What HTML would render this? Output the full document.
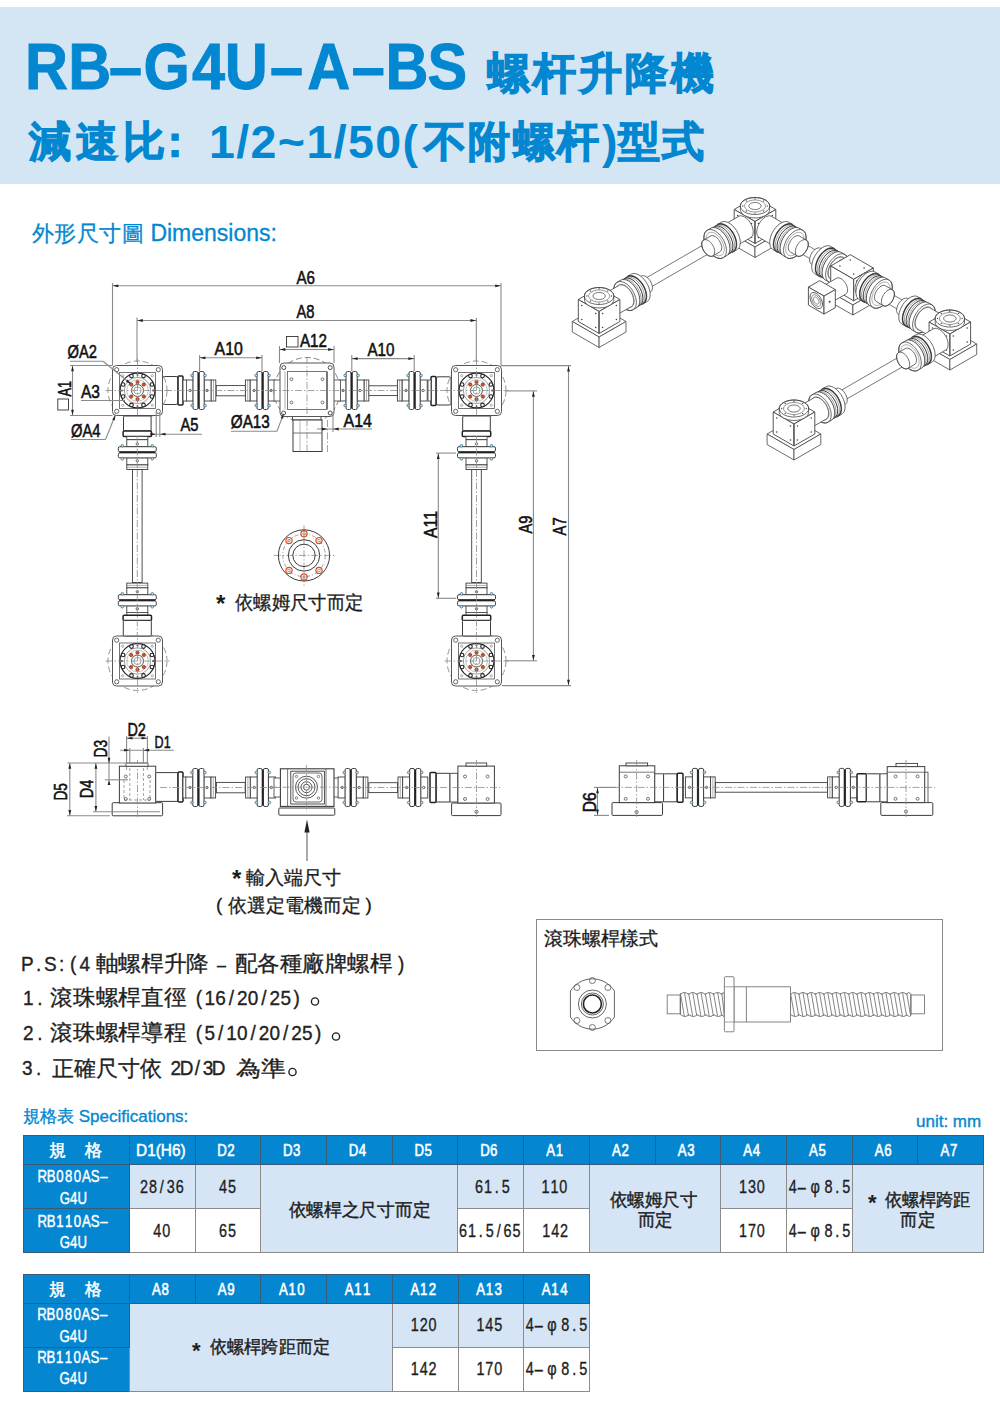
<!DOCTYPE html>
<html><head><meta charset="utf-8">
<style>
html,body{margin:0;padding:0;background:#fff;}
body{width:1000px;height:1406px;position:relative;overflow:hidden;font-family:"Liberation Sans",sans-serif;color:#1a1a1a;}
.abs{position:absolute;white-space:nowrap;}
#band{position:absolute;left:0;top:7px;width:1000px;height:176.5px;background:#d4e5f4;}
#t1{left:26px;top:27.5px;font-size:64px;font-weight:bold;color:#0387d1;line-height:80px;transform:scaleX(0.948);transform-origin:0 0;}
.cj{font-weight:bold;color:#0387d1;-webkit-text-stroke:1.2px #0387d1;}
#t1b{left:487px;top:45px;font-size:43px;line-height:56px;letter-spacing:3px;}
#t2{left:29px;top:113px;font-size:40px;font-weight:bold;color:#0387d1;line-height:56px;}
#dim{left:32px;top:218px;font-size:23px;color:#0387d1;line-height:30px;-webkit-text-stroke:0.3px #0387d1;}
#spec{left:23px;top:1105px;font-size:17px;color:#0387d1;line-height:24px;-webkit-text-stroke:0.35px #0387d1;}
#unit{left:916px;top:1110px;font-size:17px;color:#0387d1;line-height:24px;-webkit-text-stroke:0.35px #0387d1;}
.ps{left:23px;font-size:20px;line-height:28px;color:#222;}
table.sp{position:absolute;border-collapse:collapse;table-layout:fixed;font-size:16px;}
table.sp td{border:1px solid #8c8c8c;text-align:center;vertical-align:middle;padding:0;overflow:hidden;color:#222;white-space:nowrap;}
table.sp tr.h td{background:#0586d1;color:#fff;height:28px;font-weight:bold;border-color:#3a5a78;}
table.sp td.n{background:#0586d1;color:#fff;line-height:21px;font-size:16px;border-color:#3a5a78;}
table.sp td.l{background:#d5e5f5;}
table.sp td.w{background:#fff;}
.box{position:absolute;border:1.5px solid #8a8a8a;}
</style></head><body>
<div id="band"></div>
<div class="abs cj" id="t1b">螺杆升降機</div>
<div class="abs cj" style="left:29px;top:114px;font-size:42px;line-height:56px;letter-spacing:4.8px;">減速比</div>
<div class="abs cj" style="left:153.5px;top:114px;font-size:42px;line-height:56px;">：</div>
<div class="abs" style="left:209px;top:112px;font-size:46.5px;line-height:60px;font-weight:bold;color:#0387d1;letter-spacing:1.4px;">1/2~1/50(</div>
<div class="abs cj" style="left:424px;top:114px;font-size:42px;line-height:56px;letter-spacing:2.3px;">不附螺杆</div>
<div class="abs" style="left:602px;top:112px;font-size:46.5px;line-height:60px;font-weight:bold;color:#0387d1;">)</div>
<div class="abs cj" style="left:618px;top:114px;font-size:42px;line-height:56px;letter-spacing:2.3px;">型式</div>
<div class="abs" id="dim"><span style="font-size:22px;letter-spacing:0.4px">外形尺寸圖</span> Dimensions:</div>


<div class="box" style="left:536px;top:919px;width:404.5px;height:129.5px;"></div>

<svg id="drw" style="position:absolute;left:0;top:0" width="1000" height="1100" viewBox="0 0 1000 1100">
<rect x="216.2" y="385.6" width="29.2" height="10.2" rx="0" fill="#fff" stroke="#3c3c3c" stroke-width="0.9"/>
<rect x="368.6" y="385.8" width="29.0" height="9.8" rx="0" fill="#fff" stroke="#3c3c3c" stroke-width="0.9"/>
<rect x="186.0" y="380.0" width="7.2" height="21.0" rx="0" fill="#fff" stroke="#3c3c3c" stroke-width="0.9"/>
<rect x="204.0" y="380.0" width="7.2" height="21.0" rx="0" fill="#fff" stroke="#3c3c3c" stroke-width="0.9"/>
<rect x="211.2" y="380.0" width="4.6" height="21.0" rx="0" fill="#fff" stroke="#3c3c3c" stroke-width="0.9"/>
<line x1="213.5" y1="380.0" x2="213.5" y2="401.0" stroke="#777" stroke-width="0.6" />
<rect x="193.0" y="371.5" width="5.0" height="38.0" rx="1.5" fill="#fff" stroke="#3c3c3c" stroke-width="1"/>
<rect x="199.2" y="371.5" width="5.0" height="38.0" rx="1.5" fill="#fff" stroke="#3c3c3c" stroke-width="1"/>
<line x1="198.6" y1="372.5" x2="198.6" y2="408.5" stroke="#222" stroke-width="1.6" />
<circle cx="192.1" cy="375.5" r="1.3" fill="#cfe3ee" stroke="#3a6f8a" stroke-width="0.8" />
<circle cx="205.1" cy="375.5" r="1.3" fill="#cfe3ee" stroke="#3a6f8a" stroke-width="0.8" />
<circle cx="192.1" cy="405.5" r="1.3" fill="#cfe3ee" stroke="#3a6f8a" stroke-width="0.8" />
<circle cx="205.1" cy="405.5" r="1.3" fill="#cfe3ee" stroke="#3a6f8a" stroke-width="0.8" />
<circle cx="190.1" cy="390.5" r="1.2" fill="none" stroke="#444" stroke-width="0.8" />
<circle cx="207.1" cy="390.5" r="1.2" fill="none" stroke="#444" stroke-width="0.8" />
<rect x="250.0" y="380.0" width="7.2" height="21.0" rx="0" fill="#fff" stroke="#3c3c3c" stroke-width="0.9"/>
<rect x="268.0" y="380.0" width="7.2" height="21.0" rx="0" fill="#fff" stroke="#3c3c3c" stroke-width="0.9"/>
<rect x="245.4" y="380.0" width="4.6" height="21.0" rx="0" fill="#fff" stroke="#3c3c3c" stroke-width="0.9"/>
<line x1="247.7" y1="380.0" x2="247.7" y2="401.0" stroke="#777" stroke-width="0.6" />
<rect x="257.0" y="371.5" width="5.0" height="38.0" rx="1.5" fill="#fff" stroke="#3c3c3c" stroke-width="1"/>
<rect x="263.2" y="371.5" width="5.0" height="38.0" rx="1.5" fill="#fff" stroke="#3c3c3c" stroke-width="1"/>
<line x1="262.6" y1="372.5" x2="262.6" y2="408.5" stroke="#222" stroke-width="1.6" />
<circle cx="256.1" cy="375.5" r="1.3" fill="#cfe3ee" stroke="#3a6f8a" stroke-width="0.8" />
<circle cx="269.1" cy="375.5" r="1.3" fill="#cfe3ee" stroke="#3a6f8a" stroke-width="0.8" />
<circle cx="256.1" cy="405.5" r="1.3" fill="#cfe3ee" stroke="#3a6f8a" stroke-width="0.8" />
<circle cx="269.1" cy="405.5" r="1.3" fill="#cfe3ee" stroke="#3a6f8a" stroke-width="0.8" />
<circle cx="254.1" cy="390.5" r="1.2" fill="none" stroke="#444" stroke-width="0.8" />
<circle cx="271.1" cy="390.5" r="1.2" fill="none" stroke="#444" stroke-width="0.8" />
<rect x="339.0" y="380.0" width="7.2" height="21.0" rx="0" fill="#fff" stroke="#3c3c3c" stroke-width="0.9"/>
<rect x="357.0" y="380.0" width="7.2" height="21.0" rx="0" fill="#fff" stroke="#3c3c3c" stroke-width="0.9"/>
<rect x="364.2" y="380.0" width="4.6" height="21.0" rx="0" fill="#fff" stroke="#3c3c3c" stroke-width="0.9"/>
<line x1="366.5" y1="380.0" x2="366.5" y2="401.0" stroke="#777" stroke-width="0.6" />
<rect x="346.0" y="371.5" width="5.0" height="38.0" rx="1.5" fill="#fff" stroke="#3c3c3c" stroke-width="1"/>
<rect x="352.2" y="371.5" width="5.0" height="38.0" rx="1.5" fill="#fff" stroke="#3c3c3c" stroke-width="1"/>
<line x1="351.6" y1="372.5" x2="351.6" y2="408.5" stroke="#222" stroke-width="1.6" />
<circle cx="345.1" cy="375.5" r="1.3" fill="#cfe3ee" stroke="#3a6f8a" stroke-width="0.8" />
<circle cx="358.1" cy="375.5" r="1.3" fill="#cfe3ee" stroke="#3a6f8a" stroke-width="0.8" />
<circle cx="345.1" cy="405.5" r="1.3" fill="#cfe3ee" stroke="#3a6f8a" stroke-width="0.8" />
<circle cx="358.1" cy="405.5" r="1.3" fill="#cfe3ee" stroke="#3a6f8a" stroke-width="0.8" />
<circle cx="343.1" cy="390.5" r="1.2" fill="none" stroke="#444" stroke-width="0.8" />
<circle cx="360.1" cy="390.5" r="1.2" fill="none" stroke="#444" stroke-width="0.8" />
<rect x="402.0" y="380.0" width="7.2" height="21.0" rx="0" fill="#fff" stroke="#3c3c3c" stroke-width="0.9"/>
<rect x="420.0" y="380.0" width="7.2" height="21.0" rx="0" fill="#fff" stroke="#3c3c3c" stroke-width="0.9"/>
<rect x="397.4" y="380.0" width="4.6" height="21.0" rx="0" fill="#fff" stroke="#3c3c3c" stroke-width="0.9"/>
<line x1="399.7" y1="380.0" x2="399.7" y2="401.0" stroke="#777" stroke-width="0.6" />
<rect x="409.0" y="371.5" width="5.0" height="38.0" rx="1.5" fill="#fff" stroke="#3c3c3c" stroke-width="1"/>
<rect x="415.2" y="371.5" width="5.0" height="38.0" rx="1.5" fill="#fff" stroke="#3c3c3c" stroke-width="1"/>
<line x1="414.6" y1="372.5" x2="414.6" y2="408.5" stroke="#222" stroke-width="1.6" />
<circle cx="408.1" cy="375.5" r="1.3" fill="#cfe3ee" stroke="#3a6f8a" stroke-width="0.8" />
<circle cx="421.1" cy="375.5" r="1.3" fill="#cfe3ee" stroke="#3a6f8a" stroke-width="0.8" />
<circle cx="408.1" cy="405.5" r="1.3" fill="#cfe3ee" stroke="#3a6f8a" stroke-width="0.8" />
<circle cx="421.1" cy="405.5" r="1.3" fill="#cfe3ee" stroke="#3a6f8a" stroke-width="0.8" />
<circle cx="406.1" cy="390.5" r="1.2" fill="none" stroke="#444" stroke-width="0.8" />
<circle cx="423.1" cy="390.5" r="1.2" fill="none" stroke="#444" stroke-width="0.8" />
<rect x="162.5" y="376.5" width="15.5" height="28.0" rx="2" fill="#fff" stroke="#3c3c3c" stroke-width="1"/>
<rect x="178.0" y="376.0" width="5.0" height="29.0" rx="1" fill="#fff" stroke="#222" stroke-width="1.5"/>
<rect x="183.0" y="380.0" width="3.5" height="21.0" rx="0" fill="#fff" stroke="#3c3c3c" stroke-width="0.8"/>
<rect x="436.0" y="376.8" width="15.0" height="28.2" rx="2" fill="#fff" stroke="#3c3c3c" stroke-width="1"/>
<rect x="431.0" y="376.5" width="5.0" height="29.0" rx="1" fill="#fff" stroke="#222" stroke-width="1.5"/>
<rect x="428.0" y="380.0" width="3.0" height="21.0" rx="0" fill="#fff" stroke="#3c3c3c" stroke-width="0.8"/>
<circle cx="307.0" cy="390.5" r="33" fill="none" stroke="#777" stroke-width="0.9" stroke-dasharray="6 3"/>
<rect x="274.0" y="380.0" width="7.0" height="21.0" rx="0" fill="#fff" stroke="#3c3c3c" stroke-width="0.8"/>
<rect x="333.0" y="380.0" width="7.5" height="21.0" rx="0" fill="#fff" stroke="#3c3c3c" stroke-width="0.8"/>
<rect x="290.0" y="409.5" width="33.0" height="5.5" rx="0" fill="#fff" stroke="#3c3c3c" stroke-width="0.9"/>
<rect x="292.5" y="415.0" width="28.5" height="5.0" rx="0" fill="#fff" stroke="#3c3c3c" stroke-width="0.9"/>
<rect x="293.0" y="420.0" width="29.0" height="31.5" rx="0" fill="#fff" stroke="#3c3c3c" stroke-width="1"/>
<line x1="293.0" y1="433.0" x2="322.0" y2="433.0" stroke="#555" stroke-width="0.8" />
<line x1="300.0" y1="420.0" x2="300.0" y2="451.5" stroke="#888" stroke-width="0.6" />
<rect x="280.0" y="363.0" width="54.0" height="53.5" rx="4" fill="#fff" stroke="#555" stroke-width="1.0"/>
<circle cx="283.8" cy="367.6" r="2" fill="none" stroke="#3c3c3c" stroke-width="0.9" />
<circle cx="330.2" cy="367.6" r="2" fill="none" stroke="#3c3c3c" stroke-width="0.9" />
<circle cx="283.6" cy="413.0" r="2" fill="none" stroke="#3c3c3c" stroke-width="0.9" />
<circle cx="330.2" cy="413.0" r="2" fill="none" stroke="#3c3c3c" stroke-width="0.9" />
<rect x="287.5" y="371.5" width="39.0" height="38.0" rx="0" fill="none" stroke="#666" stroke-width="0.9"/>
<line x1="327.5" y1="371.5" x2="327.5" y2="409.5" stroke="#555" stroke-width="0.8" />
<line x1="285.0" y1="371.5" x2="285.0" y2="409.5" stroke="#777" stroke-width="0.6" />
<circle cx="291.5" cy="379.2" r="1.4" fill="none" stroke="#555" stroke-width="0.8" />
<circle cx="291.5" cy="402.5" r="1.4" fill="none" stroke="#555" stroke-width="0.8" />
<circle cx="322.5" cy="379.2" r="1.4" fill="none" stroke="#555" stroke-width="0.8" />
<circle cx="322.5" cy="402.5" r="1.4" fill="none" stroke="#555" stroke-width="0.8" />
<line x1="307.0" y1="357.0" x2="307.0" y2="452.0" stroke="#8c8c8c" stroke-width="0.8" stroke-dasharray="7 2 1.5 2"/>
<line x1="270.0" y1="390.5" x2="345.0" y2="390.5" stroke="#8c8c8c" stroke-width="0.8" stroke-dasharray="7 2 1.5 2"/>
<line x1="327.5" y1="420.0" x2="327.5" y2="452.0" stroke="#8c8c8c" stroke-width="0.8" stroke-dasharray="7 2 1.5 2"/>
<line x1="165.0" y1="390.5" x2="275.0" y2="390.5" stroke="#8c8c8c" stroke-width="0.8" stroke-dasharray="7 2 1.5 2"/>
<line x1="340.0" y1="390.5" x2="450.0" y2="390.5" stroke="#8c8c8c" stroke-width="0.8" stroke-dasharray="7 2 1.5 2"/>
<circle cx="137.5" cy="390.5" r="29.5" fill="none" stroke="#888" stroke-width="0.9" stroke-dasharray="6 3"/>
<rect x="112.5" y="365.5" width="50.0" height="50.0" rx="4" fill="#fff" stroke="#555" stroke-width="1.0"/>
<circle cx="116.7" cy="369.7" r="2.1" fill="none" stroke="#555" stroke-width="0.9" />
<circle cx="116.7" cy="411.3" r="2.1" fill="none" stroke="#555" stroke-width="0.9" />
<circle cx="158.3" cy="369.7" r="2.1" fill="none" stroke="#555" stroke-width="0.9" />
<circle cx="158.3" cy="411.3" r="2.1" fill="none" stroke="#555" stroke-width="0.9" />
<rect x="119.5" y="372.5" width="36.0" height="36.0" rx="0" fill="none" stroke="#666" stroke-width="0.9"/>
<circle cx="122.7" cy="375.7" r="1.1" fill="none" stroke="#888" stroke-width="0.7" />
<circle cx="122.7" cy="405.3" r="1.1" fill="none" stroke="#888" stroke-width="0.7" />
<circle cx="152.3" cy="375.7" r="1.1" fill="none" stroke="#888" stroke-width="0.7" />
<circle cx="152.3" cy="405.3" r="1.1" fill="none" stroke="#888" stroke-width="0.7" />
<circle cx="137.5" cy="390.5" r="17.4" fill="none" stroke="#2a2a2a" stroke-width="1.2" />
<circle cx="137.5" cy="390.5" r="13.2" fill="none" stroke="#777" stroke-width="0.7" />
<circle cx="151.9" cy="396.5" r="1.8" fill="#fff" stroke="#222" stroke-width="1.1" />
<circle cx="143.5" cy="404.9" r="1.8" fill="#fff" stroke="#222" stroke-width="1.1" />
<circle cx="131.5" cy="404.9" r="1.8" fill="#fff" stroke="#222" stroke-width="1.1" />
<circle cx="123.1" cy="396.5" r="1.8" fill="#fff" stroke="#222" stroke-width="1.1" />
<circle cx="123.1" cy="384.5" r="1.8" fill="#fff" stroke="#222" stroke-width="1.1" />
<circle cx="131.5" cy="376.1" r="1.8" fill="#fff" stroke="#222" stroke-width="1.1" />
<circle cx="143.5" cy="376.1" r="1.8" fill="#fff" stroke="#222" stroke-width="1.1" />
<circle cx="151.9" cy="384.5" r="1.8" fill="#fff" stroke="#222" stroke-width="1.1" />
<circle cx="137.5" cy="374.9" r="0.9" fill="#222" stroke="none" stroke-width="0" />
<circle cx="137.5" cy="406.1" r="0.9" fill="#222" stroke="none" stroke-width="0" />
<circle cx="121.9" cy="390.5" r="0.9" fill="#222" stroke="none" stroke-width="0" />
<circle cx="153.1" cy="390.5" r="0.9" fill="#222" stroke="none" stroke-width="0" />
<circle cx="137.5" cy="390.5" r="10.8" fill="none" stroke="#999" stroke-width="0.6" />
<circle cx="137.5" cy="382.1" r="1.7" fill="#d9501e" stroke="#7a2a10" stroke-width="0.6" />
<circle cx="143.8" cy="384.5" r="1.7" fill="#d9501e" stroke="#7a2a10" stroke-width="0.6" />
<circle cx="131.2" cy="384.5" r="1.7" fill="#d9501e" stroke="#7a2a10" stroke-width="0.6" />
<circle cx="143.8" cy="396.5" r="1.7" fill="#d9501e" stroke="#7a2a10" stroke-width="0.6" />
<circle cx="131.2" cy="396.5" r="1.7" fill="#d9501e" stroke="#7a2a10" stroke-width="0.6" />
<circle cx="137.5" cy="399.1" r="1.7" fill="#d9501e" stroke="#7a2a10" stroke-width="0.6" />
<circle cx="137.5" cy="390.5" r="6.0" fill="none" stroke="#444" stroke-width="0.9" />
<circle cx="137.5" cy="390.5" r="3.6" fill="none" stroke="#777" stroke-width="0.7" />
<line x1="105.5" y1="390.5" x2="169.5" y2="390.5" stroke="#8c8c8c" stroke-width="0.8" stroke-dasharray="7 2 1.5 2"/>
<line x1="137.5" y1="358.5" x2="137.5" y2="422.5" stroke="#8c8c8c" stroke-width="0.8" stroke-dasharray="7 2 1.5 2"/>
<circle cx="476.5" cy="390.5" r="29.5" fill="none" stroke="#888" stroke-width="0.9" stroke-dasharray="6 3"/>
<rect x="451.5" y="365.5" width="50.0" height="50.0" rx="4" fill="#fff" stroke="#555" stroke-width="1.0"/>
<circle cx="455.7" cy="369.7" r="2.1" fill="none" stroke="#555" stroke-width="0.9" />
<circle cx="455.7" cy="411.3" r="2.1" fill="none" stroke="#555" stroke-width="0.9" />
<circle cx="497.3" cy="369.7" r="2.1" fill="none" stroke="#555" stroke-width="0.9" />
<circle cx="497.3" cy="411.3" r="2.1" fill="none" stroke="#555" stroke-width="0.9" />
<rect x="458.5" y="372.5" width="36.0" height="36.0" rx="0" fill="none" stroke="#666" stroke-width="0.9"/>
<circle cx="461.7" cy="375.7" r="1.1" fill="none" stroke="#888" stroke-width="0.7" />
<circle cx="461.7" cy="405.3" r="1.1" fill="none" stroke="#888" stroke-width="0.7" />
<circle cx="491.3" cy="375.7" r="1.1" fill="none" stroke="#888" stroke-width="0.7" />
<circle cx="491.3" cy="405.3" r="1.1" fill="none" stroke="#888" stroke-width="0.7" />
<circle cx="476.5" cy="390.5" r="17.4" fill="none" stroke="#2a2a2a" stroke-width="1.2" />
<circle cx="476.5" cy="390.5" r="13.2" fill="none" stroke="#777" stroke-width="0.7" />
<circle cx="490.9" cy="396.5" r="1.8" fill="#fff" stroke="#222" stroke-width="1.1" />
<circle cx="482.5" cy="404.9" r="1.8" fill="#fff" stroke="#222" stroke-width="1.1" />
<circle cx="470.5" cy="404.9" r="1.8" fill="#fff" stroke="#222" stroke-width="1.1" />
<circle cx="462.1" cy="396.5" r="1.8" fill="#fff" stroke="#222" stroke-width="1.1" />
<circle cx="462.1" cy="384.5" r="1.8" fill="#fff" stroke="#222" stroke-width="1.1" />
<circle cx="470.5" cy="376.1" r="1.8" fill="#fff" stroke="#222" stroke-width="1.1" />
<circle cx="482.5" cy="376.1" r="1.8" fill="#fff" stroke="#222" stroke-width="1.1" />
<circle cx="490.9" cy="384.5" r="1.8" fill="#fff" stroke="#222" stroke-width="1.1" />
<circle cx="476.5" cy="374.9" r="0.9" fill="#222" stroke="none" stroke-width="0" />
<circle cx="476.5" cy="406.1" r="0.9" fill="#222" stroke="none" stroke-width="0" />
<circle cx="460.9" cy="390.5" r="0.9" fill="#222" stroke="none" stroke-width="0" />
<circle cx="492.1" cy="390.5" r="0.9" fill="#222" stroke="none" stroke-width="0" />
<circle cx="476.5" cy="390.5" r="10.8" fill="none" stroke="#999" stroke-width="0.6" />
<circle cx="476.5" cy="382.1" r="1.7" fill="#d9501e" stroke="#7a2a10" stroke-width="0.6" />
<circle cx="482.8" cy="384.5" r="1.7" fill="#d9501e" stroke="#7a2a10" stroke-width="0.6" />
<circle cx="470.2" cy="384.5" r="1.7" fill="#d9501e" stroke="#7a2a10" stroke-width="0.6" />
<circle cx="482.8" cy="396.5" r="1.7" fill="#d9501e" stroke="#7a2a10" stroke-width="0.6" />
<circle cx="470.2" cy="396.5" r="1.7" fill="#d9501e" stroke="#7a2a10" stroke-width="0.6" />
<circle cx="476.5" cy="399.1" r="1.7" fill="#d9501e" stroke="#7a2a10" stroke-width="0.6" />
<circle cx="476.5" cy="390.5" r="6.0" fill="none" stroke="#444" stroke-width="0.9" />
<circle cx="476.5" cy="390.5" r="3.6" fill="none" stroke="#777" stroke-width="0.7" />
<line x1="444.5" y1="390.5" x2="508.5" y2="390.5" stroke="#8c8c8c" stroke-width="0.8" stroke-dasharray="7 2 1.5 2"/>
<line x1="476.5" y1="358.5" x2="476.5" y2="422.5" stroke="#8c8c8c" stroke-width="0.8" stroke-dasharray="7 2 1.5 2"/>
<circle cx="137.5" cy="661.0" r="29.5" fill="none" stroke="#888" stroke-width="0.9" stroke-dasharray="6 3"/>
<rect x="112.5" y="636.0" width="50.0" height="50.0" rx="4" fill="#fff" stroke="#555" stroke-width="1.0"/>
<circle cx="116.7" cy="640.2" r="2.1" fill="none" stroke="#555" stroke-width="0.9" />
<circle cx="116.7" cy="681.8" r="2.1" fill="none" stroke="#555" stroke-width="0.9" />
<circle cx="158.3" cy="640.2" r="2.1" fill="none" stroke="#555" stroke-width="0.9" />
<circle cx="158.3" cy="681.8" r="2.1" fill="none" stroke="#555" stroke-width="0.9" />
<rect x="119.5" y="643.0" width="36.0" height="36.0" rx="0" fill="none" stroke="#666" stroke-width="0.9"/>
<circle cx="122.7" cy="646.2" r="1.1" fill="none" stroke="#888" stroke-width="0.7" />
<circle cx="122.7" cy="675.8" r="1.1" fill="none" stroke="#888" stroke-width="0.7" />
<circle cx="152.3" cy="646.2" r="1.1" fill="none" stroke="#888" stroke-width="0.7" />
<circle cx="152.3" cy="675.8" r="1.1" fill="none" stroke="#888" stroke-width="0.7" />
<circle cx="137.5" cy="661.0" r="17.4" fill="none" stroke="#2a2a2a" stroke-width="1.2" />
<circle cx="137.5" cy="661.0" r="13.2" fill="none" stroke="#777" stroke-width="0.7" />
<circle cx="151.9" cy="667.0" r="1.8" fill="#fff" stroke="#222" stroke-width="1.1" />
<circle cx="143.5" cy="675.4" r="1.8" fill="#fff" stroke="#222" stroke-width="1.1" />
<circle cx="131.5" cy="675.4" r="1.8" fill="#fff" stroke="#222" stroke-width="1.1" />
<circle cx="123.1" cy="667.0" r="1.8" fill="#fff" stroke="#222" stroke-width="1.1" />
<circle cx="123.1" cy="655.0" r="1.8" fill="#fff" stroke="#222" stroke-width="1.1" />
<circle cx="131.5" cy="646.6" r="1.8" fill="#fff" stroke="#222" stroke-width="1.1" />
<circle cx="143.5" cy="646.6" r="1.8" fill="#fff" stroke="#222" stroke-width="1.1" />
<circle cx="151.9" cy="655.0" r="1.8" fill="#fff" stroke="#222" stroke-width="1.1" />
<circle cx="137.5" cy="645.4" r="0.9" fill="#222" stroke="none" stroke-width="0" />
<circle cx="137.5" cy="676.6" r="0.9" fill="#222" stroke="none" stroke-width="0" />
<circle cx="121.9" cy="661.0" r="0.9" fill="#222" stroke="none" stroke-width="0" />
<circle cx="153.1" cy="661.0" r="0.9" fill="#222" stroke="none" stroke-width="0" />
<circle cx="137.5" cy="661.0" r="10.8" fill="none" stroke="#999" stroke-width="0.6" />
<circle cx="137.5" cy="652.6" r="1.7" fill="#d9501e" stroke="#7a2a10" stroke-width="0.6" />
<circle cx="143.8" cy="655.0" r="1.7" fill="#d9501e" stroke="#7a2a10" stroke-width="0.6" />
<circle cx="131.2" cy="655.0" r="1.7" fill="#d9501e" stroke="#7a2a10" stroke-width="0.6" />
<circle cx="143.8" cy="667.0" r="1.7" fill="#d9501e" stroke="#7a2a10" stroke-width="0.6" />
<circle cx="131.2" cy="667.0" r="1.7" fill="#d9501e" stroke="#7a2a10" stroke-width="0.6" />
<circle cx="137.5" cy="669.6" r="1.7" fill="#d9501e" stroke="#7a2a10" stroke-width="0.6" />
<circle cx="137.5" cy="661.0" r="6.0" fill="none" stroke="#444" stroke-width="0.9" />
<circle cx="137.5" cy="661.0" r="3.6" fill="none" stroke="#777" stroke-width="0.7" />
<line x1="105.5" y1="661.0" x2="169.5" y2="661.0" stroke="#8c8c8c" stroke-width="0.8" stroke-dasharray="7 2 1.5 2"/>
<line x1="137.5" y1="629.0" x2="137.5" y2="693.0" stroke="#8c8c8c" stroke-width="0.8" stroke-dasharray="7 2 1.5 2"/>
<circle cx="476.5" cy="661.0" r="29.5" fill="none" stroke="#888" stroke-width="0.9" stroke-dasharray="6 3"/>
<rect x="451.5" y="636.0" width="50.0" height="50.0" rx="4" fill="#fff" stroke="#555" stroke-width="1.0"/>
<circle cx="455.7" cy="640.2" r="2.1" fill="none" stroke="#555" stroke-width="0.9" />
<circle cx="455.7" cy="681.8" r="2.1" fill="none" stroke="#555" stroke-width="0.9" />
<circle cx="497.3" cy="640.2" r="2.1" fill="none" stroke="#555" stroke-width="0.9" />
<circle cx="497.3" cy="681.8" r="2.1" fill="none" stroke="#555" stroke-width="0.9" />
<rect x="458.5" y="643.0" width="36.0" height="36.0" rx="0" fill="none" stroke="#666" stroke-width="0.9"/>
<circle cx="461.7" cy="646.2" r="1.1" fill="none" stroke="#888" stroke-width="0.7" />
<circle cx="461.7" cy="675.8" r="1.1" fill="none" stroke="#888" stroke-width="0.7" />
<circle cx="491.3" cy="646.2" r="1.1" fill="none" stroke="#888" stroke-width="0.7" />
<circle cx="491.3" cy="675.8" r="1.1" fill="none" stroke="#888" stroke-width="0.7" />
<circle cx="476.5" cy="661.0" r="17.4" fill="none" stroke="#2a2a2a" stroke-width="1.2" />
<circle cx="476.5" cy="661.0" r="13.2" fill="none" stroke="#777" stroke-width="0.7" />
<circle cx="490.9" cy="667.0" r="1.8" fill="#fff" stroke="#222" stroke-width="1.1" />
<circle cx="482.5" cy="675.4" r="1.8" fill="#fff" stroke="#222" stroke-width="1.1" />
<circle cx="470.5" cy="675.4" r="1.8" fill="#fff" stroke="#222" stroke-width="1.1" />
<circle cx="462.1" cy="667.0" r="1.8" fill="#fff" stroke="#222" stroke-width="1.1" />
<circle cx="462.1" cy="655.0" r="1.8" fill="#fff" stroke="#222" stroke-width="1.1" />
<circle cx="470.5" cy="646.6" r="1.8" fill="#fff" stroke="#222" stroke-width="1.1" />
<circle cx="482.5" cy="646.6" r="1.8" fill="#fff" stroke="#222" stroke-width="1.1" />
<circle cx="490.9" cy="655.0" r="1.8" fill="#fff" stroke="#222" stroke-width="1.1" />
<circle cx="476.5" cy="645.4" r="0.9" fill="#222" stroke="none" stroke-width="0" />
<circle cx="476.5" cy="676.6" r="0.9" fill="#222" stroke="none" stroke-width="0" />
<circle cx="460.9" cy="661.0" r="0.9" fill="#222" stroke="none" stroke-width="0" />
<circle cx="492.1" cy="661.0" r="0.9" fill="#222" stroke="none" stroke-width="0" />
<circle cx="476.5" cy="661.0" r="10.8" fill="none" stroke="#999" stroke-width="0.6" />
<circle cx="476.5" cy="652.6" r="1.7" fill="#d9501e" stroke="#7a2a10" stroke-width="0.6" />
<circle cx="482.8" cy="655.0" r="1.7" fill="#d9501e" stroke="#7a2a10" stroke-width="0.6" />
<circle cx="470.2" cy="655.0" r="1.7" fill="#d9501e" stroke="#7a2a10" stroke-width="0.6" />
<circle cx="482.8" cy="667.0" r="1.7" fill="#d9501e" stroke="#7a2a10" stroke-width="0.6" />
<circle cx="470.2" cy="667.0" r="1.7" fill="#d9501e" stroke="#7a2a10" stroke-width="0.6" />
<circle cx="476.5" cy="669.6" r="1.7" fill="#d9501e" stroke="#7a2a10" stroke-width="0.6" />
<circle cx="476.5" cy="661.0" r="6.0" fill="none" stroke="#444" stroke-width="0.9" />
<circle cx="476.5" cy="661.0" r="3.6" fill="none" stroke="#777" stroke-width="0.7" />
<line x1="444.5" y1="661.0" x2="508.5" y2="661.0" stroke="#8c8c8c" stroke-width="0.8" stroke-dasharray="7 2 1.5 2"/>
<line x1="476.5" y1="629.0" x2="476.5" y2="693.0" stroke="#8c8c8c" stroke-width="0.8" stroke-dasharray="7 2 1.5 2"/>
<rect x="123.5" y="416.0" width="27.6" height="15.0" rx="1" fill="#fff" stroke="#3c3c3c" stroke-width="1"/>
<rect x="123.1" y="431.0" width="28.4" height="5.5" rx="1" fill="#fff" stroke="#222" stroke-width="1.5"/>
<rect x="126.8" y="436.5" width="21.0" height="3.0" rx="0" fill="#fff" stroke="#3c3c3c" stroke-width="0.8"/>
<g transform="rotate(90 137.3 452.3)">
<rect x="124.7" y="441.8" width="7.2" height="21.0" rx="0" fill="#fff" stroke="#3c3c3c" stroke-width="0.9"/>
<rect x="142.7" y="441.8" width="7.2" height="21.0" rx="0" fill="#fff" stroke="#3c3c3c" stroke-width="0.9"/>
<rect x="149.9" y="441.8" width="4.6" height="21.0" rx="0" fill="#fff" stroke="#3c3c3c" stroke-width="0.9"/>
<line x1="152.2" y1="441.8" x2="152.2" y2="462.8" stroke="#777" stroke-width="0.6" />
<rect x="131.7" y="433.3" width="5.0" height="38.0" rx="1.5" fill="#fff" stroke="#3c3c3c" stroke-width="1"/>
<rect x="137.9" y="433.3" width="5.0" height="38.0" rx="1.5" fill="#fff" stroke="#3c3c3c" stroke-width="1"/>
<line x1="137.3" y1="434.3" x2="137.3" y2="470.3" stroke="#222" stroke-width="1.6" />
<circle cx="130.8" cy="437.3" r="1.3" fill="#cfe3ee" stroke="#3a6f8a" stroke-width="0.8" />
<circle cx="143.8" cy="437.3" r="1.3" fill="#cfe3ee" stroke="#3a6f8a" stroke-width="0.8" />
<circle cx="130.8" cy="467.3" r="1.3" fill="#cfe3ee" stroke="#3a6f8a" stroke-width="0.8" />
<circle cx="143.8" cy="467.3" r="1.3" fill="#cfe3ee" stroke="#3a6f8a" stroke-width="0.8" />
<circle cx="128.8" cy="452.3" r="1.2" fill="none" stroke="#444" stroke-width="0.8" />
<circle cx="145.8" cy="452.3" r="1.2" fill="none" stroke="#444" stroke-width="0.8" />
</g>
<rect x="132.5" y="469.5" width="9.6" height="113.0" rx="0" fill="#fff" stroke="#3c3c3c" stroke-width="0.9"/>
<line x1="137.3" y1="470.0" x2="137.3" y2="582.0" stroke="#8c8c8c" stroke-width="0.8" stroke-dasharray="7 2 1.5 2"/>
<g transform="rotate(90 137.3 600.3)">
<rect x="124.7" y="589.8" width="7.2" height="21.0" rx="0" fill="#fff" stroke="#3c3c3c" stroke-width="0.9"/>
<rect x="142.7" y="589.8" width="7.2" height="21.0" rx="0" fill="#fff" stroke="#3c3c3c" stroke-width="0.9"/>
<rect x="120.1" y="589.8" width="4.6" height="21.0" rx="0" fill="#fff" stroke="#3c3c3c" stroke-width="0.9"/>
<line x1="122.4" y1="589.8" x2="122.4" y2="610.8" stroke="#777" stroke-width="0.6" />
<rect x="131.7" y="581.3" width="5.0" height="38.0" rx="1.5" fill="#fff" stroke="#3c3c3c" stroke-width="1"/>
<rect x="137.9" y="581.3" width="5.0" height="38.0" rx="1.5" fill="#fff" stroke="#3c3c3c" stroke-width="1"/>
<line x1="137.3" y1="582.3" x2="137.3" y2="618.3" stroke="#222" stroke-width="1.6" />
<circle cx="130.8" cy="585.3" r="1.3" fill="#cfe3ee" stroke="#3a6f8a" stroke-width="0.8" />
<circle cx="143.8" cy="585.3" r="1.3" fill="#cfe3ee" stroke="#3a6f8a" stroke-width="0.8" />
<circle cx="130.8" cy="615.3" r="1.3" fill="#cfe3ee" stroke="#3a6f8a" stroke-width="0.8" />
<circle cx="143.8" cy="615.3" r="1.3" fill="#cfe3ee" stroke="#3a6f8a" stroke-width="0.8" />
<circle cx="128.8" cy="600.3" r="1.2" fill="none" stroke="#444" stroke-width="0.8" />
<circle cx="145.8" cy="600.3" r="1.2" fill="none" stroke="#444" stroke-width="0.8" />
</g>
<rect x="126.8" y="612.5" width="21.0" height="2.8" rx="0" fill="#fff" stroke="#3c3c3c" stroke-width="0.8"/>
<rect x="123.1" y="615.3" width="28.4" height="5.2" rx="1" fill="#fff" stroke="#222" stroke-width="1.5"/>
<rect x="123.3" y="620.5" width="28.0" height="15.5" rx="1" fill="#fff" stroke="#3c3c3c" stroke-width="1"/>
<line x1="137.3" y1="436.0" x2="137.3" y2="470.0" stroke="#8c8c8c" stroke-width="0.8" stroke-dasharray="7 2 1.5 2"/>
<line x1="137.3" y1="582.0" x2="137.3" y2="636.0" stroke="#8c8c8c" stroke-width="0.8" stroke-dasharray="7 2 1.5 2"/>
<rect x="462.7" y="416.0" width="27.6" height="15.0" rx="1" fill="#fff" stroke="#3c3c3c" stroke-width="1"/>
<rect x="462.3" y="431.0" width="28.4" height="5.5" rx="1" fill="#fff" stroke="#222" stroke-width="1.5"/>
<rect x="466.0" y="436.5" width="21.0" height="3.0" rx="0" fill="#fff" stroke="#3c3c3c" stroke-width="0.8"/>
<g transform="rotate(90 476.5 452.3)">
<rect x="463.9" y="441.8" width="7.2" height="21.0" rx="0" fill="#fff" stroke="#3c3c3c" stroke-width="0.9"/>
<rect x="481.9" y="441.8" width="7.2" height="21.0" rx="0" fill="#fff" stroke="#3c3c3c" stroke-width="0.9"/>
<rect x="489.1" y="441.8" width="4.6" height="21.0" rx="0" fill="#fff" stroke="#3c3c3c" stroke-width="0.9"/>
<line x1="491.4" y1="441.8" x2="491.4" y2="462.8" stroke="#777" stroke-width="0.6" />
<rect x="470.9" y="433.3" width="5.0" height="38.0" rx="1.5" fill="#fff" stroke="#3c3c3c" stroke-width="1"/>
<rect x="477.1" y="433.3" width="5.0" height="38.0" rx="1.5" fill="#fff" stroke="#3c3c3c" stroke-width="1"/>
<line x1="476.5" y1="434.3" x2="476.5" y2="470.3" stroke="#222" stroke-width="1.6" />
<circle cx="470.0" cy="437.3" r="1.3" fill="#cfe3ee" stroke="#3a6f8a" stroke-width="0.8" />
<circle cx="483.0" cy="437.3" r="1.3" fill="#cfe3ee" stroke="#3a6f8a" stroke-width="0.8" />
<circle cx="470.0" cy="467.3" r="1.3" fill="#cfe3ee" stroke="#3a6f8a" stroke-width="0.8" />
<circle cx="483.0" cy="467.3" r="1.3" fill="#cfe3ee" stroke="#3a6f8a" stroke-width="0.8" />
<circle cx="468.0" cy="452.3" r="1.2" fill="none" stroke="#444" stroke-width="0.8" />
<circle cx="485.0" cy="452.3" r="1.2" fill="none" stroke="#444" stroke-width="0.8" />
</g>
<rect x="471.7" y="469.5" width="9.6" height="113.0" rx="0" fill="#fff" stroke="#3c3c3c" stroke-width="0.9"/>
<line x1="476.5" y1="470.0" x2="476.5" y2="582.0" stroke="#8c8c8c" stroke-width="0.8" stroke-dasharray="7 2 1.5 2"/>
<g transform="rotate(90 476.5 600.3)">
<rect x="463.9" y="589.8" width="7.2" height="21.0" rx="0" fill="#fff" stroke="#3c3c3c" stroke-width="0.9"/>
<rect x="481.9" y="589.8" width="7.2" height="21.0" rx="0" fill="#fff" stroke="#3c3c3c" stroke-width="0.9"/>
<rect x="459.3" y="589.8" width="4.6" height="21.0" rx="0" fill="#fff" stroke="#3c3c3c" stroke-width="0.9"/>
<line x1="461.6" y1="589.8" x2="461.6" y2="610.8" stroke="#777" stroke-width="0.6" />
<rect x="470.9" y="581.3" width="5.0" height="38.0" rx="1.5" fill="#fff" stroke="#3c3c3c" stroke-width="1"/>
<rect x="477.1" y="581.3" width="5.0" height="38.0" rx="1.5" fill="#fff" stroke="#3c3c3c" stroke-width="1"/>
<line x1="476.5" y1="582.3" x2="476.5" y2="618.3" stroke="#222" stroke-width="1.6" />
<circle cx="470.0" cy="585.3" r="1.3" fill="#cfe3ee" stroke="#3a6f8a" stroke-width="0.8" />
<circle cx="483.0" cy="585.3" r="1.3" fill="#cfe3ee" stroke="#3a6f8a" stroke-width="0.8" />
<circle cx="470.0" cy="615.3" r="1.3" fill="#cfe3ee" stroke="#3a6f8a" stroke-width="0.8" />
<circle cx="483.0" cy="615.3" r="1.3" fill="#cfe3ee" stroke="#3a6f8a" stroke-width="0.8" />
<circle cx="468.0" cy="600.3" r="1.2" fill="none" stroke="#444" stroke-width="0.8" />
<circle cx="485.0" cy="600.3" r="1.2" fill="none" stroke="#444" stroke-width="0.8" />
</g>
<rect x="466.0" y="612.5" width="21.0" height="2.8" rx="0" fill="#fff" stroke="#3c3c3c" stroke-width="0.8"/>
<rect x="462.3" y="615.3" width="28.4" height="5.2" rx="1" fill="#fff" stroke="#222" stroke-width="1.5"/>
<rect x="462.5" y="620.5" width="28.0" height="15.5" rx="1" fill="#fff" stroke="#3c3c3c" stroke-width="1"/>
<line x1="476.5" y1="436.0" x2="476.5" y2="470.0" stroke="#8c8c8c" stroke-width="0.8" stroke-dasharray="7 2 1.5 2"/>
<line x1="476.5" y1="582.0" x2="476.5" y2="636.0" stroke="#8c8c8c" stroke-width="0.8" stroke-dasharray="7 2 1.5 2"/>
<line x1="112.5" y1="283.0" x2="112.5" y2="365.5" stroke="#8a8a8a" stroke-width="1.1" />
<line x1="501.0" y1="283.0" x2="501.0" y2="365.6" stroke="#8a8a8a" stroke-width="1.1" />
<line x1="112.5" y1="285.8" x2="501.0" y2="285.8" stroke="#8a8a8a" stroke-width="1.1" />
<path d="M112.8,285.8L118.3,284.4L118.3,287.2Z" fill="#222"/>
<path d="M500.7,285.8L495.2,287.2L495.2,284.4Z" fill="#222"/>
<text x="296.5" y="283.5" font-family="Liberation Sans" font-size="18.5" textLength="18.5" lengthAdjust="spacingAndGlyphs" fill="#111" font-weight="normal" stroke="#111" stroke-width="0.55">A6</text>
<line x1="137.0" y1="317.5" x2="137.0" y2="362.0" stroke="#8a8a8a" stroke-width="1.1" />
<line x1="476.3" y1="318.0" x2="476.3" y2="362.0" stroke="#8a8a8a" stroke-width="1.1" />
<line x1="137.0" y1="320.5" x2="476.3" y2="320.5" stroke="#8a8a8a" stroke-width="1.1" />
<path d="M137.3,320.5L142.8,319.1L142.8,321.9Z" fill="#222"/>
<path d="M476.0,320.5L470.5,321.9L470.5,319.1Z" fill="#222"/>
<text x="296.5" y="318.0" font-family="Liberation Sans" font-size="18.5" textLength="18.0" lengthAdjust="spacingAndGlyphs" fill="#111" font-weight="normal" stroke="#111" stroke-width="0.55">A8</text>
<line x1="199.6" y1="355.0" x2="199.6" y2="371.0" stroke="#8a8a8a" stroke-width="1.1" />
<line x1="262.0" y1="355.0" x2="262.0" y2="371.0" stroke="#8a8a8a" stroke-width="1.1" />
<line x1="199.6" y1="357.8" x2="262.0" y2="357.8" stroke="#8a8a8a" stroke-width="1.1" />
<path d="M199.9,357.8L205.4,356.4L205.4,359.2Z" fill="#222"/>
<path d="M261.7,357.8L256.2,359.2L256.2,356.4Z" fill="#222"/>
<text x="214.6" y="355.0" font-family="Liberation Sans" font-size="17.5" textLength="28.2" lengthAdjust="spacingAndGlyphs" fill="#111" font-weight="normal" stroke="#111" stroke-width="0.55">A10</text>
<line x1="351.8" y1="355.0" x2="351.8" y2="371.0" stroke="#8a8a8a" stroke-width="1.1" />
<line x1="414.2" y1="355.0" x2="414.2" y2="371.0" stroke="#8a8a8a" stroke-width="1.1" />
<line x1="351.8" y1="358.6" x2="414.2" y2="358.6" stroke="#8a8a8a" stroke-width="1.1" />
<path d="M352.1,358.6L357.6,357.2L357.6,360.0Z" fill="#222"/>
<path d="M413.9,358.6L408.4,360.0L408.4,357.2Z" fill="#222"/>
<text x="367.4" y="355.8" font-family="Liberation Sans" font-size="17.5" textLength="27.0" lengthAdjust="spacingAndGlyphs" fill="#111" font-weight="normal" stroke="#111" stroke-width="0.55">A10</text>
<line x1="279.5" y1="346.0" x2="279.5" y2="363.0" stroke="#8a8a8a" stroke-width="1.1" />
<line x1="334.0" y1="346.0" x2="334.0" y2="363.0" stroke="#8a8a8a" stroke-width="1.1" />
<line x1="279.5" y1="349.5" x2="334.0" y2="349.5" stroke="#8a8a8a" stroke-width="1.1" />
<path d="M279.8,349.5L285.3,348.1L285.3,350.9Z" fill="#222"/>
<path d="M333.7,349.5L328.2,350.9L328.2,348.1Z" fill="#222"/>
<rect x="286.5" y="336.5" width="11.5" height="10.5" rx="0" fill="none" stroke="#333" stroke-width="0.9"/>
<text x="300.0" y="347.0" font-family="Liberation Sans" font-size="17.5" textLength="27.0" lengthAdjust="spacingAndGlyphs" fill="#111" font-weight="normal" stroke="#111" stroke-width="0.55">A12</text>
<line x1="333.0" y1="412.0" x2="333.0" y2="432.0" stroke="#8a8a8a" stroke-width="1.1" />
<line x1="317.0" y1="429.0" x2="372.0" y2="429.0" stroke="#8a8a8a" stroke-width="1.1" />
<path d="M327.3,429.0L321.8,430.4L321.8,427.6Z" fill="#222"/>
<path d="M333.2,429.0L338.7,427.6L338.7,430.4Z" fill="#222"/>
<text x="343.5" y="426.5" font-family="Liberation Sans" font-size="17.5" textLength="28.5" lengthAdjust="spacingAndGlyphs" fill="#111" font-weight="normal" stroke="#111" stroke-width="0.55">A14</text>
<text x="230.8" y="428.2" font-family="Liberation Sans" font-size="17.5" textLength="39.0" lengthAdjust="spacingAndGlyphs" fill="#111" font-weight="normal" stroke="#111" stroke-width="0.55">ØA13</text>
<line x1="231.0" y1="431.2" x2="277.0" y2="431.2" stroke="#8a8a8a" stroke-width="1.1" />
<line x1="277.0" y1="431.2" x2="283.5" y2="414.0" stroke="#8a8a8a" stroke-width="1.1" />
<path d="M283.6,413.6L283.2,418.7L280.7,417.9Z" fill="#222"/>
<line x1="156.2" y1="412.0" x2="156.2" y2="437.0" stroke="#8a8a8a" stroke-width="1.1" />
<line x1="159.8" y1="412.0" x2="159.8" y2="437.0" stroke="#8a8a8a" stroke-width="1.1" />
<line x1="150.0" y1="434.2" x2="202.0" y2="434.2" stroke="#8a8a8a" stroke-width="1.1" />
<path d="M156.0,434.2L150.5,435.6L150.5,432.8Z" fill="#222"/>
<path d="M160.0,434.2L165.5,432.8L165.5,435.6Z" fill="#222"/>
<text x="180.4" y="431.2" font-family="Liberation Sans" font-size="17.5" textLength="18.0" lengthAdjust="spacingAndGlyphs" fill="#111" font-weight="normal" stroke="#111" stroke-width="0.55">A5</text>
<text x="67.5" y="358.0" font-family="Liberation Sans" font-size="18" textLength="29.5" lengthAdjust="spacingAndGlyphs" fill="#111" font-weight="normal" stroke="#111" stroke-width="0.55">ØA2</text>
<line x1="70.0" y1="361.2" x2="103.0" y2="361.2" stroke="#8a8a8a" stroke-width="1.1" />
<line x1="103.0" y1="361.2" x2="131.0" y2="384.0" stroke="#8a8a8a" stroke-width="1.1" />
<path d="M131.5,384.4L126.0,381.7L127.6,379.6Z" fill="#222"/>
<line x1="70.0" y1="365.5" x2="112.5" y2="365.5" stroke="#8a8a8a" stroke-width="1.1" />
<line x1="70.0" y1="415.5" x2="112.5" y2="415.5" stroke="#8a8a8a" stroke-width="1.1" />
<line x1="72.5" y1="365.5" x2="72.5" y2="415.5" stroke="#8a8a8a" stroke-width="1.1" />
<path d="M72.5,365.8L73.9,371.3L71.1,371.3Z" fill="#222"/>
<path d="M72.5,415.2L71.1,409.7L73.9,409.7Z" fill="#222"/>
<text transform="translate(70.5,396.5) rotate(-90)" x="0" y="0" font-family="Liberation Sans" font-size="18" textLength="15.5" lengthAdjust="spacingAndGlyphs" fill="#111" stroke="#111" stroke-width="0.55">A1</text>
<rect x="57.8" y="399.0" width="10.7" height="11.0" rx="0" fill="none" stroke="#333" stroke-width="0.9"/>
<text x="81.0" y="398.0" font-family="Liberation Sans" font-size="18" textLength="19.0" lengthAdjust="spacingAndGlyphs" fill="#111" font-weight="normal" stroke="#111" stroke-width="0.55">A3</text>
<line x1="81.0" y1="400.5" x2="125.0" y2="400.5" stroke="#8a8a8a" stroke-width="1.1" />
<text x="71.0" y="437.0" font-family="Liberation Sans" font-size="18" textLength="29.5" lengthAdjust="spacingAndGlyphs" fill="#111" font-weight="normal" stroke="#111" stroke-width="0.55">ØA4</text>
<line x1="71.0" y1="439.5" x2="105.5" y2="439.5" stroke="#8a8a8a" stroke-width="1.1" />
<line x1="105.5" y1="439.5" x2="115.0" y2="416.0" stroke="#8a8a8a" stroke-width="1.1" />
<path d="M115.5,414.5L114.7,420.6L112.3,419.7Z" fill="#222"/>
<line x1="436.0" y1="453.1" x2="456.0" y2="453.1" stroke="#8a8a8a" stroke-width="1.1" />
<line x1="436.0" y1="598.3" x2="456.0" y2="598.3" stroke="#8a8a8a" stroke-width="1.1" />
<line x1="438.3" y1="453.1" x2="438.3" y2="598.3" stroke="#8a8a8a" stroke-width="1.1" />
<path d="M438.3,453.4L439.7,458.9L436.9,458.9Z" fill="#222"/>
<path d="M438.3,598.0L436.9,592.5L439.7,592.5Z" fill="#222"/>
<text transform="translate(437.0,538.0) rotate(-90)" x="0" y="0" font-family="Liberation Sans" font-size="18" textLength="27.0" lengthAdjust="spacingAndGlyphs" fill="#111" stroke="#111" stroke-width="0.55">A11</text>
<line x1="505.0" y1="390.9" x2="537.0" y2="390.9" stroke="#8a8a8a" stroke-width="1.1" />
<line x1="505.0" y1="660.8" x2="537.0" y2="660.8" stroke="#8a8a8a" stroke-width="1.1" />
<line x1="533.4" y1="390.9" x2="533.4" y2="660.8" stroke="#8a8a8a" stroke-width="1.1" />
<path d="M533.4,391.2L534.8,396.7L532.0,396.7Z" fill="#222"/>
<path d="M533.4,660.5L532.0,655.0L534.8,655.0Z" fill="#222"/>
<text transform="translate(531.5,533.6) rotate(-90)" x="0" y="0" font-family="Liberation Sans" font-size="18" textLength="18.0" lengthAdjust="spacingAndGlyphs" fill="#111" stroke="#111" stroke-width="0.55">A9</text>
<line x1="501.0" y1="365.6" x2="571.0" y2="365.6" stroke="#8a8a8a" stroke-width="1.1" />
<line x1="502.0" y1="685.6" x2="571.0" y2="685.6" stroke="#8a8a8a" stroke-width="1.1" />
<line x1="568.5" y1="365.6" x2="568.5" y2="685.6" stroke="#8a8a8a" stroke-width="1.1" />
<path d="M568.5,365.9L569.9,371.4L567.1,371.4Z" fill="#222"/>
<path d="M568.5,685.3L567.1,679.8L569.9,679.8Z" fill="#222"/>
<text transform="translate(565.7,535.4) rotate(-90)" x="0" y="0" font-family="Liberation Sans" font-size="18" textLength="18.0" lengthAdjust="spacingAndGlyphs" fill="#111" stroke="#111" stroke-width="0.55">A7</text>
<line x1="273.8" y1="555.4" x2="335.0" y2="555.4" stroke="#8c8c8c" stroke-width="0.8" stroke-dasharray="7 2 1.5 2"/>
<line x1="304.0" y1="525.3" x2="304.0" y2="585.6" stroke="#8c8c8c" stroke-width="0.8" stroke-dasharray="7 2 1.5 2"/>
<circle cx="304.0" cy="555.4" r="25.6" fill="none" stroke="#3c3c3c" stroke-width="1" />
<circle cx="304.0" cy="555.4" r="21.3" fill="none" stroke="#888" stroke-width="0.8" stroke-dasharray="4 2 1 2"/>
<circle cx="304.0" cy="555.4" r="15.7" fill="none" stroke="#3c3c3c" stroke-width="1" />
<circle cx="304.0" cy="555.4" r="11.2" fill="none" stroke="#3c3c3c" stroke-width="1" />
<circle cx="304.0" cy="533.8" r="3.1" fill="none" stroke="#d9501e" stroke-width="1.2" />
<circle cx="304.0" cy="533.8" r="1.3" fill="none" stroke="#777" stroke-width="0.6" />
<circle cx="319.0" cy="540.6" r="3.1" fill="none" stroke="#d9501e" stroke-width="1.2" />
<circle cx="319.0" cy="540.6" r="1.3" fill="none" stroke="#777" stroke-width="0.6" />
<circle cx="289.0" cy="540.6" r="3.1" fill="none" stroke="#d9501e" stroke-width="1.2" />
<circle cx="289.0" cy="540.6" r="1.3" fill="none" stroke="#777" stroke-width="0.6" />
<circle cx="319.0" cy="570.4" r="3.1" fill="none" stroke="#d9501e" stroke-width="1.2" />
<circle cx="319.0" cy="570.4" r="1.3" fill="none" stroke="#777" stroke-width="0.6" />
<circle cx="289.0" cy="570.4" r="3.1" fill="none" stroke="#d9501e" stroke-width="1.2" />
<circle cx="289.0" cy="570.4" r="1.3" fill="none" stroke="#777" stroke-width="0.6" />
<circle cx="304.0" cy="577.0" r="3.1" fill="none" stroke="#d9501e" stroke-width="1.2" />
<circle cx="304.0" cy="577.0" r="1.3" fill="none" stroke="#777" stroke-width="0.6" />
<rect x="112.2" y="802.7" width="50.4" height="13.1" rx="1" fill="#fff" stroke="#3c3c3c" stroke-width="1"/>
<rect x="119.4" y="766.2" width="36.3" height="36.8" rx="0" fill="#fff" stroke="#3c3c3c" stroke-width="1"/>
<line x1="129.8" y1="763.0" x2="129.8" y2="800.0" stroke="#777" stroke-width="0.7" stroke-dasharray="3 2"/>
<line x1="143.4" y1="763.0" x2="143.4" y2="800.0" stroke="#777" stroke-width="0.7" stroke-dasharray="3 2"/>
<line x1="126.6" y1="763.0" x2="126.6" y2="770.0" stroke="#777" stroke-width="0.7" />
<line x1="147.4" y1="763.0" x2="147.4" y2="770.0" stroke="#777" stroke-width="0.7" />
<line x1="124.0" y1="800.0" x2="150.0" y2="800.0" stroke="#777" stroke-width="0.7" stroke-dasharray="3 2"/>
<line x1="124.0" y1="780.0" x2="124.0" y2="800.0" stroke="#777" stroke-width="0.7" stroke-dasharray="3 2"/>
<line x1="150.0" y1="780.0" x2="150.0" y2="800.0" stroke="#777" stroke-width="0.7" stroke-dasharray="3 2"/>
<circle cx="125.8" cy="776.5" r="1.5" fill="none" stroke="#555" stroke-width="0.8" />
<circle cx="125.8" cy="799.0" r="1.5" fill="none" stroke="#555" stroke-width="0.8" />
<circle cx="149.2" cy="776.5" r="1.5" fill="none" stroke="#555" stroke-width="0.8" />
<circle cx="149.2" cy="799.0" r="1.5" fill="none" stroke="#555" stroke-width="0.8" />
<line x1="137.5" y1="760.0" x2="137.5" y2="818.0" stroke="#8c8c8c" stroke-width="0.8" stroke-dasharray="7 2 1.5 2"/>
<rect x="126.0" y="763.0" width="22.0" height="3.2" rx="0" fill="#fff" stroke="#3c3c3c" stroke-width="0.8"/>
<rect x="155.7" y="772.6" width="22.3" height="28.8" rx="1" fill="#fff" stroke="#3c3c3c" stroke-width="1"/>
<rect x="178.0" y="772.0" width="5.0" height="30.0" rx="1" fill="#fff" stroke="#222" stroke-width="1.5"/>
<rect x="183.0" y="777.0" width="3.5" height="21.0" rx="0" fill="#fff" stroke="#3c3c3c" stroke-width="0.8"/>
<rect x="185.8" y="777.0" width="7.2" height="21.0" rx="0" fill="#fff" stroke="#3c3c3c" stroke-width="0.9"/>
<rect x="203.8" y="777.0" width="7.2" height="21.0" rx="0" fill="#fff" stroke="#3c3c3c" stroke-width="0.9"/>
<rect x="211.0" y="777.0" width="4.6" height="21.0" rx="0" fill="#fff" stroke="#3c3c3c" stroke-width="0.9"/>
<line x1="213.3" y1="777.0" x2="213.3" y2="798.0" stroke="#777" stroke-width="0.6" />
<rect x="192.8" y="768.5" width="5.0" height="38.0" rx="1.5" fill="#fff" stroke="#3c3c3c" stroke-width="1"/>
<rect x="199.0" y="768.5" width="5.0" height="38.0" rx="1.5" fill="#fff" stroke="#3c3c3c" stroke-width="1"/>
<line x1="198.4" y1="769.5" x2="198.4" y2="805.5" stroke="#222" stroke-width="1.6" />
<circle cx="191.9" cy="772.5" r="1.3" fill="#cfe3ee" stroke="#3a6f8a" stroke-width="0.8" />
<circle cx="204.9" cy="772.5" r="1.3" fill="#cfe3ee" stroke="#3a6f8a" stroke-width="0.8" />
<circle cx="191.9" cy="802.5" r="1.3" fill="#cfe3ee" stroke="#3a6f8a" stroke-width="0.8" />
<circle cx="204.9" cy="802.5" r="1.3" fill="#cfe3ee" stroke="#3a6f8a" stroke-width="0.8" />
<circle cx="189.9" cy="787.5" r="1.2" fill="none" stroke="#444" stroke-width="0.8" />
<circle cx="206.9" cy="787.5" r="1.2" fill="none" stroke="#444" stroke-width="0.8" />
<rect x="216.4" y="782.4" width="28.8" height="10.4" rx="0" fill="#fff" stroke="#3c3c3c" stroke-width="0.9"/>
<rect x="250.2" y="777.0" width="7.2" height="21.0" rx="0" fill="#fff" stroke="#3c3c3c" stroke-width="0.9"/>
<rect x="268.2" y="777.0" width="7.2" height="21.0" rx="0" fill="#fff" stroke="#3c3c3c" stroke-width="0.9"/>
<rect x="245.6" y="777.0" width="4.6" height="21.0" rx="0" fill="#fff" stroke="#3c3c3c" stroke-width="0.9"/>
<line x1="247.9" y1="777.0" x2="247.9" y2="798.0" stroke="#777" stroke-width="0.6" />
<rect x="257.2" y="768.5" width="5.0" height="38.0" rx="1.5" fill="#fff" stroke="#3c3c3c" stroke-width="1"/>
<rect x="263.4" y="768.5" width="5.0" height="38.0" rx="1.5" fill="#fff" stroke="#3c3c3c" stroke-width="1"/>
<line x1="262.8" y1="769.5" x2="262.8" y2="805.5" stroke="#222" stroke-width="1.6" />
<circle cx="256.3" cy="772.5" r="1.3" fill="#cfe3ee" stroke="#3a6f8a" stroke-width="0.8" />
<circle cx="269.3" cy="772.5" r="1.3" fill="#cfe3ee" stroke="#3a6f8a" stroke-width="0.8" />
<circle cx="256.3" cy="802.5" r="1.3" fill="#cfe3ee" stroke="#3a6f8a" stroke-width="0.8" />
<circle cx="269.3" cy="802.5" r="1.3" fill="#cfe3ee" stroke="#3a6f8a" stroke-width="0.8" />
<circle cx="254.3" cy="787.5" r="1.2" fill="none" stroke="#444" stroke-width="0.8" />
<circle cx="271.3" cy="787.5" r="1.2" fill="none" stroke="#444" stroke-width="0.8" />
<rect x="278.8" y="808.0" width="56.0" height="7.2" rx="1" fill="#fff" stroke="#3c3c3c" stroke-width="1"/>
<rect x="274.0" y="778.0" width="7.0" height="19.0" rx="0" fill="#fff" stroke="#3c3c3c" stroke-width="0.8"/>
<rect x="333.0" y="778.0" width="7.0" height="19.0" rx="0" fill="#fff" stroke="#3c3c3c" stroke-width="0.8"/>
<rect x="280.4" y="768.8" width="53.6" height="37.6" rx="0" fill="#fff" stroke="#3c3c3c" stroke-width="1.1"/>
<line x1="287.6" y1="768.8" x2="287.6" y2="806.4" stroke="#555" stroke-width="0.8" />
<line x1="326.0" y1="768.8" x2="326.0" y2="806.4" stroke="#555" stroke-width="0.8" />
<rect x="290.8" y="771.2" width="33.6" height="32.8" rx="0" fill="none" stroke="#3c3c3c" stroke-width="0.9"/>
<rect x="293.0" y="773.0" width="29.0" height="29.0" rx="3" fill="none" stroke="#444" stroke-width="0.8"/>
<circle cx="306.5" cy="787.2" r="11" fill="none" stroke="#444" stroke-width="0.9" />
<circle cx="306.5" cy="787.2" r="8.5" fill="none" stroke="#444" stroke-width="0.9" />
<circle cx="306.5" cy="787.2" r="5.5" fill="none" stroke="#444" stroke-width="0.9" />
<circle cx="306.5" cy="787.2" r="3" fill="none" stroke="#444" stroke-width="0.9" />
<circle cx="296.5" cy="776.5" r="1.2" fill="none" stroke="#555" stroke-width="0.7" />
<circle cx="296.5" cy="798.0" r="1.2" fill="none" stroke="#555" stroke-width="0.7" />
<circle cx="318.5" cy="776.5" r="1.2" fill="none" stroke="#555" stroke-width="0.7" />
<circle cx="318.5" cy="798.0" r="1.2" fill="none" stroke="#555" stroke-width="0.7" />
<line x1="270.0" y1="787.2" x2="345.0" y2="787.2" stroke="#8c8c8c" stroke-width="0.8" stroke-dasharray="7 2 1.5 2"/>
<line x1="306.5" y1="765.0" x2="306.5" y2="812.0" stroke="#8c8c8c" stroke-width="0.8" stroke-dasharray="7 2 1.5 2"/>
<rect x="338.1" y="777.0" width="7.2" height="21.0" rx="0" fill="#fff" stroke="#3c3c3c" stroke-width="0.9"/>
<rect x="356.1" y="777.0" width="7.2" height="21.0" rx="0" fill="#fff" stroke="#3c3c3c" stroke-width="0.9"/>
<rect x="363.3" y="777.0" width="4.6" height="21.0" rx="0" fill="#fff" stroke="#3c3c3c" stroke-width="0.9"/>
<line x1="365.6" y1="777.0" x2="365.6" y2="798.0" stroke="#777" stroke-width="0.6" />
<rect x="345.1" y="768.5" width="5.0" height="38.0" rx="1.5" fill="#fff" stroke="#3c3c3c" stroke-width="1"/>
<rect x="351.3" y="768.5" width="5.0" height="38.0" rx="1.5" fill="#fff" stroke="#3c3c3c" stroke-width="1"/>
<line x1="350.7" y1="769.5" x2="350.7" y2="805.5" stroke="#222" stroke-width="1.6" />
<circle cx="344.2" cy="772.5" r="1.3" fill="#cfe3ee" stroke="#3a6f8a" stroke-width="0.8" />
<circle cx="357.2" cy="772.5" r="1.3" fill="#cfe3ee" stroke="#3a6f8a" stroke-width="0.8" />
<circle cx="344.2" cy="802.5" r="1.3" fill="#cfe3ee" stroke="#3a6f8a" stroke-width="0.8" />
<circle cx="357.2" cy="802.5" r="1.3" fill="#cfe3ee" stroke="#3a6f8a" stroke-width="0.8" />
<circle cx="342.2" cy="787.5" r="1.2" fill="none" stroke="#444" stroke-width="0.8" />
<circle cx="359.2" cy="787.5" r="1.2" fill="none" stroke="#444" stroke-width="0.8" />
<rect x="368.8" y="782.7" width="28.8" height="9.9" rx="0" fill="#fff" stroke="#3c3c3c" stroke-width="0.9"/>
<rect x="402.6" y="777.0" width="7.2" height="21.0" rx="0" fill="#fff" stroke="#3c3c3c" stroke-width="0.9"/>
<rect x="420.6" y="777.0" width="7.2" height="21.0" rx="0" fill="#fff" stroke="#3c3c3c" stroke-width="0.9"/>
<rect x="398.0" y="777.0" width="4.6" height="21.0" rx="0" fill="#fff" stroke="#3c3c3c" stroke-width="0.9"/>
<line x1="400.3" y1="777.0" x2="400.3" y2="798.0" stroke="#777" stroke-width="0.6" />
<rect x="409.6" y="768.5" width="5.0" height="38.0" rx="1.5" fill="#fff" stroke="#3c3c3c" stroke-width="1"/>
<rect x="415.8" y="768.5" width="5.0" height="38.0" rx="1.5" fill="#fff" stroke="#3c3c3c" stroke-width="1"/>
<line x1="415.2" y1="769.5" x2="415.2" y2="805.5" stroke="#222" stroke-width="1.6" />
<circle cx="408.7" cy="772.5" r="1.3" fill="#cfe3ee" stroke="#3a6f8a" stroke-width="0.8" />
<circle cx="421.7" cy="772.5" r="1.3" fill="#cfe3ee" stroke="#3a6f8a" stroke-width="0.8" />
<circle cx="408.7" cy="802.5" r="1.3" fill="#cfe3ee" stroke="#3a6f8a" stroke-width="0.8" />
<circle cx="421.7" cy="802.5" r="1.3" fill="#cfe3ee" stroke="#3a6f8a" stroke-width="0.8" />
<circle cx="406.7" cy="787.5" r="1.2" fill="none" stroke="#444" stroke-width="0.8" />
<circle cx="423.7" cy="787.5" r="1.2" fill="none" stroke="#444" stroke-width="0.8" />
<rect x="436.0" y="773.3" width="14.0" height="28.7" rx="1" fill="#fff" stroke="#3c3c3c" stroke-width="1"/>
<rect x="430.0" y="772.5" width="6.0" height="30.0" rx="1" fill="#fff" stroke="#222" stroke-width="1.5"/>
<rect x="450.0" y="773.3" width="7.9" height="28.7" rx="0" fill="#fff" stroke="#3c3c3c" stroke-width="0.9"/>
<rect x="451.6" y="803.0" width="49.4" height="12.6" rx="1" fill="#fff" stroke="#3c3c3c" stroke-width="1"/>
<rect x="457.9" y="766.1" width="36.5" height="36.9" rx="0" fill="#fff" stroke="#3c3c3c" stroke-width="1"/>
<rect x="466.0" y="763.0" width="20.7" height="3.1" rx="0" fill="#fff" stroke="#3c3c3c" stroke-width="0.9"/>
<circle cx="465.0" cy="776.5" r="1.5" fill="none" stroke="#555" stroke-width="0.8" />
<circle cx="465.0" cy="799.0" r="1.5" fill="none" stroke="#555" stroke-width="0.8" />
<circle cx="487.6" cy="776.5" r="1.5" fill="none" stroke="#555" stroke-width="0.8" />
<circle cx="487.6" cy="799.0" r="1.5" fill="none" stroke="#555" stroke-width="0.8" />
<circle cx="476.5" cy="811.8" r="1.6" fill="none" stroke="#555" stroke-width="0.8" />
<line x1="476.5" y1="760.0" x2="476.5" y2="818.0" stroke="#8c8c8c" stroke-width="0.8" stroke-dasharray="7 2 1.5 2"/>
<line x1="440.0" y1="787.5" x2="500.0" y2="787.5" stroke="#8c8c8c" stroke-width="0.8" stroke-dasharray="7 2 1.5 2"/>
<line x1="160.0" y1="787.5" x2="280.0" y2="787.5" stroke="#8c8c8c" stroke-width="0.8" stroke-dasharray="7 2 1.5 2"/>
<line x1="340.0" y1="787.5" x2="440.0" y2="787.5" stroke="#8c8c8c" stroke-width="0.8" stroke-dasharray="7 2 1.5 2"/>
<line x1="307.0" y1="826.0" x2="307.0" y2="861.0" stroke="#555" stroke-width="1" />
<path d="M307.0,819.5L309.6,832.5L304.4,832.5Z" fill="#222"/>
<line x1="67.4" y1="763.0" x2="148.0" y2="763.0" stroke="#8a8a8a" stroke-width="1.1" />
<line x1="67.0" y1="815.8" x2="110.0" y2="815.8" stroke="#8a8a8a" stroke-width="1.1" />
<line x1="69.8" y1="763.0" x2="69.8" y2="815.8" stroke="#8a8a8a" stroke-width="1.1" />
<path d="M69.8,763.3L71.2,768.8L68.4,768.8Z" fill="#222"/>
<path d="M69.8,815.5L68.4,810.0L71.2,810.0Z" fill="#222"/>
<text transform="translate(67.4,800.6) rotate(-90)" x="0" y="0" font-family="Liberation Sans" font-size="18" textLength="17.6" lengthAdjust="spacingAndGlyphs" fill="#111" stroke="#111" stroke-width="0.55">D5</text>
<line x1="93.0" y1="811.8" x2="160.0" y2="811.8" stroke="#8a8a8a" stroke-width="1.1" />
<line x1="95.9" y1="763.0" x2="95.9" y2="811.8" stroke="#8a8a8a" stroke-width="1.1" />
<path d="M95.9,763.3L97.3,768.8L94.5,768.8Z" fill="#222"/>
<path d="M95.9,811.5L94.5,806.0L97.3,806.0Z" fill="#222"/>
<text transform="translate(93.0,798.2) rotate(-90)" x="0" y="0" font-family="Liberation Sans" font-size="18" textLength="18.4" lengthAdjust="spacingAndGlyphs" fill="#111" stroke="#111" stroke-width="0.55">D4</text>
<line x1="105.0" y1="779.8" x2="128.0" y2="779.8" stroke="#8a8a8a" stroke-width="1.1" />
<line x1="109.0" y1="736.6" x2="109.0" y2="779.8" stroke="#8a8a8a" stroke-width="1.1" />
<path d="M109.0,763.3L107.6,757.8L110.4,757.8Z" fill="#222"/>
<path d="M109.0,779.5L110.4,785.0L107.6,785.0Z" fill="#222"/>
<text transform="translate(106.6,757.4) rotate(-90)" x="0" y="0" font-family="Liberation Sans" font-size="18" textLength="17.6" lengthAdjust="spacingAndGlyphs" fill="#111" stroke="#111" stroke-width="0.55">D3</text>
<line x1="126.6" y1="736.0" x2="126.6" y2="763.0" stroke="#8a8a8a" stroke-width="1.1" />
<line x1="147.4" y1="736.0" x2="147.4" y2="763.0" stroke="#8a8a8a" stroke-width="1.1" />
<line x1="126.6" y1="738.2" x2="147.4" y2="738.2" stroke="#8a8a8a" stroke-width="1.1" />
<path d="M126.9,738.2L132.4,736.8L132.4,739.6Z" fill="#222"/>
<path d="M147.1,738.2L141.6,739.6L141.6,736.8Z" fill="#222"/>
<text x="127.4" y="735.8" font-family="Liberation Sans" font-size="17.5" textLength="18.4" lengthAdjust="spacingAndGlyphs" fill="#111" font-weight="normal" stroke="#111" stroke-width="0.55">D2</text>
<line x1="129.8" y1="748.0" x2="129.8" y2="763.0" stroke="#8a8a8a" stroke-width="1.1" />
<line x1="143.4" y1="748.0" x2="143.4" y2="763.0" stroke="#8a8a8a" stroke-width="1.1" />
<line x1="120.2" y1="750.2" x2="173.8" y2="750.2" stroke="#8a8a8a" stroke-width="1.1" />
<path d="M129.6,750.2L124.1,751.6L124.1,748.8Z" fill="#222"/>
<path d="M143.6,750.2L149.1,748.8L149.1,751.6Z" fill="#222"/>
<text x="154.6" y="747.8" font-family="Liberation Sans" font-size="17" textLength="16.0" lengthAdjust="spacingAndGlyphs" fill="#111" font-weight="normal" stroke="#111" stroke-width="0.55">D1</text>
<rect x="612.0" y="802.6" width="50.5" height="12.8" rx="1" fill="#fff" stroke="#3c3c3c" stroke-width="1"/>
<rect x="619.3" y="765.8" width="35.5" height="36.8" rx="0" fill="#fff" stroke="#3c3c3c" stroke-width="1"/>
<line x1="619.3" y1="772.2" x2="654.8" y2="772.2" stroke="#555" stroke-width="0.8" />
<rect x="626.0" y="763.0" width="21.6" height="2.8" rx="0" fill="#fff" stroke="#3c3c3c" stroke-width="0.9"/>
<circle cx="625.7" cy="776.4" r="1.5" fill="none" stroke="#555" stroke-width="0.8" />
<circle cx="625.7" cy="798.8" r="1.5" fill="none" stroke="#555" stroke-width="0.8" />
<circle cx="648.0" cy="776.4" r="1.5" fill="none" stroke="#555" stroke-width="0.8" />
<circle cx="648.0" cy="798.8" r="1.5" fill="none" stroke="#555" stroke-width="0.8" />
<circle cx="636.6" cy="812.0" r="1.6" fill="none" stroke="#555" stroke-width="0.8" />
<line x1="636.6" y1="760.0" x2="636.6" y2="818.0" stroke="#8c8c8c" stroke-width="0.8" stroke-dasharray="7 2 1.5 2"/>
<rect x="654.8" y="773.8" width="8.8" height="28.0" rx="0" fill="#fff" stroke="#3c3c3c" stroke-width="0.9"/>
<rect x="663.6" y="773.8" width="13.6" height="28.0" rx="1" fill="#fff" stroke="#3c3c3c" stroke-width="1"/>
<rect x="677.2" y="773.3" width="5.8" height="29.0" rx="1" fill="#fff" stroke="#222" stroke-width="1.5"/>
<rect x="685.4" y="776.9" width="7.2" height="21.0" rx="0" fill="#fff" stroke="#3c3c3c" stroke-width="0.9"/>
<rect x="703.4" y="776.9" width="7.2" height="21.0" rx="0" fill="#fff" stroke="#3c3c3c" stroke-width="0.9"/>
<rect x="710.6" y="776.9" width="4.6" height="21.0" rx="0" fill="#fff" stroke="#3c3c3c" stroke-width="0.9"/>
<line x1="712.9" y1="776.9" x2="712.9" y2="797.9" stroke="#777" stroke-width="0.6" />
<rect x="692.4" y="768.4" width="5.0" height="38.0" rx="1.5" fill="#fff" stroke="#3c3c3c" stroke-width="1"/>
<rect x="698.6" y="768.4" width="5.0" height="38.0" rx="1.5" fill="#fff" stroke="#3c3c3c" stroke-width="1"/>
<line x1="698.0" y1="769.4" x2="698.0" y2="805.4" stroke="#222" stroke-width="1.6" />
<circle cx="691.5" cy="772.4" r="1.3" fill="#cfe3ee" stroke="#3a6f8a" stroke-width="0.8" />
<circle cx="704.5" cy="772.4" r="1.3" fill="#cfe3ee" stroke="#3a6f8a" stroke-width="0.8" />
<circle cx="691.5" cy="802.4" r="1.3" fill="#cfe3ee" stroke="#3a6f8a" stroke-width="0.8" />
<circle cx="704.5" cy="802.4" r="1.3" fill="#cfe3ee" stroke="#3a6f8a" stroke-width="0.8" />
<circle cx="689.5" cy="787.4" r="1.2" fill="none" stroke="#444" stroke-width="0.8" />
<circle cx="706.5" cy="787.4" r="1.2" fill="none" stroke="#444" stroke-width="0.8" />
<rect x="715.4" y="782.6" width="112.2" height="9.6" rx="0" fill="#fff" stroke="#3c3c3c" stroke-width="0.9"/>
<rect x="832.2" y="776.9" width="7.2" height="21.0" rx="0" fill="#fff" stroke="#3c3c3c" stroke-width="0.9"/>
<rect x="850.2" y="776.9" width="7.2" height="21.0" rx="0" fill="#fff" stroke="#3c3c3c" stroke-width="0.9"/>
<rect x="827.6" y="776.9" width="4.6" height="21.0" rx="0" fill="#fff" stroke="#3c3c3c" stroke-width="0.9"/>
<line x1="829.9" y1="776.9" x2="829.9" y2="797.9" stroke="#777" stroke-width="0.6" />
<rect x="839.2" y="768.4" width="5.0" height="38.0" rx="1.5" fill="#fff" stroke="#3c3c3c" stroke-width="1"/>
<rect x="845.4" y="768.4" width="5.0" height="38.0" rx="1.5" fill="#fff" stroke="#3c3c3c" stroke-width="1"/>
<line x1="844.8" y1="769.4" x2="844.8" y2="805.4" stroke="#222" stroke-width="1.6" />
<circle cx="838.3" cy="772.4" r="1.3" fill="#cfe3ee" stroke="#3a6f8a" stroke-width="0.8" />
<circle cx="851.3" cy="772.4" r="1.3" fill="#cfe3ee" stroke="#3a6f8a" stroke-width="0.8" />
<circle cx="838.3" cy="802.4" r="1.3" fill="#cfe3ee" stroke="#3a6f8a" stroke-width="0.8" />
<circle cx="851.3" cy="802.4" r="1.3" fill="#cfe3ee" stroke="#3a6f8a" stroke-width="0.8" />
<circle cx="836.3" cy="787.4" r="1.2" fill="none" stroke="#444" stroke-width="0.8" />
<circle cx="853.3" cy="787.4" r="1.2" fill="none" stroke="#444" stroke-width="0.8" />
<rect x="857.0" y="773.8" width="9.4" height="28.0" rx="1" fill="#fff" stroke="#222" stroke-width="1.5"/>
<rect x="866.4" y="773.8" width="13.6" height="28.0" rx="1" fill="#fff" stroke="#3c3c3c" stroke-width="1"/>
<rect x="880.0" y="773.8" width="8.0" height="28.0" rx="0" fill="#fff" stroke="#3c3c3c" stroke-width="0.9"/>
<rect x="880.8" y="802.6" width="52.0" height="12.8" rx="1" fill="#fff" stroke="#3c3c3c" stroke-width="1"/>
<rect x="887.2" y="766.6" width="37.6" height="36.0" rx="0" fill="#fff" stroke="#3c3c3c" stroke-width="1"/>
<line x1="887.2" y1="772.2" x2="924.8" y2="772.2" stroke="#555" stroke-width="0.8" />
<rect x="924.8" y="772.2" width="3.2" height="30.4" rx="0" fill="#fff" stroke="#3c3c3c" stroke-width="0.8"/>
<rect x="896.0" y="763.4" width="21.6" height="3.2" rx="0" fill="#fff" stroke="#3c3c3c" stroke-width="0.9"/>
<circle cx="895.5" cy="776.4" r="1.5" fill="none" stroke="#555" stroke-width="0.8" />
<circle cx="895.5" cy="798.8" r="1.5" fill="none" stroke="#555" stroke-width="0.8" />
<circle cx="917.6" cy="776.4" r="1.5" fill="none" stroke="#555" stroke-width="0.8" />
<circle cx="917.6" cy="798.8" r="1.5" fill="none" stroke="#555" stroke-width="0.8" />
<circle cx="906.0" cy="811.5" r="1.6" fill="none" stroke="#555" stroke-width="0.8" />
<line x1="906.0" y1="760.0" x2="906.0" y2="818.0" stroke="#8c8c8c" stroke-width="0.8" stroke-dasharray="7 2 1.5 2"/>
<line x1="600.0" y1="787.4" x2="935.0" y2="787.4" stroke="#8c8c8c" stroke-width="0.8" stroke-dasharray="7 2 1.5 2"/>
<line x1="594.0" y1="787.4" x2="616.0" y2="787.4" stroke="#8a8a8a" stroke-width="1.1" />
<line x1="594.0" y1="815.4" x2="609.0" y2="815.4" stroke="#8a8a8a" stroke-width="1.1" />
<line x1="597.5" y1="787.4" x2="597.5" y2="815.4" stroke="#8a8a8a" stroke-width="1.1" />
<path d="M597.5,787.7L598.9,793.2L596.1,793.2Z" fill="#222"/>
<path d="M597.5,815.1L596.1,809.6L598.9,809.6Z" fill="#222"/>
<text transform="translate(595.6,812.2) rotate(-90)" x="0" y="0" font-family="Liberation Sans" font-size="19" textLength="20.0" lengthAdjust="spacingAndGlyphs" fill="#111" stroke="#111" stroke-width="0.55">D6</text>
<path d="M570.4,991 A26,26 0 0 1 614.4,991 L614.4,1017 A26,26 0 0 1 570.4,1017 Z" fill="none" stroke="#555" stroke-width="0.9"/>
<circle cx="592.4" cy="980.5" r="3" fill="none" stroke="#555" stroke-width="0.8" />
<circle cx="607.9" cy="987.5" r="3" fill="none" stroke="#555" stroke-width="0.8" />
<circle cx="576.9" cy="987.5" r="3" fill="none" stroke="#555" stroke-width="0.8" />
<circle cx="607.9" cy="1020.5" r="3" fill="none" stroke="#555" stroke-width="0.8" />
<circle cx="576.9" cy="1020.5" r="3" fill="none" stroke="#555" stroke-width="0.8" />
<circle cx="592.4" cy="1027.5" r="3" fill="none" stroke="#555" stroke-width="0.8" />
<circle cx="592.4" cy="1004.0" r="14" fill="none" stroke="#555" stroke-width="0.9" />
<circle cx="592.4" cy="1004.0" r="11" fill="none" stroke="#555" stroke-width="0.9" />
<circle cx="592.4" cy="1004.0" r="9" fill="none" stroke="#222" stroke-width="1.6" />
<rect x="667.2" y="995.0" width="13.1" height="18.8" rx="0" fill="#fff" stroke="#777" stroke-width="0.9"/>
<rect x="910.9" y="995.0" width="13.6" height="18.8" rx="0" fill="#fff" stroke="#777" stroke-width="0.9"/>
<path d="M680.3,994.5 Q684.4,990.5 688.6,994.5 Q692.7,990.5 696.9,994.5 Q701.0,990.5 705.2,994.5 Q709.3,990.5 713.5,994.5 Q717.6,990.5 721.8,994.5 Q723.1,990.5 724.4,994.5" fill="none" stroke="#666" stroke-width="0.9"/>
<path d="M680.3,1014.5 Q685.9,1018.5 688.6,1014.5 Q694.2,1018.5 696.9,1014.5 Q702.5,1018.5 705.2,1014.5 Q710.8,1018.5 713.5,1014.5 Q719.1,1018.5 721.8,1014.5 Q724.6,1018.5 724.4,1014.5" fill="none" stroke="#666" stroke-width="0.9"/>
<line x1="680.3" y1="994.5" x2="680.3" y2="1014.5" stroke="#666" stroke-width="0.9" />
<line x1="724.4" y1="994.5" x2="724.4" y2="1014.5" stroke="#666" stroke-width="0.9" />
<path d="M680.3,993L684.3,1016M684.5,993L688.5,1016M688.6,993L692.6,1016M692.8,993L696.8,1016M696.9,993L700.9,1016M701.1,993L705.1,1016M705.2,993L709.2,1016M709.4,993L713.4,1016M713.5,993L717.5,1016M717.7,993L721.7,1016M721.8,993L724.4,1016" stroke="#777" stroke-width="0.9" fill="none"/>
<path d="M790.5,994.5 Q794.6,990.5 798.8,994.5 Q802.9,990.5 807.1,994.5 Q811.2,990.5 815.4,994.5 Q819.5,990.5 823.7,994.5 Q827.8,990.5 832.0,994.5 Q836.1,990.5 840.3,994.5 Q844.4,990.5 848.6,994.5 Q852.7,990.5 856.9,994.5 Q861.0,990.5 865.2,994.5 Q869.3,990.5 873.5,994.5 Q877.6,990.5 881.8,994.5 Q885.9,990.5 890.1,994.5 Q894.2,990.5 898.4,994.5 Q902.5,990.5 906.7,994.5 Q908.8,990.5 910.9,994.5" fill="none" stroke="#666" stroke-width="0.9"/>
<path d="M790.5,1014.5 Q796.1,1018.5 798.8,1014.5 Q804.4,1018.5 807.1,1014.5 Q812.7,1018.5 815.4,1014.5 Q821.0,1018.5 823.7,1014.5 Q829.3,1018.5 832.0,1014.5 Q837.6,1018.5 840.3,1014.5 Q845.9,1018.5 848.6,1014.5 Q854.2,1018.5 856.9,1014.5 Q862.5,1018.5 865.2,1014.5 Q870.8,1018.5 873.5,1014.5 Q879.1,1018.5 881.8,1014.5 Q887.4,1018.5 890.1,1014.5 Q895.7,1018.5 898.4,1014.5 Q904.0,1018.5 906.7,1014.5 Q910.3,1018.5 910.9,1014.5" fill="none" stroke="#666" stroke-width="0.9"/>
<line x1="790.5" y1="994.5" x2="790.5" y2="1014.5" stroke="#666" stroke-width="0.9" />
<line x1="910.9" y1="994.5" x2="910.9" y2="1014.5" stroke="#666" stroke-width="0.9" />
<path d="M790.5,993L794.5,1016M794.7,993L798.7,1016M798.8,993L802.8,1016M803.0,993L807.0,1016M807.1,993L811.1,1016M811.3,993L815.3,1016M815.4,993L819.4,1016M819.6,993L823.6,1016M823.7,993L827.7,1016M827.9,993L831.9,1016M832.0,993L836.0,1016M836.2,993L840.2,1016M840.3,993L844.3,1016M844.5,993L848.5,1016M848.6,993L852.6,1016M852.8,993L856.8,1016M856.9,993L860.9,1016M861.1,993L865.1,1016M865.2,993L869.2,1016M869.4,993L873.4,1016M873.5,993L877.5,1016M877.7,993L881.7,1016M881.8,993L885.8,1016M886.0,993L890.0,1016M890.1,993L894.1,1016M894.3,993L898.3,1016M898.4,993L902.4,1016M902.6,993L906.6,1016M906.7,993L910.7,1016" stroke="#777" stroke-width="0.9" fill="none"/>
<rect x="734.0" y="986.8" width="56.5" height="35.2" rx="0" fill="#fff" stroke="#777" stroke-width="0.9"/>
<rect x="724.4" y="976.7" width="9.6" height="55.1" rx="1" fill="#fff" stroke="#777" stroke-width="0.9"/>
<line x1="724.4" y1="986.8" x2="734.0" y2="986.8" stroke="#888" stroke-width="0.8" />
<line x1="724.4" y1="1022.0" x2="734.0" y2="1022.0" stroke="#888" stroke-width="0.8" />
<line x1="746.4" y1="986.8" x2="746.4" y2="1022.0" stroke="#777" stroke-width="0.9" />
<text x="216" y="612" font-family="Liberation Sans" font-weight="bold" font-size="24" fill="#1a1a1a">*</text>
<text x="235.0" y="608.5" font-family="Liberation Sans" font-size="18.5" fill="#1a1a1a" textLength="128.5" lengthAdjust="spacingAndGlyphs" stroke="#222" stroke-width="0.3">依螺姆尺寸而定</text>
<text x="232" y="886.5" font-family="Liberation Sans" font-weight="bold" font-size="24" fill="#1a1a1a">*</text>
<text x="246.0" y="883.5" font-family="Liberation Sans" font-size="19" fill="#1a1a1a" textLength="95.5" lengthAdjust="spacingAndGlyphs" stroke="#222" stroke-width="0.3">輸入端尺寸</text>
<text x="216" y="911" font-family="Liberation Sans" font-size="19" fill="#1a1a1a" stroke="#1a1a1a" stroke-width="0.3">(</text>
<text x="228.0" y="911.5" font-family="Liberation Sans" font-size="19" fill="#1a1a1a" textLength="132.5" lengthAdjust="spacingAndGlyphs" stroke="#222" stroke-width="0.3">依選定電機而定</text>
<text x="365.5" y="911" font-family="Liberation Sans" font-size="19" fill="#1a1a1a" stroke="#1a1a1a" stroke-width="0.3">)</text>
<text transform="scale(0.95,1)" x="22.0 38.0 46.2 62.2 73.8 83.6" y="970.6" font-family="Liberation Sans" font-size="20" fill="#222" stroke="#222" stroke-width="0.35">P.S:(4</text>
<text x="95.6" y="970.6" font-family="Liberation Sans" font-size="22" fill="#222" textLength="113.5" lengthAdjust="spacingAndGlyphs" stroke="#222" stroke-width="0.3">軸螺桿升降</text>
<text transform="scale(0.95,1)" x="228.3" y="970.6" font-family="Liberation Sans" font-size="17" fill="#222" stroke="#222" stroke-width="0.35">–</text>
<text x="234.8" y="970.6" font-family="Liberation Sans" font-size="22" fill="#222" textLength="157.5" lengthAdjust="spacingAndGlyphs" stroke="#222" stroke-width="0.3">配各種廠牌螺桿</text>
<text transform="scale(0.95,1)" x="419.0" y="970.6" font-family="Liberation Sans" font-size="20" fill="#222" stroke="#222" stroke-width="0.35">)</text>
<text transform="scale(0.95,1)" x="24.2 39.1" y="1004.8" font-family="Liberation Sans" font-size="20" fill="#222" stroke="#222" stroke-width="0.35">1.</text>
<text x="50.3" y="1004.8" font-family="Liberation Sans" font-size="22" fill="#222" textLength="136.0" lengthAdjust="spacingAndGlyphs" stroke="#222" stroke-width="0.3">滾珠螺桿直徑</text>
<text transform="scale(0.95,1)" x="206.1 215.3 226.7 240.9 249.5 260.9 275.1 283.8 295.2 308.9" y="1004.8" font-family="Liberation Sans" font-size="20" fill="#222" stroke="#222" stroke-width="0.35">(16/20/25)</text>
<circle cx="315.0" cy="1001.5" r="3.6" fill="none" stroke="#222" stroke-width="1.4" />
<text transform="scale(0.95,1)" x="24.2 39.1" y="1039.8" font-family="Liberation Sans" font-size="20" fill="#222" stroke="#222" stroke-width="0.35">2.</text>
<text x="50.3" y="1039.8" font-family="Liberation Sans" font-size="22" fill="#222" textLength="136.0" lengthAdjust="spacingAndGlyphs" stroke="#222" stroke-width="0.3">滾珠螺桿導程</text>
<text transform="scale(0.95,1)" x="206.1 215.3 229.5 238.1 249.5 263.7 272.4 283.8 298.0 306.6 318.0 331.7" y="1039.8" font-family="Liberation Sans" font-size="20" fill="#222" stroke="#222" stroke-width="0.35">(5/10/20/25)</text>
<circle cx="336.0" cy="1036.5" r="3.6" fill="none" stroke="#222" stroke-width="1.4" />
<text transform="scale(0.95,1)" x="23.1 38.0" y="1075.5" font-family="Liberation Sans" font-size="20" fill="#222" stroke="#222" stroke-width="0.35">3.</text>
<text x="51.7" y="1075.5" font-family="Liberation Sans" font-size="22" fill="#222" textLength="110.0" lengthAdjust="spacingAndGlyphs" stroke="#222" stroke-width="0.3">正確尺寸依</text>
<text transform="scale(0.95,1)" x="179.5 189.1 204.9 213.3 222.9" y="1075.5" font-family="Liberation Sans" font-size="20" fill="#222" stroke="#222" stroke-width="0.35">2D/3D</text>
<text x="235.9" y="1075.5" font-family="Liberation Sans" font-size="22" fill="#222" textLength="50.0" lengthAdjust="spacingAndGlyphs" stroke="#222" stroke-width="0.3">為準</text>
<circle cx="292.5" cy="1072.0" r="3.6" fill="none" stroke="#222" stroke-width="1.4" />
<text x="544.0" y="944.5" font-family="Liberation Sans" font-size="19" fill="#1a1a1a" textLength="114.0" lengthAdjust="spacingAndGlyphs" stroke="#222" stroke-width="0.3">滾珠螺桿樣式</text>
<polygon points="640.5,282.9 640.6,282.2 640.7,281.6 641.0,281.1 641.4,280.7 641.8,280.4 707.6,242.4 708.1,242.3 708.7,242.3 709.3,242.5 710.0,242.8 710.6,243.2 711.2,243.8 711.8,244.4 712.3,245.1 712.8,245.9 713.1,246.7 713.4,247.5 713.5,248.3 713.6,249.1 713.5,249.8 713.4,250.4 713.1,250.9 712.8,251.3 712.3,251.6 646.5,289.6 646.0,289.7 645.4,289.7 644.8,289.5 644.1,289.2 643.5,288.8 642.9,288.2 642.3,287.6 641.8,286.9 641.4,286.1 641.0,285.3 640.7,284.5 640.6,283.7" fill="#fff" stroke="#555" stroke-width="0.8" stroke-linejoin="round"/>
<polygon points="728.2,231.5 755.0,216.0 781.8,231.5 755.0,247.0" fill="#fff" stroke="#444" stroke-width="0.8" stroke-linejoin="round"/>
<polygon points="728.2,242.0 755.0,257.5 755.0,247.0 728.2,231.5" fill="#fff" stroke="#444" stroke-width="0.8" stroke-linejoin="round"/>
<polygon points="755.0,257.5 781.8,242.0 781.8,231.5 755.0,247.0" fill="#fff" stroke="#444" stroke-width="0.8" stroke-linejoin="round"/>
<polygon points="734.2,209.5 755.0,197.5 775.8,209.5 755.0,221.5" fill="#fff" stroke="#444" stroke-width="0.9" stroke-linejoin="round"/>
<polygon points="734.2,231.5 755.0,243.5 755.0,221.5 734.2,209.5" fill="#fff" stroke="#444" stroke-width="0.9" stroke-linejoin="round"/>
<polygon points="755.0,243.5 775.8,231.5 775.8,209.5 755.0,221.5" fill="#fff" stroke="#444" stroke-width="0.9" stroke-linejoin="round"/>
<polyline points="755.0,221.5 755.0,243.5" fill="none" stroke="#666" stroke-width="1.4"/>
<circle cx="737.7" cy="215.5" r="0.8" fill="#444"/>
<circle cx="758.5" cy="223.5" r="0.8" fill="#444"/>
<circle cx="751.5" cy="223.5" r="0.8" fill="#444"/>
<circle cx="772.3" cy="215.5" r="0.8" fill="#444"/>
<circle cx="737.7" cy="229.5" r="0.8" fill="#444"/>
<circle cx="758.5" cy="237.5" r="0.8" fill="#444"/>
<circle cx="751.5" cy="237.5" r="0.8" fill="#444"/>
<circle cx="772.3" cy="229.5" r="0.8" fill="#444"/>
<polygon points="740.4,205.3 740.8,203.8 741.7,202.4 743.0,201.1 744.6,200.0 746.6,199.1 748.8,198.3 751.2,197.8 753.7,197.6 756.3,197.6 758.8,197.8 761.2,198.3 763.4,199.1 765.4,200.0 767.0,201.1 768.3,202.4 769.2,203.8 769.6,205.3 769.6,210.2 769.2,211.7 768.3,213.1 767.0,214.4 765.4,215.5 763.4,216.4 761.2,217.2 758.8,217.7 756.3,217.9 753.7,217.9 751.2,217.7 748.8,217.2 746.6,216.4 744.6,215.5 743.0,214.4 741.7,213.1 740.8,211.7 740.4,210.2" fill="#fff" stroke="#444" stroke-width="0.8" stroke-linejoin="round"/>
<polygon points="765.4,200.0 767.0,201.1 768.3,202.4 769.2,203.8 769.6,205.3 769.6,206.7 769.2,208.2 768.3,209.6 767.0,210.9 765.4,212.0 763.4,213.0 761.2,213.7 758.8,214.2 756.3,214.5 753.7,214.5 751.2,214.2 748.8,213.7 746.6,213.0 744.6,212.0 743.0,210.9 741.7,209.6 740.8,208.2 740.4,206.7 740.4,205.3 740.8,203.8 741.7,202.4 743.0,201.1 744.6,200.0 746.6,199.0 748.8,198.3 751.2,197.8 753.7,197.5 756.3,197.5 758.8,197.8 761.2,198.3 763.4,199.0" fill="none" stroke="#444" stroke-width="0.8" stroke-linejoin="round"/>
<polygon points="762.4,201.8 763.5,202.6 764.4,203.5 765.1,204.4 765.4,205.5 765.4,206.5 765.1,207.6 764.4,208.5 763.5,209.4 762.4,210.2 761.0,210.9 759.4,211.4 757.7,211.8 755.9,212.0 754.1,212.0 752.3,211.8 750.6,211.4 749.0,210.9 747.6,210.2 746.5,209.4 745.6,208.5 744.9,207.6 744.6,206.5 744.6,205.5 744.9,204.4 745.6,203.5 746.5,202.6 747.6,201.8 749.0,201.1 750.6,200.6 752.3,200.2 754.1,200.0 755.9,200.0 757.7,200.2 759.4,200.6 761.0,201.1" fill="none" stroke="#666" stroke-width="0.7" stroke-linejoin="round"/>
<polygon points="759.3,203.5 760.0,204.0 760.5,204.5 760.9,205.1 761.1,205.7 761.1,206.3 760.9,206.9 760.5,207.5 760.0,208.0 759.3,208.5 758.5,208.9 757.6,209.2 756.6,209.4 755.5,209.5 754.5,209.5 753.4,209.4 752.4,209.2 751.5,208.9 750.7,208.5 750.0,208.0 749.5,207.5 749.1,206.9 748.9,206.3 748.9,205.7 749.1,205.1 749.5,204.5 750.0,204.0 750.7,203.5 751.5,203.1 752.4,202.8 753.4,202.6 754.5,202.5 755.5,202.5 756.6,202.6 757.6,202.8 758.5,203.1" fill="none" stroke="#444" stroke-width="0.8" stroke-linejoin="round"/>
<circle cx="763.7" cy="201.0" r="0.7" fill="#555"/>
<circle cx="767.2" cy="206.0" r="0.7" fill="#555"/>
<circle cx="763.7" cy="211.0" r="0.7" fill="#555"/>
<circle cx="755.0" cy="213.1" r="0.7" fill="#555"/>
<circle cx="746.3" cy="211.0" r="0.7" fill="#555"/>
<circle cx="742.8" cy="206.0" r="0.7" fill="#555"/>
<circle cx="746.3" cy="201.0" r="0.7" fill="#555"/>
<circle cx="755.0" cy="198.9" r="0.7" fill="#555"/>
<polygon points="720.4,231.0 720.5,229.3 720.9,227.9 721.5,226.7 722.4,225.7 738.0,216.7 739.0,216.1 740.3,215.8 741.6,215.9 743.1,216.3 744.6,217.0 746.1,218.0 747.6,219.3 748.9,220.8 750.2,222.6 751.2,224.4 752.1,226.3 752.8,228.3 753.1,230.2 753.3,232.0 753.1,233.7 752.8,235.1 752.1,236.3 751.2,237.3 735.6,246.3 734.6,246.9 733.4,247.2 732.0,247.1 730.5,246.7 729.0,246.0 727.5,245.0 726.1,243.7 724.7,242.2 723.5,240.4 722.4,238.6 721.5,236.7 720.9,234.7 720.5,232.8" fill="#fff" stroke="#444" stroke-width="0.8" stroke-linejoin="round"/>
<polygon points="737.7,241.0 737.5,239.2 737.2,237.3 736.5,235.3 735.7,233.4 734.6,231.6 733.4,229.8 732.0,228.3 730.5,227.0 729.0,226.0 727.5,225.3 726.1,224.9 724.7,224.8 723.5,225.1 722.4,225.7 721.5,226.7 720.9,227.9 720.5,229.3 720.4,231.0 720.5,232.8 720.9,234.7 721.5,236.7 722.4,238.6 723.5,240.4 724.7,242.2 726.1,243.7 727.5,245.0 729.0,246.0 730.5,246.7 732.0,247.1 733.4,247.2 734.6,246.9 735.7,246.3 736.5,245.3 737.2,244.1 737.5,242.7" fill="none" stroke="#444" stroke-width="0.8" stroke-linejoin="round"/>
<polygon points="714.3,231.5 714.5,229.3 715.0,227.4 715.8,225.9 716.9,224.7 721.8,221.9 723.4,221.5 725.2,221.6 727.1,222.1 729.0,223.0 731.0,224.3 732.9,226.0 734.6,228.0 736.3,230.2 737.6,232.6 738.8,235.1 739.6,237.7 740.1,240.1 740.3,242.5 740.1,244.7 739.6,246.6 738.8,248.1 737.6,249.3 736.3,250.1 734.2,251.3 732.8,252.1 731.2,252.5 729.4,252.4 727.5,251.9 725.6,251.0 723.6,249.7 721.7,248.0 719.9,246.0 718.3,243.8 716.9,241.4 715.8,238.9 715.0,236.3 714.5,233.9" fill="#fff" stroke="#444" stroke-width="0.8" stroke-linejoin="round"/>
<polygon points="736.8,244.5 736.6,242.1 736.1,239.7 735.3,237.1 734.2,234.6 732.8,232.2 731.2,230.0 729.4,228.0 727.5,226.3 725.6,225.0 723.6,224.1 721.7,223.6 719.9,223.5 718.3,223.9 716.9,224.7 715.8,225.9 715.0,227.4 714.5,229.3 714.3,231.5 714.5,233.9 715.0,236.3 715.8,238.9 716.9,241.4 718.3,243.8 719.9,246.0 721.7,248.0 723.6,249.7 725.6,251.0 727.5,251.9 729.4,252.4 731.2,252.5 732.8,252.1 734.2,251.3 735.3,250.1 736.1,248.6 736.6,246.7" fill="none" stroke="#444" stroke-width="0.8" stroke-linejoin="round"/>
<polygon points="734.6,243.2 734.5,241.3 734.1,239.3 733.4,237.3 732.5,235.3 731.4,233.3 730.1,231.5 728.7,229.9 727.1,228.6 725.6,227.5 724.0,226.7 722.4,226.3 721.0,226.3 719.7,226.6 718.6,227.2 717.7,228.2 717.0,229.5 716.6,231.0 716.5,232.8 716.6,234.7 717.0,236.7 717.7,238.7 718.6,240.7 719.7,242.7 721.0,244.5 722.4,246.1 724.0,247.4 725.6,248.5 727.1,249.3 728.7,249.7 730.1,249.7 731.4,249.4 732.5,248.8 733.4,247.8 734.1,246.5 734.5,245.0" fill="none" stroke="#777" stroke-width="0.6" stroke-linejoin="round"/>
<polygon points="707.8,235.8 708.0,233.7 708.5,231.8 709.2,230.3 710.3,229.2 711.7,228.4 717.3,225.2 718.6,224.4 720.1,224.1 721.9,224.1 723.7,224.6 725.6,225.5 727.4,226.8 729.3,228.4 731.0,230.3 732.5,232.4 733.9,234.8 734.9,237.2 735.7,239.6 736.2,242.0 736.4,244.2 736.2,246.3 735.7,248.2 734.9,249.7 733.9,250.8 725.6,255.6 724.0,255.9 722.3,255.9 720.5,255.4 718.6,254.5 716.8,253.2 714.9,251.6 713.2,249.7 711.7,247.6 710.3,245.2 709.2,242.8 708.5,240.4 708.0,238.0" fill="#fff" stroke="#333" stroke-width="1.2" stroke-linejoin="round"/>
<polygon points="729.5,248.2 729.3,246.0 728.8,243.6 728.0,241.2 726.9,238.8 725.6,236.4 724.0,234.3 722.3,232.4 720.5,230.8 718.6,229.5 716.7,228.6 714.9,228.1 713.2,228.0 711.7,228.4 710.3,229.2 709.3,230.3 708.5,231.9 708.0,233.7 707.8,235.8 708.0,238.0 708.5,240.4 709.3,242.8 710.3,245.2 711.7,247.6 713.2,249.7 714.9,251.6 716.7,253.2 718.6,254.5 720.5,255.4 722.3,255.9 724.0,256.0 725.6,255.6 726.9,254.8 728.0,253.7 728.8,252.1 729.3,250.3" fill="none" stroke="#333" stroke-width="1.2" stroke-linejoin="round"/>
<polygon points="731.2,247.2 731.0,245.0 730.5,242.6 729.7,240.2 728.7,237.8 727.3,235.4 725.8,233.3 724.1,231.4 722.2,229.8 720.4,228.5 718.5,227.6 716.7,227.1 714.9,227.0 713.4,227.4 712.1,228.2 711.0,229.3 710.2,230.9 709.7,232.7 709.5,234.8 709.7,237.0 710.2,239.4 711.0,241.8 712.1,244.2 713.4,246.6 714.9,248.7 716.7,250.6 718.5,252.2 720.4,253.5 722.2,254.4 724.1,254.9 725.8,255.0 727.3,254.6 728.7,253.8 729.7,252.7 730.5,251.1 731.0,249.3" fill="none" stroke="#777" stroke-width="0.7" stroke-linejoin="round"/>
<polygon points="732.9,246.2 732.8,244.0 732.3,241.6 731.5,239.2 730.4,236.8 729.1,234.4 727.5,232.3 725.8,230.4 724.0,228.8 722.1,227.5 720.2,226.6 718.4,226.1 716.7,226.0 715.1,226.4 713.8,227.2 712.7,228.3 711.9,229.9 711.4,231.7 711.3,233.8 711.4,236.0 711.9,238.4 712.7,240.8 713.8,243.2 715.1,245.6 716.7,247.7 718.4,249.6 720.2,251.2 722.1,252.5 724.0,253.4 725.8,253.9 727.5,254.0 729.1,253.6 730.4,252.8 731.5,251.7 732.3,250.1 732.8,248.3" fill="none" stroke="#333" stroke-width="1.0" stroke-linejoin="round"/>
<polygon points="734.6,245.2 734.5,243.0 734.0,240.6 733.2,238.2 732.1,235.8 730.8,233.4 729.2,231.3 727.5,229.4 725.7,227.8 723.8,226.5 721.9,225.6 720.1,225.1 718.4,225.0 716.9,225.4 715.5,226.2 714.4,227.3 713.7,228.9 713.2,230.7 713.0,232.8 713.2,235.0 713.7,237.4 714.4,239.8 715.5,242.2 716.9,244.6 718.4,246.7 720.1,248.6 721.9,250.2 723.8,251.5 725.7,252.4 727.5,252.9 729.2,253.0 730.8,252.6 732.1,251.8 733.2,250.7 734.0,249.1 734.5,247.3" fill="none" stroke="#777" stroke-width="0.7" stroke-linejoin="round"/>
<polygon points="703.9,237.5 704.1,235.3 704.6,233.4 705.4,231.9 706.5,230.7 710.0,228.7 711.4,227.9 713.0,227.5 714.8,227.6 716.7,228.1 718.6,229.0 720.6,230.3 722.5,232.0 724.3,234.0 725.9,236.2 727.2,238.6 728.4,241.1 729.2,243.7 729.7,246.1 729.9,248.5 729.7,250.7 729.2,252.6 728.4,254.1 727.2,255.3 723.8,257.3 722.4,258.1 720.8,258.5 719.0,258.4 717.1,257.9 715.2,257.0 713.2,255.7 711.3,254.0 709.5,252.0 707.9,249.8 706.5,247.4 705.4,244.9 704.6,242.3 704.1,239.9" fill="#fff" stroke="#444" stroke-width="0.8" stroke-linejoin="round"/>
<polygon points="726.4,250.5 726.3,248.1 725.7,245.7 724.9,243.1 723.8,240.6 722.4,238.2 720.8,236.0 719.0,234.0 717.1,232.3 715.2,231.0 713.2,230.1 711.3,229.6 709.5,229.5 707.9,229.9 706.5,230.7 705.4,231.9 704.6,233.4 704.1,235.3 703.9,237.5 704.1,239.9 704.6,242.3 705.4,244.9 706.5,247.4 707.9,249.8 709.5,252.0 711.3,254.0 713.2,255.7 715.2,257.0 717.1,257.9 719.0,258.4 720.8,258.5 722.4,258.1 723.8,257.3 724.9,256.1 725.7,254.6 726.3,252.7" fill="none" stroke="#444" stroke-width="0.8" stroke-linejoin="round"/>
<polygon points="724.3,249.2 724.1,247.3 723.7,245.3 723.0,243.3 722.1,241.3 721.0,239.3 719.7,237.5 718.3,235.9 716.7,234.6 715.2,233.5 713.6,232.7 712.1,232.3 710.6,232.3 709.3,232.6 708.2,233.2 707.3,234.2 706.6,235.5 706.2,237.0 706.1,238.8 706.2,240.7 706.6,242.7 707.3,244.7 708.2,246.7 709.3,248.7 710.6,250.5 712.1,252.1 713.6,253.4 715.2,254.5 716.7,255.3 718.3,255.7 719.7,255.7 721.0,255.4 722.1,254.8 723.0,253.8 723.7,252.5 724.1,251.0" fill="none" stroke="#777" stroke-width="0.6" stroke-linejoin="round"/>
<polygon points="701.7,244.2 701.8,243.0 702.1,241.9 702.6,241.0 703.3,240.3 704.1,239.8 711.0,235.8 711.9,235.6 712.9,235.7 714.0,236.0 715.2,236.5 716.3,237.3 717.4,238.2 718.4,239.4 719.3,240.7 720.1,242.1 720.8,243.5 721.3,245.0 721.6,246.4 721.7,247.8 721.6,249.0 721.3,250.1 720.8,251.0 720.1,251.7 719.3,252.2 712.4,256.2 711.5,256.4 710.5,256.3 709.4,256.0 708.2,255.5 707.1,254.7 706.0,253.8 705.0,252.6 704.1,251.3 703.3,249.9 702.6,248.5 702.1,247.0 701.8,245.6" fill="#fff" stroke="#444" stroke-width="0.8" stroke-linejoin="round"/>
<polygon points="714.7,251.8 714.6,250.4 714.3,249.0 713.9,247.5 713.2,246.1 712.4,244.7 711.5,243.4 710.5,242.2 709.4,241.3 708.2,240.5 707.1,240.0 706.0,239.7 705.0,239.6 704.1,239.8 703.3,240.3 702.6,241.0 702.1,241.9 701.8,243.0 701.7,244.2 701.8,245.6 702.1,247.0 702.6,248.5 703.3,249.9 704.1,251.3 705.0,252.6 706.0,253.8 707.1,254.7 708.2,255.5 709.4,256.0 710.5,256.3 711.5,256.4 712.4,256.2 713.2,255.7 713.9,255.0 714.3,254.1 714.6,253.0" fill="none" stroke="#444" stroke-width="0.8" stroke-linejoin="round"/>
<polygon points="796.4,249.1 796.5,248.3 796.6,247.5 796.9,246.7 797.2,245.9 797.7,245.1 798.2,244.4 798.8,243.8 799.4,243.2 800.0,242.8 800.7,242.5 801.3,242.3 801.9,242.3 802.4,242.4 819.7,252.4 820.1,252.7 820.5,253.1 820.8,253.6 820.9,254.2 821.0,254.9 820.9,255.7 820.8,256.5 820.5,257.3 820.1,258.1 819.7,258.9 819.2,259.6 818.6,260.2 818.0,260.8 817.4,261.2 816.7,261.5 816.1,261.7 815.5,261.7 815.0,261.6 797.7,251.6 797.2,251.3 796.9,250.9 796.6,250.4 796.5,249.8" fill="#fff" stroke="#555" stroke-width="0.8" stroke-linejoin="round"/>
<polygon points="756.7,232.0 756.9,230.2 757.2,228.3 757.9,226.3 758.8,224.4 759.8,222.6 761.1,220.8 762.4,219.3 763.9,218.0 765.4,217.0 766.9,216.3 768.4,215.9 769.7,215.8 771.0,216.1 772.0,216.7 787.6,225.7 788.5,226.7 789.1,227.9 789.5,229.3 789.6,231.0 789.5,232.8 789.1,234.7 788.5,236.7 787.6,238.6 786.5,240.4 785.3,242.2 783.9,243.7 782.5,245.0 781.0,246.0 779.5,246.7 778.0,247.1 776.6,247.2 775.4,246.9 774.4,246.3 758.8,237.3 757.9,236.3 757.2,235.1 756.9,233.7" fill="#fff" stroke="#444" stroke-width="0.8" stroke-linejoin="round"/>
<polygon points="789.6,231.0 789.5,229.3 789.1,227.9 788.5,226.7 787.6,225.7 786.5,225.1 785.3,224.8 783.9,224.9 782.5,225.3 781.0,226.0 779.5,227.0 778.0,228.3 776.6,229.8 775.4,231.6 774.3,233.4 773.5,235.3 772.8,237.3 772.5,239.2 772.3,241.0 772.5,242.7 772.8,244.1 773.5,245.3 774.3,246.3 775.4,246.9 776.6,247.2 778.0,247.1 779.5,246.7 781.0,246.0 782.5,245.0 783.9,243.7 785.3,242.2 786.5,240.4 787.6,238.6 788.5,236.7 789.1,234.7 789.5,232.8" fill="none" stroke="#444" stroke-width="0.8" stroke-linejoin="round"/>
<polygon points="769.7,242.5 769.9,240.1 770.4,237.7 771.2,235.1 772.4,232.6 773.7,230.2 775.4,228.0 777.1,226.0 779.0,224.3 781.0,223.0 782.9,222.1 784.8,221.6 786.6,221.5 788.2,221.9 793.1,224.7 794.2,225.9 795.0,227.4 795.5,229.3 795.7,231.5 795.5,233.9 795.0,236.3 794.2,238.9 793.1,241.4 791.7,243.8 790.1,246.0 788.3,248.0 786.4,249.7 784.4,251.0 782.5,251.9 780.6,252.4 778.8,252.5 777.2,252.1 775.8,251.3 773.7,250.1 772.4,249.3 771.2,248.1 770.4,246.6 769.9,244.7" fill="#fff" stroke="#444" stroke-width="0.8" stroke-linejoin="round"/>
<polygon points="795.7,231.5 795.5,229.3 795.0,227.4 794.2,225.9 793.1,224.7 791.7,223.9 790.1,223.5 788.3,223.6 786.4,224.1 784.4,225.0 782.5,226.3 780.6,228.0 778.8,230.0 777.2,232.2 775.8,234.6 774.7,237.1 773.9,239.7 773.4,242.1 773.2,244.5 773.4,246.7 773.9,248.6 774.7,250.1 775.8,251.3 777.2,252.1 778.8,252.5 780.6,252.4 782.5,251.9 784.4,251.0 786.4,249.7 788.3,248.0 790.1,246.0 791.7,243.8 793.1,241.4 794.2,238.9 795.0,236.3 795.5,233.9" fill="none" stroke="#444" stroke-width="0.8" stroke-linejoin="round"/>
<polygon points="793.5,232.8 793.4,231.0 793.0,229.5 792.3,228.2 791.4,227.2 790.3,226.6 789.0,226.3 787.6,226.3 786.0,226.7 784.4,227.5 782.9,228.6 781.3,229.9 779.9,231.5 778.6,233.3 777.5,235.3 776.6,237.3 775.9,239.3 775.5,241.3 775.4,243.2 775.5,245.0 775.9,246.5 776.6,247.8 777.5,248.8 778.6,249.4 779.9,249.7 781.3,249.7 782.9,249.3 784.4,248.5 786.0,247.4 787.6,246.1 789.0,244.5 790.3,242.7 791.4,240.7 792.3,238.7 793.0,236.7 793.4,234.7" fill="none" stroke="#777" stroke-width="0.6" stroke-linejoin="round"/>
<polygon points="773.6,244.2 773.8,242.0 774.3,239.6 775.1,237.2 776.1,234.8 777.5,232.4 779.0,230.3 780.7,228.4 782.6,226.8 784.4,225.5 786.3,224.6 788.1,224.1 789.9,224.1 791.4,224.4 792.7,225.2 798.3,228.4 799.7,229.2 800.8,230.3 801.5,231.8 802.0,233.7 802.2,235.8 802.0,238.0 801.5,240.4 800.8,242.8 799.7,245.2 798.3,247.6 796.8,249.7 795.1,251.6 793.2,253.2 791.4,254.5 789.5,255.4 787.7,255.9 786.0,255.9 784.4,255.6 776.1,250.8 775.1,249.7 774.3,248.2 773.8,246.3" fill="#fff" stroke="#333" stroke-width="1.2" stroke-linejoin="round"/>
<polygon points="802.2,235.8 802.0,233.7 801.5,231.9 800.7,230.3 799.7,229.2 798.3,228.4 796.8,228.0 795.1,228.1 793.3,228.6 791.4,229.5 789.5,230.8 787.7,232.4 786.0,234.3 784.4,236.4 783.1,238.8 782.0,241.2 781.2,243.6 780.7,246.0 780.5,248.2 780.7,250.3 781.2,252.1 782.0,253.7 783.1,254.8 784.4,255.6 786.0,256.0 787.7,255.9 789.5,255.4 791.4,254.5 793.3,253.2 795.1,251.6 796.8,249.7 798.3,247.6 799.7,245.2 800.7,242.8 801.5,240.4 802.0,238.0" fill="none" stroke="#333" stroke-width="1.2" stroke-linejoin="round"/>
<polygon points="797.0,232.8 796.8,230.7 796.3,228.9 795.6,227.3 794.5,226.2 793.1,225.4 791.6,225.0 789.9,225.1 788.1,225.6 786.2,226.5 784.3,227.8 782.5,229.4 780.8,231.3 779.2,233.4 777.9,235.8 776.8,238.2 776.0,240.6 775.5,243.0 775.4,245.2 775.5,247.3 776.0,249.1 776.8,250.7 777.9,251.8 779.2,252.6 780.8,253.0 782.5,252.9 784.3,252.4 786.2,251.5 788.1,250.2 789.9,248.6 791.6,246.7 793.1,244.6 794.5,242.2 795.6,239.8 796.3,237.4 796.8,235.0" fill="none" stroke="#777" stroke-width="0.7" stroke-linejoin="round"/>
<polygon points="798.7,233.8 798.6,231.7 798.1,229.9 797.3,228.3 796.2,227.2 794.9,226.4 793.3,226.0 791.6,226.1 789.8,226.6 787.9,227.5 786.0,228.8 784.2,230.4 782.5,232.3 780.9,234.4 779.6,236.8 778.5,239.2 777.7,241.6 777.2,244.0 777.1,246.2 777.2,248.3 777.7,250.1 778.5,251.7 779.6,252.8 780.9,253.6 782.5,254.0 784.2,253.9 786.0,253.4 787.9,252.5 789.8,251.2 791.6,249.6 793.3,247.7 794.9,245.6 796.2,243.2 797.3,240.8 798.1,238.4 798.6,236.0" fill="none" stroke="#333" stroke-width="1.0" stroke-linejoin="round"/>
<polygon points="800.5,234.8 800.3,232.7 799.8,230.9 799.0,229.3 797.9,228.2 796.6,227.4 795.1,227.0 793.3,227.1 791.5,227.6 789.6,228.5 787.8,229.8 785.9,231.4 784.2,233.3 782.7,235.4 781.3,237.8 780.3,240.2 779.5,242.6 779.0,245.0 778.8,247.2 779.0,249.3 779.5,251.1 780.3,252.7 781.3,253.8 782.7,254.6 784.2,255.0 785.9,254.9 787.8,254.4 789.6,253.5 791.5,252.2 793.3,250.6 795.1,248.7 796.6,246.6 797.9,244.2 799.0,241.8 799.8,239.4 800.3,237.0" fill="none" stroke="#777" stroke-width="0.7" stroke-linejoin="round"/>
<polygon points="780.1,248.5 780.3,246.1 780.8,243.7 781.6,241.1 782.8,238.6 784.1,236.2 785.7,234.0 787.5,232.0 789.4,230.3 791.4,229.0 793.3,228.1 795.2,227.6 797.0,227.5 798.6,227.9 800.0,228.7 803.5,230.7 804.6,231.9 805.4,233.4 805.9,235.3 806.1,237.5 805.9,239.9 805.4,242.3 804.6,244.9 803.5,247.4 802.1,249.8 800.5,252.0 798.7,254.0 796.8,255.7 794.8,257.0 792.9,257.9 791.0,258.4 789.2,258.5 787.6,258.1 786.2,257.3 782.8,255.3 781.6,254.1 780.8,252.6 780.3,250.7" fill="#fff" stroke="#444" stroke-width="0.8" stroke-linejoin="round"/>
<polygon points="806.1,237.5 805.9,235.3 805.4,233.4 804.6,231.9 803.5,230.7 802.1,229.9 800.5,229.5 798.7,229.6 796.8,230.1 794.8,231.0 792.9,232.3 791.0,234.0 789.2,236.0 787.6,238.2 786.2,240.6 785.1,243.1 784.3,245.7 783.7,248.1 783.6,250.5 783.7,252.7 784.3,254.6 785.1,256.1 786.2,257.3 787.6,258.1 789.2,258.5 791.0,258.4 792.9,257.9 794.8,257.0 796.8,255.7 798.7,254.0 800.5,252.0 802.1,249.8 803.5,247.4 804.6,244.9 805.4,242.3 805.9,239.9" fill="none" stroke="#444" stroke-width="0.8" stroke-linejoin="round"/>
<polygon points="803.9,238.8 803.8,237.0 803.4,235.5 802.7,234.2 801.8,233.2 800.7,232.6 799.4,232.3 797.9,232.3 796.4,232.7 794.8,233.5 793.3,234.6 791.7,235.9 790.3,237.5 789.0,239.3 787.9,241.3 787.0,243.3 786.3,245.3 785.9,247.3 785.7,249.2 785.9,251.0 786.3,252.5 787.0,253.8 787.9,254.8 789.0,255.4 790.3,255.7 791.7,255.7 793.3,255.3 794.8,254.5 796.4,253.4 797.9,252.1 799.4,250.5 800.7,248.7 801.8,246.7 802.7,244.7 803.4,242.7 803.8,240.7" fill="none" stroke="#777" stroke-width="0.6" stroke-linejoin="round"/>
<polygon points="788.3,247.8 788.4,246.4 788.7,245.0 789.2,243.5 789.9,242.1 790.7,240.7 791.6,239.4 792.6,238.2 793.7,237.3 794.8,236.5 796.0,236.0 797.1,235.7 798.1,235.6 799.0,235.8 805.9,239.8 806.7,240.3 807.4,241.0 807.9,241.9 808.2,243.0 808.3,244.2 808.2,245.6 807.9,247.0 807.4,248.5 806.7,249.9 805.9,251.3 805.0,252.6 804.0,253.8 802.9,254.7 801.8,255.5 800.6,256.0 799.5,256.3 798.5,256.4 797.6,256.2 790.7,252.2 789.9,251.7 789.2,251.0 788.7,250.1 788.4,249.0" fill="#fff" stroke="#444" stroke-width="0.8" stroke-linejoin="round"/>
<polygon points="808.3,244.2 808.2,243.0 807.9,241.9 807.4,241.0 806.7,240.3 805.9,239.8 805.0,239.6 804.0,239.7 802.9,240.0 801.8,240.5 800.6,241.3 799.5,242.2 798.5,243.4 797.6,244.7 796.8,246.1 796.1,247.5 795.7,249.0 795.4,250.4 795.3,251.8 795.4,253.0 795.7,254.1 796.1,255.0 796.8,255.7 797.6,256.2 798.5,256.4 799.5,256.3 800.6,256.0 801.8,255.5 802.9,254.7 804.0,253.8 805.0,252.6 805.9,251.3 806.7,249.9 807.4,248.5 807.9,247.0 808.2,245.6" fill="none" stroke="#444" stroke-width="0.8" stroke-linejoin="round"/>
<polygon points="632.5,284.2 632.6,283.0 632.9,281.9 633.3,281.0 634.0,280.3 634.8,279.8 641.7,275.8 642.6,275.6 643.7,275.7 644.8,276.0 645.9,276.5 647.0,277.3 648.1,278.2 649.1,279.4 650.1,280.7 650.9,282.1 651.5,283.5 652.0,285.0 652.3,286.4 652.4,287.8 652.3,289.0 652.0,290.1 651.5,291.0 650.9,291.7 650.1,292.2 643.1,296.2 642.2,296.4 641.2,296.3 640.1,296.0 639.0,295.5 637.8,294.7 636.7,293.8 635.7,292.6 634.8,291.3 634.0,289.9 633.3,288.5 632.9,287.0 632.6,285.6" fill="#fff" stroke="#444" stroke-width="0.8" stroke-linejoin="round"/>
<polygon points="645.5,291.8 645.4,290.4 645.1,289.0 644.6,287.5 643.9,286.1 643.1,284.7 642.2,283.4 641.2,282.2 640.1,281.3 639.0,280.5 637.8,280.0 636.7,279.7 635.7,279.6 634.8,279.8 634.0,280.3 633.3,281.0 632.9,281.9 632.6,283.0 632.5,284.2 632.6,285.6 632.9,287.0 633.3,288.5 634.0,289.9 634.8,291.3 635.7,292.6 636.7,293.8 637.8,294.7 639.0,295.5 640.1,296.0 641.2,296.3 642.2,296.4 643.1,296.2 643.9,295.7 644.6,295.0 645.1,294.1 645.4,293.0" fill="none" stroke="#444" stroke-width="0.8" stroke-linejoin="round"/>
<polygon points="624.2,283.5 624.4,281.3 624.9,279.4 625.7,277.9 626.9,276.7 630.3,274.7 631.7,273.9 633.3,273.5 635.1,273.6 637.0,274.1 639.0,275.0 640.9,276.3 642.8,278.0 644.6,280.0 646.2,282.2 647.6,284.6 648.7,287.1 649.5,289.7 650.0,292.1 650.2,294.5 650.0,296.7 649.5,298.6 648.7,300.1 647.6,301.3 644.1,303.3 642.7,304.1 641.1,304.5 639.3,304.4 637.5,303.9 635.5,303.0 633.5,301.7 631.6,300.0 629.9,298.0 628.3,295.8 626.9,293.4 625.7,290.9 624.9,288.3 624.4,285.9" fill="#fff" stroke="#444" stroke-width="0.8" stroke-linejoin="round"/>
<polygon points="646.8,296.5 646.6,294.1 646.1,291.7 645.2,289.1 644.1,286.6 642.7,284.2 641.1,282.0 639.3,280.0 637.4,278.3 635.5,277.0 633.5,276.1 631.6,275.6 629.9,275.5 628.3,275.9 626.9,276.7 625.7,277.9 624.9,279.4 624.4,281.3 624.2,283.5 624.4,285.9 624.9,288.3 625.7,290.9 626.9,293.4 628.3,295.8 629.9,298.0 631.6,300.0 633.5,301.7 635.5,303.0 637.4,303.9 639.3,304.4 641.1,304.5 642.7,304.1 644.1,303.3 645.2,302.1 646.1,300.6 646.6,298.7" fill="none" stroke="#444" stroke-width="0.8" stroke-linejoin="round"/>
<polygon points="644.6,295.2 644.4,293.3 644.0,291.3 643.4,289.3 642.5,287.3 641.3,285.3 640.0,283.5 638.6,281.9 637.1,280.6 635.5,279.5 633.9,278.7 632.4,278.3 630.9,278.3 629.6,278.6 628.5,279.2 627.6,280.2 626.9,281.5 626.5,283.0 626.4,284.8 626.5,286.7 626.9,288.7 627.6,290.7 628.5,292.7 629.6,294.7 630.9,296.5 632.4,298.1 633.9,299.4 635.5,300.5 637.1,301.3 638.6,301.7 640.0,301.7 641.3,301.4 642.5,300.8 643.4,299.8 644.0,298.5 644.4,297.0" fill="none" stroke="#777" stroke-width="0.6" stroke-linejoin="round"/>
<polygon points="617.7,287.8 617.9,285.7 618.4,283.9 619.2,282.3 620.3,281.2 628.5,276.4 630.1,276.1 631.8,276.1 633.6,276.6 635.5,277.5 637.4,278.8 639.2,280.4 640.9,282.3 642.5,284.4 643.8,286.8 644.9,289.2 645.7,291.6 646.1,294.0 646.3,296.2 646.1,298.3 645.7,300.1 644.9,301.7 643.8,302.8 642.5,303.6 636.9,306.8 635.5,307.6 634.0,307.9 632.3,307.9 630.4,307.4 628.6,306.5 626.7,305.2 624.9,303.6 623.1,301.7 621.6,299.6 620.3,297.2 619.2,294.8 618.4,292.4 617.9,290.0" fill="#fff" stroke="#333" stroke-width="1.2" stroke-linejoin="round"/>
<polygon points="639.4,300.2 639.2,298.0 638.7,295.6 637.9,293.2 636.9,290.8 635.5,288.4 634.0,286.3 632.3,284.4 630.4,282.8 628.6,281.5 626.7,280.6 624.9,280.1 623.2,280.0 621.6,280.4 620.3,281.2 619.2,282.3 618.4,283.9 617.9,285.7 617.7,287.8 617.9,290.0 618.4,292.4 619.2,294.8 620.3,297.2 621.6,299.6 623.2,301.7 624.9,303.6 626.7,305.2 628.6,306.5 630.4,307.4 632.3,307.9 634.0,308.0 635.5,307.6 636.9,306.8 637.9,305.7 638.7,304.1 639.2,302.3" fill="none" stroke="#333" stroke-width="1.2" stroke-linejoin="round"/>
<polygon points="641.1,299.2 641.0,297.0 640.5,294.6 639.7,292.2 638.6,289.8 637.3,287.4 635.7,285.3 634.0,283.4 632.2,281.8 630.3,280.5 628.4,279.6 626.6,279.1 624.9,279.0 623.3,279.4 622.0,280.2 620.9,281.3 620.1,282.9 619.6,284.7 619.5,286.8 619.6,289.0 620.1,291.4 620.9,293.8 622.0,296.2 623.3,298.6 624.9,300.7 626.6,302.6 628.4,304.2 630.3,305.5 632.2,306.4 634.0,306.9 635.7,307.0 637.3,306.6 638.6,305.8 639.7,304.7 640.5,303.1 641.0,301.3" fill="none" stroke="#777" stroke-width="0.7" stroke-linejoin="round"/>
<polygon points="642.9,298.2 642.7,296.0 642.2,293.6 641.4,291.2 640.3,288.8 639.0,286.4 637.4,284.3 635.7,282.4 633.9,280.8 632.0,279.5 630.1,278.6 628.3,278.1 626.6,278.0 625.1,278.4 623.7,279.2 622.7,280.3 621.9,281.9 621.4,283.7 621.2,285.8 621.4,288.0 621.9,290.4 622.7,292.8 623.7,295.2 625.1,297.6 626.6,299.7 628.3,301.6 630.1,303.2 632.0,304.5 633.9,305.4 635.7,305.9 637.4,306.0 639.0,305.6 640.3,304.8 641.4,303.7 642.2,302.1 642.7,300.3" fill="none" stroke="#333" stroke-width="1.0" stroke-linejoin="round"/>
<polygon points="644.6,297.2 644.4,295.0 643.9,292.6 643.1,290.2 642.1,287.8 640.7,285.4 639.2,283.3 637.5,281.4 635.6,279.8 633.8,278.5 631.9,277.6 630.1,277.1 628.3,277.0 626.8,277.4 625.5,278.2 624.4,279.3 623.6,280.9 623.1,282.7 622.9,284.8 623.1,287.0 623.6,289.4 624.4,291.8 625.5,294.2 626.8,296.6 628.3,298.7 630.1,300.6 631.9,302.2 633.8,303.5 635.6,304.4 637.5,304.9 639.2,305.0 640.7,304.6 642.1,303.8 643.1,302.7 643.9,301.1 644.4,299.3" fill="none" stroke="#777" stroke-width="0.7" stroke-linejoin="round"/>
<polygon points="613.8,289.5 614.0,287.3 614.5,285.4 615.4,283.9 616.5,282.7 617.9,281.9 619.9,280.7 621.3,279.9 622.9,279.5 624.7,279.6 626.6,280.1 628.6,281.0 630.5,282.3 632.4,284.0 634.2,286.0 635.8,288.2 637.2,290.6 638.3,293.1 639.1,295.7 639.6,298.1 639.8,300.5 639.6,302.7 639.1,304.6 638.3,306.1 637.2,307.3 632.3,310.1 630.7,310.5 629.0,310.4 627.0,309.9 625.1,309.0 623.1,307.7 621.2,306.0 619.5,304.0 617.9,301.8 616.5,299.4 615.4,296.9 614.5,294.3 614.0,291.9" fill="#fff" stroke="#444" stroke-width="0.8" stroke-linejoin="round"/>
<polygon points="636.4,302.5 636.2,300.1 635.7,297.7 634.8,295.1 633.7,292.6 632.3,290.2 630.7,288.0 629.0,286.0 627.1,284.3 625.1,283.0 623.1,282.1 621.2,281.6 619.5,281.5 617.9,281.9 616.5,282.7 615.4,283.9 614.5,285.4 614.0,287.3 613.8,289.5 614.0,291.9 614.5,294.3 615.4,296.9 616.5,299.4 617.9,301.8 619.5,304.0 621.2,306.0 623.1,307.7 625.1,309.0 627.1,309.9 629.0,310.4 630.7,310.5 632.3,310.1 633.7,309.3 634.8,308.1 635.7,306.6 636.2,304.7" fill="none" stroke="#444" stroke-width="0.8" stroke-linejoin="round"/>
<polygon points="634.2,301.2 634.1,299.3 633.6,297.3 633.0,295.3 632.1,293.3 630.9,291.3 629.6,289.5 628.2,287.9 626.7,286.6 625.1,285.5 623.5,284.7 622.0,284.3 620.6,284.3 619.3,284.6 618.1,285.2 617.2,286.2 616.6,287.5 616.1,289.0 616.0,290.8 616.1,292.7 616.6,294.7 617.2,296.7 618.1,298.7 619.3,300.7 620.6,302.5 622.0,304.1 623.5,305.4 625.1,306.5 626.7,307.3 628.2,307.7 629.6,307.7 630.9,307.4 632.1,306.8 633.0,305.8 633.6,304.5 634.1,303.0" fill="none" stroke="#777" stroke-width="0.6" stroke-linejoin="round"/>
<polygon points="600.9,300.0 601.0,298.3 601.4,296.9 602.0,295.7 602.9,294.7 618.5,285.7 619.5,285.1 620.8,284.8 622.1,284.9 623.6,285.3 625.1,286.0 626.6,287.0 628.1,288.3 629.4,289.8 630.7,291.6 631.7,293.4 632.6,295.3 633.2,297.3 633.6,299.2 633.8,301.0 633.6,302.7 633.2,304.1 632.6,305.3 631.7,306.3 616.1,315.3 615.1,315.9 613.8,316.2 612.5,316.1 611.0,315.7 609.5,315.0 608.0,314.0 606.5,312.7 605.2,311.2 604.0,309.4 602.9,307.6 602.0,305.7 601.4,303.7 601.0,301.8" fill="#fff" stroke="#444" stroke-width="0.8" stroke-linejoin="round"/>
<polygon points="618.2,310.0 618.0,308.2 617.6,306.3 617.0,304.3 616.1,302.4 615.1,300.6 613.8,298.8 612.5,297.3 611.0,296.0 609.5,295.0 608.0,294.3 606.6,293.9 605.2,293.8 603.9,294.1 602.9,294.7 602.0,295.7 601.4,296.9 601.0,298.3 600.9,300.0 601.0,301.8 601.4,303.7 602.0,305.7 602.9,307.6 603.9,309.4 605.2,311.2 606.6,312.7 608.0,314.0 609.5,315.0 611.0,315.7 612.5,316.1 613.8,316.2 615.1,315.9 616.1,315.3 617.0,314.3 617.6,313.1 618.0,311.7" fill="none" stroke="#444" stroke-width="0.8" stroke-linejoin="round"/>
<polygon points="572.3,321.5 599.1,306.0 626.0,321.5 599.1,337.0" fill="#fff" stroke="#444" stroke-width="0.8" stroke-linejoin="round"/>
<polygon points="572.3,332.0 599.1,347.5 599.1,337.0 572.3,321.5" fill="#fff" stroke="#444" stroke-width="0.8" stroke-linejoin="round"/>
<polygon points="599.1,347.5 626.0,332.0 626.0,321.5 599.1,337.0" fill="#fff" stroke="#444" stroke-width="0.8" stroke-linejoin="round"/>
<polygon points="578.3,299.5 599.1,287.5 619.9,299.5 599.1,311.5" fill="#fff" stroke="#444" stroke-width="0.9" stroke-linejoin="round"/>
<polygon points="578.3,321.5 599.1,333.5 599.1,311.5 578.3,299.5" fill="#fff" stroke="#444" stroke-width="0.9" stroke-linejoin="round"/>
<polygon points="599.1,333.5 619.9,321.5 619.9,299.5 599.1,311.5" fill="#fff" stroke="#444" stroke-width="0.9" stroke-linejoin="round"/>
<polyline points="599.1,311.5 599.1,333.5" fill="none" stroke="#666" stroke-width="1.4"/>
<circle cx="581.8" cy="305.5" r="0.8" fill="#444"/>
<circle cx="602.6" cy="313.5" r="0.8" fill="#444"/>
<circle cx="595.7" cy="313.5" r="0.8" fill="#444"/>
<circle cx="616.4" cy="305.5" r="0.8" fill="#444"/>
<circle cx="581.8" cy="319.5" r="0.8" fill="#444"/>
<circle cx="602.6" cy="327.5" r="0.8" fill="#444"/>
<circle cx="595.7" cy="327.5" r="0.8" fill="#444"/>
<circle cx="616.4" cy="319.5" r="0.8" fill="#444"/>
<polygon points="584.5,295.3 584.9,293.8 585.8,292.4 587.1,291.1 588.7,290.0 590.7,289.1 592.9,288.3 595.3,287.8 597.8,287.6 600.4,287.6 602.9,287.8 605.3,288.3 607.5,289.1 609.5,290.0 611.2,291.1 612.4,292.4 613.3,293.8 613.8,295.3 613.8,300.2 613.3,301.7 612.4,303.1 611.2,304.4 609.5,305.5 607.5,306.4 605.3,307.2 602.9,307.7 600.4,307.9 597.8,307.9 595.3,307.7 592.9,307.2 590.7,306.4 588.7,305.5 587.1,304.4 585.8,303.1 584.9,301.7 584.5,300.2" fill="#fff" stroke="#444" stroke-width="0.8" stroke-linejoin="round"/>
<polygon points="609.5,290.0 611.2,291.1 612.4,292.4 613.3,293.8 613.8,295.3 613.8,296.7 613.3,298.2 612.4,299.6 611.2,300.9 609.5,302.0 607.5,303.0 605.3,303.7 602.9,304.2 600.4,304.5 597.8,304.5 595.3,304.2 592.9,303.7 590.7,303.0 588.7,302.0 587.1,300.9 585.8,299.6 584.9,298.2 584.5,296.7 584.5,295.3 584.9,293.8 585.8,292.4 587.1,291.1 588.7,290.0 590.7,289.0 592.9,288.3 595.3,287.8 597.8,287.5 600.4,287.5 602.9,287.8 605.3,288.3 607.5,289.0" fill="none" stroke="#444" stroke-width="0.8" stroke-linejoin="round"/>
<polygon points="606.5,291.8 607.6,292.6 608.6,293.5 609.2,294.4 609.5,295.5 609.5,296.5 609.2,297.6 608.6,298.5 607.6,299.4 606.5,300.2 605.1,300.9 603.5,301.4 601.8,301.8 600.0,302.0 598.2,302.0 596.4,301.8 594.7,301.4 593.1,300.9 591.8,300.2 590.6,299.4 589.7,298.5 589.1,297.6 588.7,296.5 588.7,295.5 589.1,294.4 589.7,293.5 590.6,292.6 591.8,291.8 593.1,291.1 594.7,290.6 596.4,290.2 598.2,290.0 600.0,290.0 601.8,290.2 603.5,290.6 605.1,291.1" fill="none" stroke="#666" stroke-width="0.7" stroke-linejoin="round"/>
<polygon points="603.5,293.5 604.1,294.0 604.7,294.5 605.0,295.1 605.2,295.7 605.2,296.3 605.0,296.9 604.7,297.5 604.1,298.0 603.5,298.5 602.6,298.9 601.7,299.2 600.7,299.4 599.7,299.5 598.6,299.5 597.5,299.4 596.5,299.2 595.6,298.9 594.8,298.5 594.1,298.0 593.6,297.5 593.2,296.9 593.0,296.3 593.0,295.7 593.2,295.1 593.6,294.5 594.1,294.0 594.8,293.5 595.6,293.1 596.5,292.8 597.5,292.6 598.6,292.5 599.7,292.5 600.7,292.6 601.7,292.8 602.6,293.1" fill="none" stroke="#444" stroke-width="0.8" stroke-linejoin="round"/>
<circle cx="607.8" cy="291.0" r="0.7" fill="#555"/>
<circle cx="611.4" cy="296.0" r="0.7" fill="#555"/>
<circle cx="607.8" cy="301.0" r="0.7" fill="#555"/>
<circle cx="599.1" cy="303.1" r="0.7" fill="#555"/>
<circle cx="590.5" cy="301.0" r="0.7" fill="#555"/>
<circle cx="586.9" cy="296.0" r="0.7" fill="#555"/>
<circle cx="590.5" cy="291.0" r="0.7" fill="#555"/>
<circle cx="599.1" cy="288.9" r="0.7" fill="#555"/>
<polygon points="809.6,260.0 809.7,258.6 810.0,257.2 810.4,255.8 811.1,254.3 811.9,252.9 812.8,251.6 813.8,250.5 814.9,249.5 816.0,248.8 817.2,248.2 818.3,247.9 819.3,247.9 820.2,248.1 827.2,252.1 828.0,252.6 828.6,253.2 829.1,254.2 829.4,255.2 829.5,256.5 829.4,257.9 829.1,259.3 828.6,260.8 828.0,262.2 827.2,263.6 826.2,264.9 825.2,266.0 824.1,267.0 823.0,267.8 821.9,268.3 820.8,268.6 819.7,268.6 818.8,268.4 811.9,264.4 811.1,263.9 810.4,263.2 810.0,262.3 809.7,261.2" fill="#fff" stroke="#444" stroke-width="0.8" stroke-linejoin="round"/>
<polygon points="829.5,256.5 829.4,255.3 829.1,254.2 828.6,253.3 828.0,252.6 827.2,252.1 826.2,251.9 825.2,251.9 824.1,252.2 823.0,252.8 821.9,253.5 820.8,254.5 819.7,255.6 818.8,256.9 818.0,258.3 817.4,259.7 816.9,261.2 816.6,262.6 816.5,264.0 816.6,265.2 816.9,266.3 817.4,267.2 818.0,267.9 818.8,268.4 819.7,268.6 820.8,268.6 821.9,268.3 823.0,267.8 824.1,267.0 825.2,266.0 826.2,264.9 827.2,263.6 828.0,262.2 828.6,260.8 829.1,259.3 829.4,257.9" fill="none" stroke="#444" stroke-width="0.8" stroke-linejoin="round"/>
<polygon points="811.7,266.8 811.9,264.4 812.4,261.9 813.2,259.4 814.4,256.9 815.7,254.5 817.4,252.2 819.1,250.3 821.0,248.6 823.0,247.2 824.9,246.3 826.8,245.8 828.6,245.7 830.2,246.1 831.6,246.9 835.1,248.9 836.2,250.1 837.0,251.7 837.5,253.6 837.7,255.8 837.5,258.1 837.0,260.6 836.2,263.1 835.1,265.6 833.7,268.0 832.1,270.3 830.3,272.2 828.4,273.9 826.4,275.2 824.5,276.2 822.6,276.7 820.8,276.8 819.2,276.4 817.8,275.6 815.7,274.4 814.4,273.6 813.2,272.4 812.4,270.8 811.9,268.9" fill="#fff" stroke="#444" stroke-width="0.8" stroke-linejoin="round"/>
<polygon points="837.7,255.8 837.5,253.6 837.0,251.7 836.2,250.1 835.1,248.9 833.7,248.1 832.1,247.7 830.3,247.8 828.4,248.3 826.4,249.2 824.5,250.6 822.6,252.3 820.8,254.2 819.2,256.5 817.8,258.9 816.7,261.4 815.9,263.9 815.4,266.4 815.2,268.8 815.4,270.9 815.9,272.8 816.7,274.4 817.8,275.6 819.2,276.4 820.8,276.8 822.6,276.7 824.5,276.2 826.4,275.2 828.4,273.9 830.3,272.2 832.1,270.3 833.7,268.0 835.1,265.6 836.2,263.1 837.0,260.6 837.5,258.1" fill="none" stroke="#444" stroke-width="0.8" stroke-linejoin="round"/>
<polygon points="835.5,257.0 835.4,255.3 835.0,253.7 834.3,252.5 833.4,251.5 832.3,250.8 831.0,250.5 829.6,250.6 828.0,251.0 826.4,251.8 824.9,252.8 823.3,254.2 821.9,255.8 820.6,257.6 819.5,259.5 818.6,261.5 817.9,263.6 817.5,265.6 817.4,267.5 817.5,269.2 817.9,270.8 818.6,272.0 819.5,273.0 820.6,273.7 821.9,274.0 823.3,273.9 824.9,273.5 826.4,272.8 828.0,271.7 829.6,270.3 831.0,268.7 832.3,266.9 833.4,265.0 834.3,263.0 835.0,260.9 835.4,258.9" fill="none" stroke="#777" stroke-width="0.6" stroke-linejoin="round"/>
<polygon points="815.6,268.5 815.8,266.2 816.3,263.9 817.1,261.4 818.1,259.0 819.5,256.7 821.0,254.6 822.7,252.6 824.6,251.0 826.4,249.8 828.3,248.8 830.1,248.4 831.9,248.3 833.4,248.7 834.7,249.4 841.7,253.4 842.8,254.6 843.5,256.1 844.0,257.9 844.2,260.0 844.0,262.3 843.5,264.6 842.8,267.1 841.7,269.5 840.3,271.8 838.8,273.9 837.1,275.9 835.2,277.5 833.4,278.8 831.5,279.6 829.7,280.1 828.0,280.2 826.4,279.8 818.1,275.1 817.1,273.9 816.3,272.4 815.8,270.6" fill="#fff" stroke="#333" stroke-width="1.2" stroke-linejoin="round"/>
<polygon points="844.2,260.0 844.0,257.9 843.5,256.1 842.7,254.6 841.7,253.4 840.3,252.7 838.8,252.3 837.1,252.4 835.3,252.9 833.4,253.8 831.5,255.0 829.7,256.6 828.0,258.5 826.4,260.7 825.1,263.0 824.0,265.4 823.2,267.8 822.7,270.2 822.5,272.5 822.7,274.6 823.2,276.4 824.0,277.9 825.1,279.1 826.4,279.8 828.0,280.2 829.7,280.1 831.5,279.6 833.4,278.8 835.3,277.5 837.1,275.9 838.8,274.0 840.3,271.8 841.7,269.5 842.7,267.1 843.5,264.7 844.0,262.3" fill="none" stroke="#333" stroke-width="1.2" stroke-linejoin="round"/>
<polygon points="839.0,257.0 838.8,254.9 838.3,253.1 837.6,251.6 836.5,250.4 835.1,249.7 833.6,249.3 831.9,249.4 830.1,249.9 828.2,250.8 826.3,252.0 824.5,253.6 822.8,255.5 821.2,257.7 819.9,260.0 818.8,262.4 818.0,264.8 817.5,267.2 817.4,269.5 817.5,271.6 818.0,273.4 818.8,274.9 819.9,276.1 821.2,276.8 822.8,277.2 824.5,277.1 826.3,276.6 828.2,275.8 830.1,274.5 831.9,272.9 833.6,271.0 835.1,268.8 836.5,266.5 837.6,264.1 838.3,261.7 838.8,259.3" fill="none" stroke="#777" stroke-width="0.7" stroke-linejoin="round"/>
<polygon points="840.7,258.0 840.6,255.9 840.1,254.1 839.3,252.6 838.2,251.4 836.9,250.7 835.3,250.3 833.6,250.4 831.8,250.9 829.9,251.8 828.0,253.0 826.2,254.6 824.5,256.5 823.0,258.7 821.6,261.0 820.5,263.4 819.7,265.8 819.2,268.2 819.1,270.5 819.2,272.6 819.7,274.4 820.5,275.9 821.6,277.1 823.0,277.8 824.5,278.2 826.2,278.1 828.0,277.6 829.9,276.8 831.8,275.5 833.6,273.9 835.3,272.0 836.9,269.8 838.2,267.5 839.3,265.1 840.1,262.7 840.6,260.3" fill="none" stroke="#333" stroke-width="1.0" stroke-linejoin="round"/>
<polygon points="842.5,259.0 842.3,256.9 841.8,255.1 841.0,253.6 839.9,252.4 838.6,251.7 837.1,251.3 835.3,251.4 833.5,251.9 831.6,252.8 829.8,254.0 827.9,255.6 826.2,257.5 824.7,259.7 823.3,262.0 822.3,264.4 821.5,266.8 821.0,269.2 820.8,271.5 821.0,273.6 821.5,275.4 822.3,276.9 823.3,278.1 824.7,278.8 826.2,279.2 827.9,279.1 829.8,278.6 831.6,277.8 833.5,276.5 835.3,274.9 837.1,273.0 838.6,270.8 839.9,268.5 841.0,266.1 841.8,263.7 842.3,261.3" fill="none" stroke="#777" stroke-width="0.7" stroke-linejoin="round"/>
<polygon points="822.1,272.8 822.3,270.4 822.8,267.9 823.6,265.4 824.8,262.9 826.1,260.5 827.7,258.2 829.5,256.3 831.4,254.6 833.4,253.2 835.3,252.3 837.2,251.8 839.0,251.7 840.6,252.1 842.0,252.9 845.5,254.9 846.6,256.1 847.4,257.7 847.9,259.6 848.1,261.8 847.9,264.1 847.4,266.6 846.6,269.1 845.5,271.6 844.1,274.0 842.5,276.3 840.7,278.2 838.8,279.9 836.8,281.2 834.9,282.2 833.0,282.7 831.2,282.8 829.6,282.4 828.2,281.6 824.8,279.6 823.6,278.4 822.8,276.8 822.3,274.9" fill="#fff" stroke="#444" stroke-width="0.8" stroke-linejoin="round"/>
<polygon points="848.1,261.8 847.9,259.6 847.4,257.7 846.6,256.1 845.5,254.9 844.1,254.1 842.5,253.7 840.7,253.8 838.8,254.3 836.8,255.2 834.9,256.6 833.0,258.3 831.2,260.2 829.6,262.5 828.2,264.9 827.1,267.4 826.3,269.9 825.8,272.4 825.6,274.8 825.8,276.9 826.3,278.8 827.1,280.4 828.2,281.6 829.6,282.4 831.2,282.8 833.0,282.7 834.9,282.2 836.8,281.2 838.8,279.9 840.7,278.2 842.5,276.3 844.1,274.0 845.5,271.6 846.6,269.1 847.4,266.6 847.9,264.1" fill="none" stroke="#444" stroke-width="0.8" stroke-linejoin="round"/>
<polygon points="845.9,263.0 845.8,261.3 845.4,259.7 844.7,258.5 843.8,257.5 842.7,256.8 841.4,256.5 839.9,256.6 838.4,257.0 836.8,257.8 835.3,258.8 833.7,260.2 832.3,261.8 831.0,263.6 829.9,265.5 829.0,267.5 828.3,269.6 827.9,271.6 827.7,273.5 827.9,275.2 828.3,276.8 829.0,278.0 829.9,279.0 831.0,279.7 832.3,280.0 833.7,279.9 835.3,279.5 836.8,278.8 838.4,277.7 839.9,276.3 841.4,274.7 842.7,272.9 843.8,271.0 844.7,269.0 845.4,266.9 845.8,264.9" fill="none" stroke="#777" stroke-width="0.6" stroke-linejoin="round"/>
<polygon points="828.2,273.2 828.3,271.4 828.7,269.5 829.3,267.6 830.2,265.6 831.3,263.8 832.5,262.1 833.9,260.6 835.3,259.3 836.8,258.2 838.3,257.5 839.8,257.1 841.2,257.1 842.4,257.4 843.5,258.0 846.9,260.0 847.8,260.9 848.4,262.1 848.8,263.6 849.0,265.2 848.8,267.1 848.4,269.0 847.8,270.9 846.9,272.9 845.9,274.7 844.6,276.4 843.3,277.9 841.8,279.2 840.3,280.2 838.8,281.0 837.3,281.4 836.0,281.4 834.7,281.1 833.7,280.5 830.2,278.5 829.3,277.6 828.7,276.4 828.3,274.9" fill="#fff" stroke="#444" stroke-width="0.8" stroke-linejoin="round"/>
<polygon points="849.0,265.2 848.8,263.6 848.4,262.1 847.8,260.9 846.9,260.0 845.9,259.4 844.6,259.1 843.3,259.1 841.8,259.5 840.3,260.2 838.8,261.3 837.3,262.6 836.0,264.1 834.7,265.8 833.7,267.7 832.8,269.6 832.2,271.5 831.8,273.4 831.6,275.2 831.8,276.9 832.2,278.4 832.8,279.6 833.7,280.5 834.7,281.1 836.0,281.4 837.3,281.4 838.8,281.0 840.3,280.2 841.8,279.2 843.3,277.9 844.6,276.4 845.9,274.7 846.9,272.8 847.8,270.9 848.4,269.0 848.8,267.1" fill="none" stroke="#444" stroke-width="0.8" stroke-linejoin="round"/>
<polygon points="823.4,288.0 851.1,272.0 880.6,289.0 852.9,305.0" fill="#fff" stroke="#444" stroke-width="0.8" stroke-linejoin="round"/>
<polygon points="823.4,298.0 852.9,315.0 852.9,305.0 823.4,288.0" fill="#fff" stroke="#444" stroke-width="0.8" stroke-linejoin="round"/>
<polygon points="852.9,315.0 880.6,299.0 880.6,289.0 852.9,305.0" fill="#fff" stroke="#444" stroke-width="0.8" stroke-linejoin="round"/>
<polygon points="830.7,266.0 850.3,254.7 873.3,268.0 853.7,279.3" fill="#fff" stroke="#444" stroke-width="0.9" stroke-linejoin="round"/>
<polygon points="830.7,287.5 853.7,300.8 853.7,279.3 830.7,266.0" fill="#fff" stroke="#444" stroke-width="0.9" stroke-linejoin="round"/>
<polygon points="853.7,300.8 873.3,289.5 873.3,268.0 853.7,279.3" fill="#fff" stroke="#444" stroke-width="0.9" stroke-linejoin="round"/>
<circle cx="856.6" cy="281.1" r="0.8" fill="#444"/>
<circle cx="870.4" cy="273.1" r="0.8" fill="#444"/>
<circle cx="856.6" cy="295.1" r="0.8" fill="#444"/>
<circle cx="870.4" cy="287.1" r="0.8" fill="#444"/>
<circle cx="839.9" cy="266.0" r="0.8" fill="#444"/>
<circle cx="864.1" cy="268.0" r="0.8" fill="#444"/>
<circle cx="853.7" cy="274.0" r="0.8" fill="#444"/>
<circle cx="850.3" cy="260.0" r="0.8" fill="#444"/>
<polygon points="821.0,290.3 821.1,289.1 821.4,288.0 821.9,287.1 822.5,286.4 823.3,285.9 836.9,278.0 837.8,277.8 838.9,277.9 840.0,278.2 841.1,278.7 842.2,279.5 843.3,280.4 844.3,281.6 845.3,282.9 846.1,284.2 846.7,285.7 847.2,287.2 847.5,288.6 847.6,289.9 847.5,291.2 847.2,292.3 846.7,293.2 846.1,293.9 845.3,294.4 831.7,302.2 830.7,302.4 829.7,302.4 828.6,302.1 827.5,301.6 826.4,300.8 825.3,299.8 824.2,298.7 823.3,297.4 822.5,296.0 821.9,294.6 821.4,293.1 821.1,291.7" fill="#fff" stroke="#444" stroke-width="0.8" stroke-linejoin="round"/>
<polygon points="834.0,297.8 833.9,296.4 833.6,295.0 833.1,293.5 832.5,292.1 831.7,290.7 830.7,289.4 829.7,288.3 828.6,287.3 827.5,286.6 826.4,286.0 825.3,285.7 824.2,285.7 823.3,285.9 822.5,286.4 821.9,287.1 821.4,288.0 821.1,289.1 821.0,290.3 821.1,291.7 821.4,293.1 821.9,294.6 822.5,296.0 823.3,297.4 824.2,298.7 825.3,299.8 826.4,300.8 827.5,301.6 828.6,302.1 829.7,302.4 830.7,302.4 831.7,302.2 832.5,301.7 833.1,301.0 833.6,300.1 833.9,299.0" fill="none" stroke="#444" stroke-width="0.8" stroke-linejoin="round"/>
<polygon points="808.4,287.1 819.7,280.6 835.3,289.6 824.0,296.1" fill="#fff" stroke="#444" stroke-width="0.9" stroke-linejoin="round"/>
<polygon points="808.4,305.1 824.0,314.1 824.0,296.1 808.4,287.1" fill="#fff" stroke="#444" stroke-width="0.9" stroke-linejoin="round"/>
<polygon points="824.0,314.1 835.3,307.6 835.3,289.6 824.0,296.1" fill="#fff" stroke="#444" stroke-width="0.9" stroke-linejoin="round"/>
<polygon points="822.5,304.1 822.4,302.8 822.1,301.5 821.6,300.1 821.0,298.7 820.2,297.3 819.3,296.1 818.4,295.0 817.3,294.1 816.2,293.4 815.1,292.8 814.1,292.6 813.1,292.5 812.2,292.7 811.4,293.2 810.8,293.8 810.4,294.7 810.1,295.8 810.0,296.9 810.1,298.3 810.4,299.6 810.8,301.0 811.4,302.4 812.2,303.8 813.1,305.0 814.1,306.1 815.1,307.0 816.2,307.8 817.3,308.3 818.4,308.5 819.3,308.6 820.2,308.4 821.0,307.9 821.6,307.3 822.1,306.4 822.4,305.3" fill="none" stroke="#444" stroke-width="0.9" stroke-linejoin="round"/>
<polygon points="820.7,303.1 820.7,302.2 820.5,301.2 820.1,300.2 819.7,299.2 819.1,298.2 818.5,297.3 817.8,296.6 817.0,295.9 816.2,295.4 815.4,295.0 814.7,294.8 814.0,294.7 813.3,294.9 812.8,295.2 812.3,295.7 812.0,296.3 811.8,297.1 811.7,297.9 811.8,298.9 812.0,299.9 812.3,300.9 812.8,301.9 813.3,302.9 814.0,303.8 814.7,304.5 815.4,305.2 816.2,305.8 817.0,306.1 817.8,306.3 818.5,306.4 819.1,306.2 819.7,305.9 820.1,305.4 820.5,304.8 820.7,304.0" fill="none" stroke="#555" stroke-width="0.7" stroke-linejoin="round"/>
<polygon points="819.0,302.1 819.0,301.6 818.8,301.0 818.6,300.3 818.3,299.7 818.0,299.1 817.6,298.6 817.2,298.1 816.7,297.7 816.2,297.4 815.7,297.1 815.3,297.0 814.8,297.0 814.4,297.1 814.1,297.3 813.8,297.6 813.6,298.0 813.5,298.4 813.5,298.9 813.5,299.5 813.6,300.1 813.8,300.8 814.1,301.4 814.4,302.0 814.8,302.5 815.3,303.0 815.7,303.4 816.2,303.8 816.7,304.0 817.2,304.1 817.6,304.1 818.0,304.0 818.3,303.8 818.6,303.5 818.8,303.1 819.0,302.7" fill="none" stroke="#555" stroke-width="0.7" stroke-linejoin="round"/>
<circle cx="829.6" cy="301.8" r="1.0" fill="#444"/>
<polygon points="883.0,299.1 883.0,298.3 883.2,297.5 883.5,296.7 883.9,295.9 884.3,295.1 884.8,294.4 885.4,293.8 886.0,293.2 886.6,292.8 887.3,292.5 887.9,292.3 888.5,292.3 889.0,292.4 907.2,302.9 907.6,303.2 908.0,303.6 908.2,304.1 908.4,304.7 908.5,305.4 908.4,306.2 908.2,307.0 908.0,307.8 907.6,308.6 907.2,309.4 906.6,310.1 906.1,310.7 905.5,311.3 904.8,311.7 904.2,312.0 903.6,312.2 903.0,312.2 902.5,312.1 884.3,301.6 883.9,301.3 883.5,300.9 883.2,300.4 883.0,299.8" fill="#fff" stroke="#555" stroke-width="0.8" stroke-linejoin="round"/>
<polygon points="855.0,288.8 855.1,286.9 855.5,285.0 856.2,283.1 857.0,281.1 858.1,279.3 859.4,277.6 860.7,276.1 862.2,274.8 863.7,273.8 865.2,273.0 866.6,272.6 868.0,272.6 869.2,272.9 870.3,273.5 873.8,275.5 874.6,276.4 875.3,277.6 875.7,279.1 875.8,280.8 875.7,282.6 875.3,284.5 874.6,286.4 873.8,288.4 872.7,290.2 871.5,291.9 870.1,293.4 868.6,294.7 867.1,295.8 865.6,296.5 864.2,296.9 862.8,296.9 861.6,296.6 860.5,296.0 857.0,294.0 856.2,293.1 855.5,291.9 855.1,290.4" fill="#fff" stroke="#444" stroke-width="0.8" stroke-linejoin="round"/>
<polygon points="875.8,280.8 875.7,279.1 875.3,277.6 874.6,276.4 873.8,275.5 872.7,274.9 871.5,274.6 870.1,274.6 868.7,275.0 867.1,275.8 865.6,276.8 864.2,278.1 862.8,279.6 861.6,281.3 860.5,283.2 859.6,285.1 859.0,287.0 858.6,288.9 858.5,290.8 858.6,292.4 859.0,293.9 859.6,295.1 860.5,296.0 861.6,296.6 862.8,296.9 864.2,296.9 865.6,296.5 867.1,295.8 868.7,294.7 870.1,293.4 871.5,291.9 872.7,290.2 873.8,288.3 874.6,286.4 875.3,284.5 875.7,282.6" fill="none" stroke="#444" stroke-width="0.8" stroke-linejoin="round"/>
<polygon points="855.9,292.2 856.1,289.9 856.6,287.4 857.4,284.9 858.5,282.4 859.9,280.0 861.5,277.7 863.3,275.8 865.2,274.1 867.1,272.8 869.1,271.8 871.0,271.3 872.8,271.2 874.4,271.6 875.8,272.4 879.2,274.4 880.4,275.6 881.2,277.2 881.7,279.1 881.9,281.2 881.7,283.6 881.2,286.1 880.4,288.6 879.2,291.1 877.9,293.5 876.2,295.8 874.5,297.7 872.6,299.4 870.6,300.8 868.7,301.7 866.8,302.2 865.0,302.3 863.4,301.9 858.5,299.1 857.4,297.9 856.6,296.3 856.1,294.4" fill="#fff" stroke="#444" stroke-width="0.8" stroke-linejoin="round"/>
<polygon points="881.9,281.2 881.7,279.1 881.2,277.2 880.4,275.6 879.2,274.4 877.8,273.6 876.2,273.2 874.5,273.3 872.6,273.8 870.6,274.8 868.7,276.1 866.8,277.8 865.0,279.7 863.4,282.0 862.0,284.4 860.9,286.9 860.0,289.4 859.5,291.9 859.4,294.2 859.5,296.4 860.0,298.3 860.9,299.9 862.0,301.1 863.4,301.9 865.0,302.3 866.8,302.2 868.7,301.7 870.6,300.8 872.6,299.4 874.5,297.7 876.2,295.8 877.8,293.5 879.2,291.1 880.4,288.6 881.2,286.1 881.7,283.6" fill="none" stroke="#444" stroke-width="0.8" stroke-linejoin="round"/>
<polygon points="879.7,282.5 879.6,280.8 879.2,279.2 878.5,278.0 877.6,277.0 876.5,276.3 875.2,276.0 873.7,276.1 872.2,276.5 870.6,277.2 869.0,278.3 867.5,279.7 866.1,281.3 864.8,283.1 863.6,285.0 862.7,287.0 862.1,289.1 861.7,291.1 861.5,293.0 861.7,294.7 862.1,296.3 862.7,297.5 863.6,298.5 864.8,299.2 866.1,299.5 867.5,299.4 869.0,299.0 870.6,298.2 872.2,297.2 873.7,295.8 875.2,294.2 876.5,292.4 877.6,290.5 878.5,288.5 879.2,286.4 879.6,284.4" fill="none" stroke="#777" stroke-width="0.6" stroke-linejoin="round"/>
<polygon points="859.8,294.0 860.0,291.7 860.4,289.4 861.2,286.9 862.3,284.5 863.6,282.2 865.2,280.1 866.9,278.1 868.7,276.5 870.6,275.2 872.5,274.4 874.3,273.9 876.0,273.8 877.6,274.2 884.5,278.2 885.8,278.9 886.9,280.1 887.7,281.6 888.2,283.4 888.4,285.5 888.2,287.8 887.7,290.1 886.9,292.6 885.8,295.0 884.5,297.3 883.0,299.4 881.2,301.4 879.4,303.0 877.5,304.2 875.7,305.1 873.8,305.6 872.1,305.7 870.6,305.3 863.6,301.3 862.3,300.6 861.2,299.4 860.4,297.9 860.0,296.1" fill="#fff" stroke="#333" stroke-width="1.2" stroke-linejoin="round"/>
<polygon points="888.4,285.5 888.2,283.4 887.7,281.6 886.9,280.1 885.8,278.9 884.5,278.2 883.0,277.8 881.2,277.9 879.4,278.4 877.5,279.2 875.7,280.5 873.8,282.1 872.1,284.0 870.6,286.2 869.2,288.5 868.2,290.9 867.4,293.3 866.9,295.7 866.7,298.0 866.9,300.1 867.4,301.9 868.2,303.4 869.2,304.6 870.6,305.3 872.1,305.7 873.8,305.6 875.7,305.1 877.5,304.2 879.4,303.0 881.2,301.4 883.0,299.5 884.5,297.3 885.8,295.0 886.9,292.6 887.7,290.2 888.2,287.8" fill="none" stroke="#333" stroke-width="1.2" stroke-linejoin="round"/>
<polygon points="883.2,282.5 883.0,280.4 882.5,278.6 881.7,277.1 880.6,275.9 879.3,275.2 877.8,274.8 876.0,274.9 874.2,275.4 872.3,276.2 870.5,277.5 868.6,279.1 866.9,281.0 865.4,283.2 864.1,285.5 863.0,287.9 862.2,290.3 861.7,292.7 861.5,295.0 861.7,297.1 862.2,298.9 863.0,300.4 864.1,301.6 865.4,302.3 866.9,302.7 868.6,302.6 870.5,302.1 872.3,301.2 874.2,300.0 876.0,298.4 877.8,296.5 879.3,294.3 880.6,292.0 881.7,289.6 882.5,287.2 883.0,284.8" fill="none" stroke="#777" stroke-width="0.7" stroke-linejoin="round"/>
<polygon points="884.9,283.5 884.7,281.4 884.2,279.6 883.4,278.1 882.4,276.9 881.0,276.2 879.5,275.8 877.8,275.9 876.0,276.4 874.1,277.2 872.2,278.5 870.4,280.1 868.7,282.0 867.1,284.2 865.8,286.5 864.7,288.9 863.9,291.3 863.4,293.7 863.2,296.0 863.4,298.1 863.9,299.9 864.7,301.4 865.8,302.6 867.1,303.3 868.7,303.7 870.4,303.6 872.2,303.1 874.1,302.2 876.0,301.0 877.8,299.4 879.5,297.5 881.0,295.3 882.4,293.0 883.4,290.6 884.2,288.2 884.7,285.8" fill="none" stroke="#333" stroke-width="1.0" stroke-linejoin="round"/>
<polygon points="886.6,284.5 886.5,282.4 886.0,280.6 885.2,279.1 884.1,277.9 882.8,277.2 881.2,276.8 879.5,276.9 877.7,277.4 875.8,278.2 873.9,279.5 872.1,281.1 870.4,283.0 868.8,285.2 867.5,287.5 866.4,289.9 865.6,292.3 865.1,294.7 865.0,297.0 865.1,299.1 865.6,300.9 866.4,302.4 867.5,303.6 868.8,304.3 870.4,304.7 872.1,304.6 873.9,304.1 875.8,303.2 877.7,302.0 879.5,300.4 881.2,298.5 882.8,296.3 884.1,294.0 885.2,291.6 886.0,289.2 886.5,286.8" fill="none" stroke="#777" stroke-width="0.7" stroke-linejoin="round"/>
<polygon points="866.3,298.2 866.5,295.9 867.0,293.4 867.8,290.9 868.9,288.4 870.3,286.0 871.9,283.7 873.7,281.8 875.6,280.1 877.5,278.8 879.5,277.8 881.4,277.3 883.2,277.2 884.8,277.6 889.6,280.4 890.8,281.6 891.6,283.2 892.1,285.1 892.3,287.2 892.1,289.6 891.6,292.1 890.8,294.6 889.6,297.1 888.2,299.5 886.6,301.8 884.9,303.7 883.0,305.4 881.0,306.8 879.0,307.7 877.1,308.2 875.4,308.3 873.8,307.9 872.4,307.1 868.9,305.1 867.8,303.9 867.0,302.3 866.5,300.4" fill="#fff" stroke="#444" stroke-width="0.8" stroke-linejoin="round"/>
<polygon points="892.3,287.2 892.1,285.1 891.6,283.2 890.8,281.6 889.6,280.4 888.2,279.6 886.6,279.2 884.9,279.3 883.0,279.8 881.0,280.8 879.0,282.1 877.2,283.8 875.4,285.7 873.8,288.0 872.4,290.4 871.3,292.9 870.4,295.4 869.9,297.9 869.7,300.2 869.9,302.4 870.4,304.3 871.3,305.9 872.4,307.1 873.8,307.9 875.4,308.3 877.2,308.2 879.0,307.7 881.0,306.8 883.0,305.4 884.9,303.7 886.6,301.8 888.2,299.5 889.6,297.1 890.8,294.6 891.6,292.1 892.1,289.6" fill="none" stroke="#444" stroke-width="0.8" stroke-linejoin="round"/>
<polygon points="890.1,288.5 890.0,286.8 889.5,285.2 888.9,284.0 888.0,283.0 886.8,282.3 885.5,282.0 884.1,282.1 882.6,282.5 881.0,283.2 879.4,284.3 877.9,285.7 876.5,287.3 875.2,289.1 874.0,291.0 873.1,293.0 872.5,295.1 872.0,297.1 871.9,299.0 872.0,300.7 872.5,302.3 873.1,303.5 874.0,304.5 875.2,305.2 876.5,305.5 877.9,305.4 879.4,305.0 881.0,304.2 882.6,303.2 884.1,301.8 885.5,300.2 886.8,298.4 888.0,296.5 888.9,294.5 889.5,292.4 890.0,290.4" fill="none" stroke="#777" stroke-width="0.6" stroke-linejoin="round"/>
<polygon points="874.5,297.5 874.6,296.1 874.9,294.7 875.4,293.2 876.0,291.8 876.8,290.4 877.8,289.1 878.8,288.0 879.9,287.0 881.0,286.2 882.1,285.7 883.2,285.4 884.2,285.4 885.2,285.6 892.1,289.6 892.9,290.1 893.6,290.8 894.0,291.7 894.3,292.8 894.4,294.0 894.3,295.4 894.0,296.8 893.6,298.2 892.9,299.7 892.1,301.1 891.2,302.4 890.1,303.5 889.1,304.5 887.9,305.2 886.8,305.8 885.7,306.1 884.7,306.1 883.8,305.9 876.8,301.9 876.0,301.4 875.4,300.8 874.9,299.8 874.6,298.8" fill="#fff" stroke="#444" stroke-width="0.8" stroke-linejoin="round"/>
<polygon points="894.4,294.0 894.3,292.8 894.0,291.7 893.6,290.8 892.9,290.1 892.1,289.6 891.2,289.4 890.2,289.4 889.1,289.7 887.9,290.2 886.8,291.0 885.7,292.0 884.7,293.1 883.8,294.4 883.0,295.8 882.3,297.2 881.8,298.7 881.5,300.1 881.4,301.5 881.5,302.7 881.8,303.8 882.3,304.7 883.0,305.4 883.8,305.9 884.7,306.1 885.7,306.1 886.8,305.8 887.9,305.2 889.1,304.5 890.2,303.5 891.2,302.4 892.1,301.1 892.9,299.7 893.6,298.3 894.0,296.8 894.3,295.4" fill="none" stroke="#444" stroke-width="0.8" stroke-linejoin="round"/>
<polygon points="896.6,310.2 896.7,308.9 897.0,307.5 897.5,306.0 898.1,304.6 898.9,303.2 899.8,301.9 900.9,300.7 902.0,299.8 903.1,299.0 904.2,298.5 905.3,298.2 906.3,298.1 907.3,298.3 914.2,302.3 915.0,302.8 915.6,303.5 916.1,304.4 916.4,305.5 916.5,306.8 916.4,308.1 916.1,309.5 915.6,311.0 915.0,312.4 914.2,313.8 913.3,315.1 912.2,316.3 911.1,317.2 910.0,318.0 908.9,318.5 907.8,318.8 906.8,318.9 905.8,318.7 898.9,314.7 898.1,314.2 897.5,313.5 897.0,312.6 896.7,311.5" fill="#fff" stroke="#444" stroke-width="0.8" stroke-linejoin="round"/>
<polygon points="916.5,306.8 916.4,305.5 916.1,304.4 915.6,303.5 915.0,302.8 914.2,302.3 913.3,302.1 912.2,302.2 911.1,302.5 910.0,303.0 908.9,303.8 907.8,304.7 906.8,305.9 905.8,307.2 905.0,308.6 904.4,310.0 903.9,311.5 903.6,312.9 903.5,314.2 903.6,315.5 903.9,316.6 904.4,317.5 905.0,318.2 905.8,318.7 906.8,318.9 907.8,318.8 908.9,318.5 910.0,318.0 911.1,317.2 912.2,316.3 913.3,315.1 914.2,313.8 915.0,312.4 915.6,311.0 916.1,309.5 916.4,308.1" fill="none" stroke="#444" stroke-width="0.8" stroke-linejoin="round"/>
<polygon points="898.8,317.0 898.9,314.6 899.4,312.2 900.3,309.6 901.4,307.1 902.8,304.7 904.4,302.5 906.2,300.5 908.1,298.8 910.0,297.5 912.0,296.6 913.9,296.1 915.6,296.0 917.2,296.4 918.6,297.2 922.1,299.2 923.2,300.4 924.1,301.9 924.6,303.8 924.7,306.0 924.6,308.4 924.1,310.8 923.2,313.4 922.1,315.9 920.7,318.3 919.1,320.5 917.3,322.5 915.4,324.2 913.5,325.5 911.5,326.4 909.6,326.9 907.9,327.0 906.2,326.6 904.9,325.8 901.4,323.8 900.3,322.6 899.4,321.1 898.9,319.2" fill="#fff" stroke="#444" stroke-width="0.8" stroke-linejoin="round"/>
<polygon points="924.7,306.0 924.6,303.8 924.1,301.9 923.2,300.4 922.1,299.2 920.7,298.4 919.1,298.0 917.3,298.1 915.4,298.6 913.5,299.5 911.5,300.8 909.6,302.5 907.8,304.5 906.2,306.7 904.9,309.1 903.7,311.6 902.9,314.2 902.4,316.6 902.2,319.0 902.4,321.2 902.9,323.1 903.7,324.6 904.9,325.8 906.2,326.6 907.8,327.0 909.6,326.9 911.5,326.4 913.5,325.5 915.4,324.2 917.3,322.5 919.1,320.5 920.7,318.3 922.1,315.9 923.2,313.4 924.1,310.8 924.6,308.4" fill="none" stroke="#444" stroke-width="0.8" stroke-linejoin="round"/>
<polygon points="922.6,307.2 922.4,305.5 922.0,304.0 921.4,302.7 920.4,301.7 919.3,301.1 918.0,300.8 916.6,300.8 915.1,301.2 913.5,302.0 911.9,303.1 910.4,304.4 908.9,306.0 907.6,307.8 906.5,309.8 905.6,311.8 904.9,313.8 904.5,315.8 904.4,317.8 904.5,319.5 904.9,321.0 905.6,322.3 906.5,323.3 907.6,323.9 908.9,324.2 910.4,324.2 911.9,323.8 913.5,323.0 915.1,321.9 916.6,320.6 918.0,319.0 919.3,317.2 920.4,315.2 921.4,313.2 922.0,311.2 922.4,309.2" fill="none" stroke="#777" stroke-width="0.6" stroke-linejoin="round"/>
<polygon points="902.6,318.8 902.8,316.5 903.3,314.1 904.1,311.7 905.2,309.2 906.5,306.9 908.1,304.8 909.8,302.9 911.6,301.3 913.5,300.0 915.4,299.1 917.2,298.6 918.9,298.6 920.4,298.9 928.7,303.7 929.8,304.8 930.6,306.4 931.1,308.2 931.2,310.2 931.1,312.5 930.6,314.9 929.8,317.3 928.7,319.8 927.4,322.1 925.8,324.2 924.1,326.1 922.3,327.7 920.4,329.0 918.5,329.9 916.7,330.4 915.0,330.4 913.5,330.1 912.1,329.3 906.5,326.1 905.2,325.3 904.1,324.2 903.3,322.6 902.8,320.8" fill="#fff" stroke="#333" stroke-width="1.2" stroke-linejoin="round"/>
<polygon points="931.2,310.2 931.1,308.2 930.6,306.4 929.8,304.8 928.7,303.7 927.4,302.9 925.8,302.5 924.1,302.6 922.3,303.1 920.4,304.0 918.5,305.3 916.7,306.9 915.0,308.8 913.4,310.9 912.1,313.3 911.0,315.7 910.2,318.1 909.7,320.5 909.6,322.8 909.7,324.8 910.2,326.6 911.0,328.2 912.1,329.3 913.4,330.1 915.0,330.5 916.7,330.4 918.5,329.9 920.4,329.0 922.3,327.7 924.1,326.1 925.8,324.2 927.4,322.1 928.7,319.7 929.8,317.3 930.6,314.9 931.1,312.5" fill="none" stroke="#333" stroke-width="1.2" stroke-linejoin="round"/>
<polygon points="926.0,307.2 925.9,305.2 925.4,303.4 924.6,301.8 923.5,300.7 922.2,299.9 920.6,299.5 918.9,299.6 917.1,300.1 915.2,301.0 913.3,302.3 911.5,303.9 909.8,305.8 908.3,307.9 906.9,310.3 905.8,312.7 905.0,315.1 904.5,317.5 904.4,319.8 904.5,321.8 905.0,323.6 905.8,325.2 906.9,326.3 908.3,327.1 909.8,327.5 911.5,327.4 913.3,326.9 915.2,326.0 917.1,324.7 918.9,323.1 920.6,321.2 922.2,319.1 923.5,316.7 924.6,314.3 925.4,311.9 925.9,309.5" fill="none" stroke="#777" stroke-width="0.7" stroke-linejoin="round"/>
<polygon points="927.8,308.2 927.6,306.2 927.1,304.4 926.3,302.8 925.2,301.7 923.9,300.9 922.4,300.5 920.6,300.6 918.8,301.1 916.9,302.0 915.1,303.3 913.2,304.9 911.5,306.8 910.0,308.9 908.6,311.3 907.6,313.7 906.8,316.1 906.3,318.5 906.1,320.8 906.3,322.8 906.8,324.6 907.6,326.2 908.6,327.3 910.0,328.1 911.5,328.5 913.2,328.4 915.1,327.9 916.9,327.0 918.8,325.7 920.6,324.1 922.4,322.2 923.9,320.1 925.2,317.7 926.3,315.3 927.1,312.9 927.6,310.5" fill="none" stroke="#333" stroke-width="1.0" stroke-linejoin="round"/>
<polygon points="929.5,309.2 929.3,307.2 928.8,305.4 928.0,303.8 927.0,302.7 925.6,301.9 924.1,301.5 922.4,301.6 920.6,302.1 918.7,303.0 916.8,304.3 915.0,305.9 913.3,307.8 911.7,309.9 910.4,312.3 909.3,314.7 908.5,317.1 908.0,319.5 907.8,321.8 908.0,323.8 908.5,325.6 909.3,327.2 910.4,328.3 911.7,329.1 913.3,329.5 915.0,329.4 916.8,328.9 918.7,328.0 920.6,326.7 922.4,325.1 924.1,323.2 925.6,321.1 927.0,318.7 928.0,316.3 928.8,313.9 929.3,311.5" fill="none" stroke="#777" stroke-width="0.7" stroke-linejoin="round"/>
<polygon points="909.1,323.0 909.3,320.6 909.8,318.2 910.7,315.6 911.8,313.1 913.2,310.7 914.8,308.5 916.6,306.5 918.5,304.8 920.4,303.5 922.4,302.6 924.3,302.1 926.0,302.0 927.6,302.4 929.0,303.2 931.1,304.4 932.5,305.2 933.6,306.4 934.5,307.9 935.0,309.8 935.1,312.0 935.0,314.4 934.5,316.8 933.6,319.4 932.5,321.9 931.1,324.3 929.5,326.5 927.7,328.5 925.8,330.2 923.9,331.5 921.9,332.4 920.0,332.9 918.2,333.0 916.6,332.6 911.8,329.8 910.7,328.6 909.8,327.1 909.3,325.2" fill="#fff" stroke="#444" stroke-width="0.8" stroke-linejoin="round"/>
<polygon points="935.1,312.0 935.0,309.8 934.4,307.9 933.6,306.4 932.5,305.2 931.1,304.4 929.5,304.0 927.7,304.1 925.8,304.6 923.9,305.5 921.9,306.8 920.0,308.5 918.2,310.5 916.6,312.7 915.2,315.1 914.1,317.6 913.3,320.2 912.8,322.6 912.6,325.0 912.8,327.2 913.3,329.1 914.1,330.6 915.2,331.8 916.6,332.6 918.2,333.0 920.0,332.9 921.9,332.4 923.9,331.5 925.8,330.2 927.7,328.5 929.5,326.5 931.1,324.3 932.5,321.9 933.6,319.4 934.4,316.8 935.0,314.4" fill="none" stroke="#444" stroke-width="0.8" stroke-linejoin="round"/>
<polygon points="933.0,313.2 932.8,311.5 932.4,310.0 931.7,308.7 930.8,307.7 929.7,307.1 928.4,306.8 927.0,306.8 925.4,307.2 923.9,308.0 922.3,309.1 920.8,310.4 919.3,312.0 918.0,313.8 916.9,315.8 916.0,317.8 915.3,319.8 914.9,321.8 914.8,323.8 914.9,325.5 915.3,327.0 916.0,328.3 916.9,329.3 918.0,329.9 919.3,330.2 920.8,330.2 922.3,329.8 923.9,329.0 925.4,327.9 927.0,326.6 928.4,325.0 929.7,323.2 930.8,321.2 931.7,319.2 932.4,317.2 932.8,315.2" fill="none" stroke="#777" stroke-width="0.6" stroke-linejoin="round"/>
<polygon points="915.2,323.5 915.3,321.7 915.7,319.8 916.4,317.8 917.2,315.9 918.3,314.1 919.5,312.3 920.9,310.8 922.4,309.5 923.9,308.5 925.4,307.8 926.8,307.4 928.2,307.3 929.4,307.6 930.5,308.2 946.1,317.2 947.0,318.2 947.6,319.4 948.0,320.8 948.1,322.5 948.0,324.3 947.6,326.2 947.0,328.2 946.1,330.1 945.0,331.9 943.8,333.7 942.4,335.2 941.0,336.5 939.5,337.5 938.0,338.2 936.5,338.6 935.1,338.7 933.9,338.4 932.8,337.8 917.2,328.8 916.4,327.8 915.7,326.6 915.3,325.2" fill="#fff" stroke="#444" stroke-width="0.8" stroke-linejoin="round"/>
<polygon points="948.1,322.5 948.0,320.8 947.6,319.4 947.0,318.2 946.1,317.2 945.0,316.6 943.8,316.3 942.4,316.4 941.0,316.8 939.5,317.5 938.0,318.5 936.5,319.8 935.1,321.3 933.9,323.1 932.8,324.9 932.0,326.8 931.3,328.8 930.9,330.7 930.8,332.5 930.9,334.2 931.3,335.6 932.0,336.8 932.8,337.8 933.9,338.4 935.1,338.7 936.5,338.6 938.0,338.2 939.5,337.5 941.0,336.5 942.4,335.2 943.8,333.7 945.0,331.9 946.1,330.1 947.0,328.2 947.6,326.2 948.0,324.3" fill="none" stroke="#444" stroke-width="0.8" stroke-linejoin="round"/>
<polygon points="923.0,344.0 949.9,328.5 976.7,344.0 949.9,359.5" fill="#fff" stroke="#444" stroke-width="0.8" stroke-linejoin="round"/>
<polygon points="923.0,354.5 949.9,370.0 949.9,359.5 923.0,344.0" fill="#fff" stroke="#444" stroke-width="0.8" stroke-linejoin="round"/>
<polygon points="949.9,370.0 976.7,354.5 976.7,344.0 949.9,359.5" fill="#fff" stroke="#444" stroke-width="0.8" stroke-linejoin="round"/>
<polygon points="929.1,322.0 949.9,310.0 970.6,322.0 949.8,334.0" fill="#fff" stroke="#444" stroke-width="0.9" stroke-linejoin="round"/>
<polygon points="929.1,344.0 949.8,356.0 949.8,334.0 929.1,322.0" fill="#fff" stroke="#444" stroke-width="0.9" stroke-linejoin="round"/>
<polygon points="949.8,356.0 970.6,344.0 970.6,322.0 949.8,334.0" fill="#fff" stroke="#444" stroke-width="0.9" stroke-linejoin="round"/>
<polyline points="949.8,334.0 949.8,356.0" fill="none" stroke="#666" stroke-width="1.4"/>
<circle cx="932.5" cy="328.0" r="0.8" fill="#444"/>
<circle cx="953.3" cy="336.0" r="0.8" fill="#444"/>
<circle cx="946.4" cy="336.0" r="0.8" fill="#444"/>
<circle cx="967.2" cy="328.0" r="0.8" fill="#444"/>
<circle cx="932.5" cy="342.0" r="0.8" fill="#444"/>
<circle cx="953.3" cy="350.0" r="0.8" fill="#444"/>
<circle cx="946.4" cy="350.0" r="0.8" fill="#444"/>
<circle cx="967.2" cy="342.0" r="0.8" fill="#444"/>
<polygon points="935.2,317.8 935.6,316.3 936.5,314.9 937.8,313.6 939.5,312.5 941.4,311.6 943.6,310.8 946.0,310.3 948.6,310.1 951.1,310.1 953.6,310.3 956.1,310.8 958.3,311.6 960.2,312.5 961.9,313.6 963.2,314.9 964.0,316.3 964.5,317.8 964.5,322.7 964.0,324.2 963.2,325.6 961.9,326.9 960.2,328.0 958.3,328.9 956.1,329.7 953.6,330.2 951.1,330.4 948.6,330.4 946.0,330.2 943.6,329.7 941.4,328.9 939.5,328.0 937.8,326.9 936.5,325.6 935.6,324.2 935.2,322.7" fill="#fff" stroke="#444" stroke-width="0.8" stroke-linejoin="round"/>
<polygon points="960.2,312.5 961.9,313.6 963.2,314.9 964.0,316.3 964.5,317.8 964.5,319.2 964.0,320.7 963.2,322.1 961.9,323.4 960.2,324.5 958.3,325.5 956.1,326.2 953.7,326.7 951.1,327.0 948.6,327.0 946.0,326.7 943.6,326.2 941.4,325.5 939.5,324.5 937.8,323.4 936.5,322.1 935.7,320.7 935.2,319.2 935.2,317.8 935.7,316.3 936.5,314.9 937.8,313.6 939.5,312.5 941.4,311.5 943.6,310.8 946.0,310.3 948.6,310.0 951.1,310.0 953.7,310.3 956.1,310.8 958.3,311.5" fill="none" stroke="#444" stroke-width="0.8" stroke-linejoin="round"/>
<polygon points="957.2,314.2 958.4,315.1 959.3,316.0 959.9,316.9 960.2,318.0 960.2,319.0 959.9,320.1 959.3,321.0 958.4,321.9 957.2,322.8 955.8,323.4 954.2,323.9 952.5,324.3 950.8,324.5 948.9,324.5 947.2,324.3 945.5,323.9 943.9,323.4 942.5,322.8 941.3,321.9 940.4,321.0 939.8,320.1 939.5,319.0 939.5,318.0 939.8,316.9 940.4,316.0 941.3,315.1 942.5,314.2 943.9,313.6 945.5,313.1 947.2,312.7 948.9,312.5 950.8,312.5 952.5,312.7 954.2,313.1 955.8,313.6" fill="none" stroke="#666" stroke-width="0.7" stroke-linejoin="round"/>
<polygon points="954.2,316.0 954.9,316.5 955.4,317.0 955.8,317.6 956.0,318.2 956.0,318.8 955.8,319.4 955.4,320.0 954.9,320.5 954.2,321.0 953.4,321.4 952.4,321.7 951.4,321.9 950.4,322.0 949.3,322.0 948.3,321.9 947.3,321.7 946.3,321.4 945.5,321.0 944.8,320.5 944.3,320.0 943.9,319.4 943.7,318.8 943.7,318.2 943.9,317.6 944.3,317.0 944.8,316.5 945.5,316.0 946.3,315.6 947.3,315.3 948.3,315.1 949.3,315.0 950.4,315.0 951.4,315.1 952.4,315.3 953.4,315.6" fill="none" stroke="#444" stroke-width="0.8" stroke-linejoin="round"/>
<circle cx="958.5" cy="313.5" r="0.7" fill="#555"/>
<circle cx="962.1" cy="318.5" r="0.7" fill="#555"/>
<circle cx="958.5" cy="323.5" r="0.7" fill="#555"/>
<circle cx="949.9" cy="325.6" r="0.7" fill="#555"/>
<circle cx="941.2" cy="323.5" r="0.7" fill="#555"/>
<circle cx="937.6" cy="318.5" r="0.7" fill="#555"/>
<circle cx="941.2" cy="313.5" r="0.7" fill="#555"/>
<circle cx="949.8" cy="311.4" r="0.7" fill="#555"/>
<polygon points="835.4,395.4 835.4,394.7 835.6,394.1 835.9,393.6 836.2,393.2 836.7,392.9 902.5,354.9 903.0,354.8 903.6,354.8 904.2,355.0 904.8,355.3 905.5,355.7 906.1,356.3 906.6,356.9 907.2,357.6 907.6,358.4 908.0,359.2 908.2,360.0 908.4,360.8 908.5,361.6 908.4,362.3 908.2,362.9 908.0,363.4 907.6,363.8 907.2,364.1 841.3,402.1 840.8,402.2 840.2,402.2 839.6,402.0 839.0,401.7 838.4,401.3 837.8,400.7 837.2,400.1 836.7,399.4 836.2,398.6 835.9,397.8 835.6,397.0 835.4,396.2" fill="#fff" stroke="#555" stroke-width="0.8" stroke-linejoin="round"/>
<polygon points="915.2,343.5 915.3,341.8 915.7,340.4 916.4,339.2 917.2,338.2 932.8,329.2 933.9,328.6 935.1,328.3 936.5,328.4 938.0,328.8 939.5,329.5 941.0,330.5 942.4,331.8 943.8,333.3 945.0,335.1 946.1,336.9 947.0,338.8 947.6,340.8 948.0,342.7 948.1,344.5 948.0,346.2 947.6,347.6 947.0,348.8 946.1,349.8 930.5,358.8 929.4,359.4 928.2,359.7 926.8,359.6 925.4,359.2 923.9,358.5 922.4,357.5 920.9,356.2 919.5,354.7 918.3,352.9 917.2,351.1 916.4,349.2 915.7,347.2 915.3,345.3" fill="#fff" stroke="#444" stroke-width="0.8" stroke-linejoin="round"/>
<polygon points="932.5,353.5 932.4,351.7 932.0,349.8 931.4,347.8 930.5,345.9 929.4,344.1 928.2,342.3 926.8,340.8 925.4,339.5 923.9,338.5 922.4,337.8 920.9,337.4 919.5,337.3 918.3,337.6 917.2,338.2 916.4,339.2 915.7,340.4 915.3,341.8 915.2,343.5 915.3,345.3 915.7,347.2 916.4,349.2 917.2,351.1 918.3,352.9 919.5,354.7 920.9,356.2 922.4,357.5 923.9,358.5 925.4,359.2 926.8,359.6 928.2,359.7 929.4,359.4 930.5,358.8 931.4,357.8 932.0,356.6 932.4,355.2" fill="none" stroke="#444" stroke-width="0.8" stroke-linejoin="round"/>
<polygon points="909.1,344.0 909.3,341.8 909.8,339.9 910.7,338.4 911.8,337.2 916.6,334.4 918.2,334.0 920.0,334.1 921.9,334.6 923.9,335.5 925.8,336.8 927.7,338.5 929.5,340.5 931.1,342.7 932.5,345.1 933.6,347.6 934.5,350.2 935.0,352.6 935.1,355.0 935.0,357.2 934.5,359.1 933.6,360.6 932.5,361.8 931.1,362.6 929.0,363.8 927.6,364.6 926.0,365.0 924.3,364.9 922.4,364.4 920.4,363.5 918.5,362.2 916.6,360.5 914.8,358.5 913.2,356.3 911.8,353.9 910.7,351.4 909.8,348.8 909.3,346.4" fill="#fff" stroke="#444" stroke-width="0.8" stroke-linejoin="round"/>
<polygon points="931.7,357.0 931.5,354.6 931.0,352.2 930.2,349.6 929.0,347.1 927.6,344.7 926.0,342.5 924.3,340.5 922.4,338.8 920.4,337.5 918.5,336.6 916.6,336.1 914.8,336.0 913.2,336.4 911.8,337.2 910.7,338.4 909.8,339.9 909.3,341.8 909.1,344.0 909.3,346.4 909.8,348.8 910.7,351.4 911.8,353.9 913.2,356.3 914.8,358.5 916.6,360.5 918.5,362.2 920.4,363.5 922.4,364.4 924.3,364.9 926.0,365.0 927.6,364.6 929.0,363.8 930.2,362.6 931.0,361.1 931.5,359.2" fill="none" stroke="#444" stroke-width="0.8" stroke-linejoin="round"/>
<polygon points="929.5,355.8 929.4,353.8 929.0,351.8 928.3,349.8 927.4,347.8 926.3,345.8 925.0,344.0 923.5,342.4 922.0,341.1 920.4,340.0 918.8,339.2 917.3,338.8 915.9,338.8 914.6,339.1 913.4,339.7 912.5,340.7 911.9,342.0 911.5,343.5 911.3,345.2 911.5,347.2 911.9,349.2 912.5,351.2 913.4,353.2 914.6,355.2 915.9,357.0 917.3,358.6 918.8,359.9 920.4,361.0 922.0,361.8 923.5,362.2 925.0,362.2 926.3,361.9 927.4,361.3 928.3,360.3 929.0,359.0 929.4,357.5" fill="none" stroke="#777" stroke-width="0.6" stroke-linejoin="round"/>
<polygon points="902.6,348.2 902.8,346.2 903.3,344.4 904.1,342.8 905.2,341.7 906.5,340.9 912.1,337.7 913.5,336.9 915.0,336.6 916.7,336.6 918.5,337.1 920.4,338.0 922.3,339.3 924.1,340.9 925.8,342.8 927.4,344.9 928.7,347.2 929.8,349.7 930.6,352.1 931.1,354.5 931.2,356.8 931.1,358.8 930.6,360.6 929.8,362.2 928.7,363.3 920.4,368.1 918.9,368.4 917.2,368.4 915.4,367.9 913.5,367.0 911.6,365.7 909.8,364.1 908.1,362.2 906.5,360.1 905.2,357.8 904.1,355.3 903.3,352.9 902.8,350.5" fill="#fff" stroke="#333" stroke-width="1.2" stroke-linejoin="round"/>
<polygon points="924.3,360.8 924.1,358.5 923.7,356.1 922.9,353.7 921.8,351.3 920.4,348.9 918.9,346.8 917.2,344.9 915.4,343.3 913.5,342.0 911.6,341.1 909.8,340.6 908.1,340.5 906.5,340.9 905.2,341.7 904.1,342.8 903.3,344.4 902.8,346.2 902.7,348.2 902.8,350.5 903.3,352.9 904.1,355.3 905.2,357.7 906.5,360.1 908.1,362.2 909.8,364.1 911.6,365.7 913.5,367.0 915.4,367.9 917.2,368.4 918.9,368.5 920.4,368.1 921.8,367.3 922.9,366.2 923.7,364.6 924.1,362.8" fill="none" stroke="#333" stroke-width="1.2" stroke-linejoin="round"/>
<polygon points="926.0,359.8 925.9,357.5 925.4,355.1 924.6,352.7 923.5,350.3 922.2,347.9 920.6,345.8 918.9,343.9 917.1,342.3 915.2,341.0 913.3,340.1 911.5,339.6 909.8,339.5 908.3,339.9 906.9,340.7 905.8,341.8 905.0,343.4 904.5,345.2 904.4,347.2 904.5,349.5 905.0,351.9 905.8,354.3 906.9,356.7 908.3,359.1 909.8,361.2 911.5,363.1 913.3,364.7 915.2,366.0 917.1,366.9 918.9,367.4 920.6,367.5 922.2,367.1 923.5,366.3 924.6,365.2 925.4,363.6 925.9,361.8" fill="none" stroke="#777" stroke-width="0.7" stroke-linejoin="round"/>
<polygon points="927.8,358.8 927.6,356.5 927.1,354.1 926.3,351.7 925.2,349.3 923.9,346.9 922.4,344.8 920.6,342.9 918.8,341.3 916.9,340.0 915.1,339.1 913.2,338.6 911.5,338.5 910.0,338.9 908.6,339.7 907.6,340.8 906.8,342.4 906.3,344.2 906.1,346.2 906.3,348.5 906.8,350.9 907.6,353.3 908.6,355.7 910.0,358.1 911.5,360.2 913.2,362.1 915.1,363.7 916.9,365.0 918.8,365.9 920.6,366.4 922.4,366.5 923.9,366.1 925.2,365.3 926.3,364.2 927.1,362.6 927.6,360.8" fill="none" stroke="#333" stroke-width="1.0" stroke-linejoin="round"/>
<polygon points="929.5,357.8 929.3,355.5 928.8,353.1 928.0,350.7 927.0,348.3 925.6,345.9 924.1,343.8 922.4,341.9 920.6,340.3 918.7,339.0 916.8,338.1 915.0,337.6 913.3,337.5 911.7,337.9 910.4,338.7 909.3,339.8 908.5,341.4 908.0,343.2 907.8,345.2 908.0,347.5 908.5,349.9 909.3,352.3 910.4,354.7 911.7,357.1 913.3,359.2 915.0,361.1 916.8,362.7 918.7,364.0 920.6,364.9 922.4,365.4 924.1,365.5 925.6,365.1 927.0,364.3 928.0,363.2 928.8,361.6 929.3,359.8" fill="none" stroke="#777" stroke-width="0.7" stroke-linejoin="round"/>
<polygon points="898.8,350.0 898.9,347.8 899.4,345.9 900.3,344.4 901.4,343.2 904.9,341.2 906.2,340.4 907.9,340.0 909.6,340.1 911.5,340.6 913.5,341.5 915.4,342.8 917.3,344.5 919.1,346.5 920.7,348.7 922.1,351.1 923.2,353.6 924.1,356.2 924.6,358.6 924.7,361.0 924.6,363.2 924.1,365.1 923.2,366.6 922.1,367.8 918.6,369.8 917.2,370.6 915.6,371.0 913.9,370.9 912.0,370.4 910.0,369.5 908.1,368.2 906.2,366.5 904.4,364.5 902.8,362.3 901.4,359.9 900.3,357.4 899.4,354.8 898.9,352.4" fill="#fff" stroke="#444" stroke-width="0.8" stroke-linejoin="round"/>
<polygon points="921.3,363.0 921.1,360.6 920.6,358.2 919.8,355.6 918.6,353.1 917.3,350.7 915.6,348.5 913.9,346.5 912.0,344.8 910.0,343.5 908.1,342.6 906.2,342.1 904.4,342.0 902.8,342.4 901.4,343.2 900.3,344.4 899.4,345.9 898.9,347.8 898.8,350.0 898.9,352.4 899.4,354.8 900.3,357.4 901.4,359.9 902.8,362.3 904.4,364.5 906.2,366.5 908.1,368.2 910.0,369.5 912.0,370.4 913.9,370.9 915.6,371.0 917.3,370.6 918.6,369.8 919.8,368.6 920.6,367.1 921.1,365.2" fill="none" stroke="#444" stroke-width="0.8" stroke-linejoin="round"/>
<polygon points="919.1,361.8 919.0,359.8 918.6,357.8 917.9,355.8 917.0,353.8 915.9,351.8 914.6,350.0 913.1,348.4 911.6,347.1 910.0,346.0 908.4,345.2 906.9,344.8 905.5,344.8 904.2,345.1 903.0,345.7 902.1,346.7 901.5,348.0 901.1,349.5 900.9,351.2 901.1,353.2 901.5,355.2 902.1,357.2 903.0,359.2 904.2,361.2 905.5,363.0 906.9,364.6 908.4,365.9 910.0,367.0 911.6,367.8 913.1,368.2 914.6,368.2 915.9,367.9 917.0,367.3 917.9,366.3 918.6,365.0 919.0,363.5" fill="none" stroke="#777" stroke-width="0.6" stroke-linejoin="round"/>
<polygon points="896.6,356.8 896.7,355.5 897.0,354.4 897.5,353.5 898.1,352.8 898.9,352.3 905.8,348.3 906.8,348.1 907.8,348.2 908.9,348.5 910.0,349.0 911.1,349.8 912.2,350.7 913.3,351.9 914.2,353.2 915.0,354.6 915.6,356.0 916.1,357.5 916.4,358.9 916.5,360.2 916.4,361.5 916.1,362.6 915.6,363.5 915.0,364.2 914.2,364.7 907.3,368.7 906.3,368.9 905.3,368.8 904.2,368.5 903.1,368.0 902.0,367.2 900.9,366.3 899.8,365.1 898.9,363.8 898.1,362.4 897.5,361.0 897.0,359.5 896.7,358.1" fill="#fff" stroke="#444" stroke-width="0.8" stroke-linejoin="round"/>
<polygon points="909.6,364.2 909.5,362.9 909.2,361.5 908.7,360.0 908.1,358.6 907.3,357.2 906.3,355.9 905.3,354.7 904.2,353.8 903.1,353.0 902.0,352.5 900.9,352.2 899.8,352.1 898.9,352.3 898.1,352.8 897.5,353.5 897.0,354.4 896.7,355.5 896.6,356.8 896.7,358.1 897.0,359.5 897.5,361.0 898.1,362.4 898.9,363.8 899.8,365.1 900.9,366.3 902.0,367.2 903.1,368.0 904.2,368.5 905.3,368.8 906.3,368.9 907.3,368.7 908.1,368.2 908.7,367.5 909.2,366.6 909.5,365.5" fill="none" stroke="#444" stroke-width="0.8" stroke-linejoin="round"/>
<polygon points="827.3,396.8 827.4,395.5 827.7,394.4 828.2,393.5 828.8,392.8 829.6,392.3 836.6,388.3 837.5,388.1 838.5,388.2 839.6,388.5 840.7,389.0 841.9,389.8 843.0,390.7 844.0,391.9 844.9,393.2 845.7,394.6 846.4,396.0 846.8,397.5 847.1,398.9 847.2,400.2 847.1,401.5 846.8,402.6 846.4,403.5 845.7,404.2 844.9,404.7 838.0,408.7 837.0,408.9 836.0,408.8 834.9,408.5 833.8,408.0 832.7,407.2 831.6,406.3 830.6,405.1 829.6,403.8 828.8,402.4 828.2,401.0 827.7,399.5 827.4,398.1" fill="#fff" stroke="#444" stroke-width="0.8" stroke-linejoin="round"/>
<polygon points="840.3,404.2 840.2,402.9 839.9,401.5 839.4,400.0 838.8,398.6 838.0,397.2 837.1,395.9 836.0,394.7 834.9,393.8 833.8,393.0 832.7,392.5 831.6,392.2 830.6,392.1 829.6,392.3 828.8,392.8 828.2,393.5 827.7,394.4 827.4,395.5 827.3,396.8 827.4,398.1 827.7,399.5 828.2,401.0 828.8,402.4 829.6,403.8 830.6,405.1 831.6,406.3 832.7,407.2 833.8,408.0 834.9,408.5 836.0,408.8 837.1,408.9 838.0,408.7 838.8,408.2 839.4,407.5 839.9,406.6 840.2,405.5" fill="none" stroke="#444" stroke-width="0.8" stroke-linejoin="round"/>
<polygon points="819.1,396.0 819.3,393.8 819.8,391.9 820.6,390.4 821.7,389.2 825.2,387.2 826.6,386.4 828.2,386.0 830.0,386.1 831.9,386.6 833.8,387.5 835.8,388.8 837.7,390.5 839.4,392.5 841.0,394.7 842.4,397.1 843.6,399.6 844.4,402.2 844.9,404.6 845.1,407.0 844.9,409.2 844.4,411.1 843.6,412.6 842.4,413.8 839.0,415.8 837.6,416.6 836.0,417.0 834.2,416.9 832.3,416.4 830.3,415.5 828.4,414.2 826.5,412.5 824.7,410.5 823.1,408.3 821.7,405.9 820.6,403.4 819.8,400.8 819.3,398.4" fill="#fff" stroke="#444" stroke-width="0.8" stroke-linejoin="round"/>
<polygon points="841.6,409.0 841.4,406.6 840.9,404.2 840.1,401.6 839.0,399.1 837.6,396.7 836.0,394.5 834.2,392.5 832.3,390.8 830.3,389.5 828.4,388.6 826.5,388.1 824.7,388.0 823.1,388.4 821.7,389.2 820.6,390.4 819.8,391.9 819.3,393.8 819.1,396.0 819.3,398.4 819.8,400.8 820.6,403.4 821.7,405.9 823.1,408.3 824.7,410.5 826.5,412.5 828.4,414.2 830.3,415.5 832.3,416.4 834.2,416.9 836.0,417.0 837.6,416.6 839.0,415.8 840.1,414.6 840.9,413.1 841.4,411.2" fill="none" stroke="#444" stroke-width="0.8" stroke-linejoin="round"/>
<polygon points="839.4,407.8 839.3,405.8 838.9,403.8 838.2,401.8 837.3,399.8 836.2,397.8 834.9,396.0 833.5,394.4 831.9,393.1 830.3,392.0 828.8,391.2 827.2,390.8 825.8,390.8 824.5,391.1 823.4,391.7 822.5,392.7 821.8,394.0 821.4,395.5 821.2,397.2 821.4,399.2 821.8,401.2 822.5,403.2 823.4,405.2 824.5,407.2 825.8,409.0 827.2,410.6 828.8,411.9 830.3,413.0 831.9,413.8 833.5,414.2 834.9,414.2 836.2,413.9 837.3,413.3 838.2,412.3 838.9,411.0 839.3,409.5" fill="none" stroke="#777" stroke-width="0.6" stroke-linejoin="round"/>
<polygon points="812.6,400.2 812.8,398.2 813.2,396.4 814.0,394.8 815.1,393.7 823.4,388.9 824.9,388.6 826.6,388.6 828.5,389.1 830.3,390.0 832.2,391.3 834.0,392.9 835.8,394.8 837.3,396.9 838.6,399.2 839.7,401.7 840.5,404.1 841.0,406.5 841.2,408.8 841.0,410.8 840.5,412.6 839.7,414.2 838.6,415.3 837.3,416.1 831.7,419.3 830.4,420.1 828.8,420.4 827.1,420.4 825.3,419.9 823.4,419.0 821.5,417.7 819.7,416.1 818.0,414.2 816.5,412.1 815.1,409.8 814.0,407.3 813.2,404.9 812.8,402.5" fill="#fff" stroke="#333" stroke-width="1.2" stroke-linejoin="round"/>
<polygon points="834.2,412.8 834.1,410.5 833.6,408.1 832.8,405.7 831.7,403.3 830.4,400.9 828.8,398.8 827.1,396.9 825.3,395.3 823.4,394.0 821.5,393.1 819.7,392.6 818.0,392.5 816.5,392.9 815.1,393.7 814.0,394.8 813.2,396.4 812.8,398.2 812.6,400.2 812.8,402.5 813.2,404.9 814.0,407.3 815.1,409.7 816.5,412.1 818.0,414.2 819.7,416.1 821.5,417.7 823.4,419.0 825.3,419.9 827.1,420.4 828.8,420.5 830.4,420.1 831.7,419.3 832.8,418.2 833.6,416.6 834.1,414.8" fill="none" stroke="#333" stroke-width="1.2" stroke-linejoin="round"/>
<polygon points="836.0,411.8 835.8,409.5 835.3,407.1 834.5,404.7 833.4,402.3 832.1,399.9 830.6,397.8 828.8,395.9 827.0,394.3 825.1,393.0 823.3,392.1 821.4,391.6 819.7,391.5 818.2,391.9 816.9,392.7 815.8,393.8 815.0,395.4 814.5,397.2 814.3,399.2 814.5,401.5 815.0,403.9 815.8,406.3 816.9,408.7 818.2,411.1 819.7,413.2 821.4,415.1 823.3,416.7 825.1,418.0 827.0,418.9 828.8,419.4 830.6,419.5 832.1,419.1 833.4,418.3 834.5,417.2 835.3,415.6 835.8,413.8" fill="none" stroke="#777" stroke-width="0.7" stroke-linejoin="round"/>
<polygon points="837.7,410.8 837.5,408.5 837.1,406.1 836.3,403.7 835.2,401.3 833.8,398.9 832.3,396.8 830.6,394.9 828.8,393.3 826.9,392.0 825.0,391.1 823.2,390.6 821.5,390.5 819.9,390.9 818.6,391.7 817.5,392.8 816.7,394.4 816.2,396.2 816.1,398.2 816.2,400.5 816.7,402.9 817.5,405.3 818.6,407.7 819.9,410.1 821.5,412.2 823.2,414.1 825.0,415.7 826.9,417.0 828.8,417.9 830.6,418.4 832.3,418.5 833.8,418.1 835.2,417.3 836.3,416.2 837.1,414.6 837.5,412.8" fill="none" stroke="#333" stroke-width="1.0" stroke-linejoin="round"/>
<polygon points="839.4,409.8 839.3,407.5 838.8,405.1 838.0,402.7 836.9,400.3 835.6,397.9 834.0,395.8 832.3,393.9 830.5,392.3 828.6,391.0 826.7,390.1 824.9,389.6 823.2,389.5 821.7,389.9 820.3,390.7 819.2,391.8 818.4,393.4 817.9,395.2 817.8,397.2 817.9,399.5 818.4,401.9 819.2,404.3 820.3,406.7 821.7,409.1 823.2,411.2 824.9,413.1 826.7,414.7 828.6,416.0 830.5,416.9 832.3,417.4 834.0,417.5 835.6,417.1 836.9,416.3 838.0,415.2 838.8,413.6 839.3,411.8" fill="none" stroke="#777" stroke-width="0.7" stroke-linejoin="round"/>
<polygon points="808.7,402.0 808.9,399.8 809.4,397.9 810.2,396.4 811.3,395.2 812.7,394.4 814.8,393.2 816.2,392.4 817.8,392.0 819.6,392.1 821.5,392.6 823.4,393.5 825.4,394.8 827.3,396.5 829.0,398.5 830.6,400.7 832.0,403.1 833.2,405.6 834.0,408.2 834.5,410.6 834.7,413.0 834.5,415.2 834.0,417.1 833.2,418.6 832.0,419.8 827.2,422.6 825.6,423.0 823.8,422.9 821.9,422.4 820.0,421.5 818.0,420.2 816.1,418.5 814.3,416.5 812.7,414.3 811.3,411.9 810.2,409.4 809.4,406.8 808.9,404.4" fill="#fff" stroke="#444" stroke-width="0.8" stroke-linejoin="round"/>
<polygon points="831.2,415.0 831.0,412.6 830.5,410.2 829.7,407.6 828.6,405.1 827.2,402.7 825.6,400.5 823.8,398.5 821.9,396.8 820.0,395.5 818.0,394.6 816.1,394.1 814.3,394.0 812.7,394.4 811.3,395.2 810.2,396.4 809.4,397.9 808.9,399.8 808.7,402.0 808.9,404.4 809.4,406.8 810.2,409.4 811.3,411.9 812.7,414.3 814.3,416.5 816.1,418.5 818.0,420.2 820.0,421.5 821.9,422.4 823.8,422.9 825.6,423.0 827.2,422.6 828.6,421.8 829.7,420.6 830.5,419.1 831.0,417.2" fill="none" stroke="#444" stroke-width="0.8" stroke-linejoin="round"/>
<polygon points="829.0,413.8 828.9,411.8 828.5,409.8 827.8,407.8 826.9,405.8 825.8,403.8 824.5,402.0 823.1,400.4 821.5,399.1 820.0,398.0 818.4,397.2 816.8,396.8 815.4,396.8 814.1,397.1 813.0,397.7 812.1,398.7 811.4,400.0 811.0,401.5 810.9,403.2 811.0,405.2 811.4,407.2 812.1,409.2 813.0,411.2 814.1,413.2 815.4,415.0 816.8,416.6 818.4,417.9 820.0,419.0 821.5,419.8 823.1,420.2 824.5,420.2 825.8,419.9 826.9,419.3 827.8,418.3 828.5,417.0 828.9,415.5" fill="none" stroke="#777" stroke-width="0.6" stroke-linejoin="round"/>
<polygon points="795.7,412.5 795.8,410.8 796.2,409.4 796.9,408.2 797.7,407.2 813.3,398.2 814.4,397.6 815.6,397.3 817.0,397.4 818.5,397.8 820.0,398.5 821.5,399.5 822.9,400.8 824.3,402.3 825.5,404.1 826.6,405.9 827.5,407.8 828.1,409.8 828.5,411.7 828.6,413.5 828.5,415.2 828.1,416.6 827.5,417.8 826.6,418.8 811.0,427.8 809.9,428.4 808.7,428.7 807.3,428.6 805.9,428.2 804.4,427.5 802.9,426.5 801.4,425.2 800.0,423.7 798.8,421.9 797.7,420.1 796.9,418.2 796.2,416.2 795.8,414.3" fill="#fff" stroke="#444" stroke-width="0.8" stroke-linejoin="round"/>
<polygon points="813.0,422.5 812.9,420.7 812.5,418.8 811.9,416.8 811.0,414.9 809.9,413.1 808.7,411.3 807.3,409.8 805.9,408.5 804.4,407.5 802.9,406.8 801.4,406.4 800.0,406.3 798.8,406.6 797.7,407.2 796.9,408.2 796.2,409.4 795.8,410.8 795.7,412.5 795.8,414.3 796.2,416.2 796.9,418.2 797.7,420.1 798.8,421.9 800.0,423.7 801.4,425.2 802.9,426.5 804.4,427.5 805.9,428.2 807.3,428.6 808.7,428.7 809.9,428.4 811.0,427.8 811.9,426.8 812.5,425.6 812.9,424.2" fill="none" stroke="#444" stroke-width="0.8" stroke-linejoin="round"/>
<polygon points="767.1,434.0 794.0,418.5 820.8,434.0 794.0,449.5" fill="#fff" stroke="#444" stroke-width="0.8" stroke-linejoin="round"/>
<polygon points="767.1,444.5 794.0,460.0 794.0,449.5 767.1,434.0" fill="#fff" stroke="#444" stroke-width="0.8" stroke-linejoin="round"/>
<polygon points="794.0,460.0 820.8,444.5 820.8,434.0 794.0,449.5" fill="#fff" stroke="#444" stroke-width="0.8" stroke-linejoin="round"/>
<polygon points="773.2,412.0 794.0,400.0 814.8,412.0 794.0,424.0" fill="#fff" stroke="#444" stroke-width="0.9" stroke-linejoin="round"/>
<polygon points="773.2,434.0 794.0,446.0 794.0,424.0 773.2,412.0" fill="#fff" stroke="#444" stroke-width="0.9" stroke-linejoin="round"/>
<polygon points="794.0,446.0 814.8,434.0 814.8,412.0 794.0,424.0" fill="#fff" stroke="#444" stroke-width="0.9" stroke-linejoin="round"/>
<polyline points="794.0,424.0 794.0,446.0" fill="none" stroke="#666" stroke-width="1.4"/>
<circle cx="776.7" cy="418.0" r="0.8" fill="#444"/>
<circle cx="797.4" cy="426.0" r="0.8" fill="#444"/>
<circle cx="790.5" cy="426.0" r="0.8" fill="#444"/>
<circle cx="811.3" cy="418.0" r="0.8" fill="#444"/>
<circle cx="776.7" cy="432.0" r="0.8" fill="#444"/>
<circle cx="797.4" cy="440.0" r="0.8" fill="#444"/>
<circle cx="790.5" cy="440.0" r="0.8" fill="#444"/>
<circle cx="811.3" cy="432.0" r="0.8" fill="#444"/>
<polygon points="779.3,407.8 779.8,406.3 780.6,404.9 781.9,403.6 783.6,402.5 785.5,401.6 787.8,400.8 790.2,400.3 792.7,400.1 795.2,400.1 797.8,400.3 800.2,400.8 802.4,401.6 804.4,402.5 806.0,403.6 807.3,404.9 808.2,406.3 808.6,407.8 808.6,412.7 808.2,414.2 807.3,415.6 806.0,416.9 804.4,418.0 802.4,418.9 800.2,419.7 797.8,420.2 795.2,420.4 792.7,420.4 790.2,420.2 787.8,419.7 785.5,418.9 783.6,418.0 781.9,416.9 780.6,415.6 779.8,414.2 779.3,412.7" fill="#fff" stroke="#444" stroke-width="0.8" stroke-linejoin="round"/>
<polygon points="804.4,402.5 806.0,403.6 807.3,404.9 808.2,406.3 808.6,407.8 808.6,409.2 808.2,410.7 807.3,412.1 806.0,413.4 804.4,414.5 802.4,415.5 800.2,416.2 797.8,416.7 795.3,417.0 792.7,417.0 790.2,416.7 787.8,416.2 785.5,415.5 783.6,414.5 781.9,413.4 780.7,412.1 779.8,410.7 779.3,409.2 779.3,407.8 779.8,406.3 780.7,404.9 781.9,403.6 783.6,402.5 785.5,401.5 787.8,400.8 790.2,400.3 792.7,400.0 795.3,400.0 797.8,400.3 800.2,400.8 802.4,401.5" fill="none" stroke="#444" stroke-width="0.8" stroke-linejoin="round"/>
<polygon points="801.3,404.2 802.5,405.1 803.4,406.0 804.0,406.9 804.3,408.0 804.3,409.0 804.0,410.1 803.4,411.0 802.5,411.9 801.3,412.8 799.9,413.4 798.4,413.9 796.7,414.3 794.9,414.5 793.1,414.5 791.3,414.3 789.6,413.9 788.0,413.4 786.6,412.8 785.4,411.9 784.5,411.0 783.9,410.1 783.6,409.0 783.6,408.0 783.9,406.9 784.5,406.0 785.4,405.1 786.6,404.2 788.0,403.6 789.6,403.1 791.3,402.7 793.1,402.5 794.9,402.5 796.7,402.7 798.4,403.1 799.9,403.6" fill="none" stroke="#666" stroke-width="0.7" stroke-linejoin="round"/>
<polygon points="798.3,406.0 799.0,406.5 799.5,407.0 799.9,407.6 800.1,408.2 800.1,408.8 799.9,409.4 799.5,410.0 799.0,410.5 798.3,411.0 797.5,411.4 796.6,411.7 795.6,411.9 794.5,412.0 793.4,412.0 792.4,411.9 791.4,411.7 790.5,411.4 789.6,411.0 789.0,410.5 788.4,410.0 788.1,409.4 787.9,408.8 787.9,408.2 788.1,407.6 788.4,407.0 789.0,406.5 789.6,406.0 790.5,405.6 791.4,405.3 792.4,405.1 793.4,405.0 794.5,405.0 795.6,405.1 796.6,405.3 797.5,405.6" fill="none" stroke="#444" stroke-width="0.8" stroke-linejoin="round"/>
<circle cx="802.6" cy="403.5" r="0.7" fill="#555"/>
<circle cx="806.2" cy="408.5" r="0.7" fill="#555"/>
<circle cx="802.6" cy="413.5" r="0.7" fill="#555"/>
<circle cx="794.0" cy="415.6" r="0.7" fill="#555"/>
<circle cx="785.3" cy="413.5" r="0.7" fill="#555"/>
<circle cx="781.7" cy="408.5" r="0.7" fill="#555"/>
<circle cx="785.3" cy="403.5" r="0.7" fill="#555"/>
<circle cx="794.0" cy="401.4" r="0.7" fill="#555"/>
<text transform="scale(0.93,1)" x="27.0 73.5 117.2 154.3 206.4 241.7 290.3 330.4 378.2 414.4 459.6" y="88.8" font-family="Liberation Sans" font-weight="bold" font-size="64" fill="#0387d1" stroke="#0387d1" stroke-width="0.9">RB–G4U–A–BS</text>

</svg>
<div class="abs" id="spec">規格表 Specifications:</div>
<div class="abs" id="unit">unit: mm</div>

<table class="sp" style="left:23px;top:1135px;width:961px;">
<colgroup><col style="width:106px"><col span="13" style="width:65.7px"></colgroup>
<tr class="h"><td></td><td></td><td></td><td></td><td></td><td></td><td></td><td></td><td></td><td></td><td></td><td></td><td></td><td></td></tr>
<tr style="height:44px"><td class="n"></td><td class="l"></td><td class="l"></td><td class="l" colspan="3" rowspan="2"></td><td class="l"></td><td class="l"></td><td class="l" colspan="2" rowspan="2"></td><td class="l"></td><td class="l"></td><td class="l" colspan="2" rowspan="2"></td></tr>
<tr style="height:44px"><td class="n"></td><td class="w"></td><td class="w"></td><td class="w"></td><td class="w"></td><td class="w"></td><td class="w"></td></tr>
</table>

<table class="sp" style="left:23px;top:1274px;width:567px;">
<colgroup><col style="width:106px"><col span="7" style="width:65.7px"></colgroup>
<tr class="h"><td></td><td></td><td></td><td></td><td></td><td></td><td></td><td></td></tr>
<tr style="height:44px"><td class="n"></td><td class="l" colspan="4" rowspan="2"></td><td class="l"></td><td class="l"></td><td class="l"></td></tr>
<tr style="height:44px"><td class="n"></td><td class="w"></td><td class="w"></td><td class="w"></td></tr>
</table>

<svg style="position:absolute;left:0;top:0" width="1000" height="1406" viewBox="0 0 1000 1406">
<text x="49.0" y="1156.1" text-anchor="start" font-family="Liberation Sans" font-size="17" font-weight="normal" fill="#ffffff" stroke="#ffffff" stroke-width="0.5" textLength="17.0" lengthAdjust="spacingAndGlyphs">規</text>
<text x="85.0" y="1156.1" text-anchor="start" font-family="Liberation Sans" font-size="17" font-weight="normal" fill="#ffffff" stroke="#ffffff" stroke-width="0.5" textLength="17.0" lengthAdjust="spacingAndGlyphs">格</text>
<text x="160.8" y="1156.1" text-anchor="middle" font-family="Liberation Sans" font-size="16.5" font-weight="normal" fill="#ffffff" stroke="#ffffff" stroke-width="0.55" textLength="49.5" lengthAdjust="spacingAndGlyphs">D1(H6)</text>
<text transform="scale(0.8,1)" x="271.7 284.1" y="1156.1" font-family="Liberation Sans" font-size="16.5" fill="#ffffff" stroke="#ffffff" stroke-width="0.6">D2</text>
<text transform="scale(0.8,1)" x="353.9 366.2" y="1156.1" font-family="Liberation Sans" font-size="16.5" fill="#ffffff" stroke="#ffffff" stroke-width="0.6">D3</text>
<text transform="scale(0.8,1)" x="436.0 448.3" y="1156.1" font-family="Liberation Sans" font-size="16.5" fill="#ffffff" stroke="#ffffff" stroke-width="0.6">D4</text>
<text transform="scale(0.8,1)" x="518.1 530.5" y="1156.1" font-family="Liberation Sans" font-size="16.5" fill="#ffffff" stroke="#ffffff" stroke-width="0.6">D5</text>
<text transform="scale(0.8,1)" x="600.2 612.6" y="1156.1" font-family="Liberation Sans" font-size="16.5" fill="#ffffff" stroke="#ffffff" stroke-width="0.6">D6</text>
<text transform="scale(0.8,1)" x="682.8 694.7" y="1156.1" font-family="Liberation Sans" font-size="16.5" fill="#ffffff" stroke="#ffffff" stroke-width="0.6">A1</text>
<text transform="scale(0.8,1)" x="764.9 776.8" y="1156.1" font-family="Liberation Sans" font-size="16.5" fill="#ffffff" stroke="#ffffff" stroke-width="0.6">A2</text>
<text transform="scale(0.8,1)" x="847.1 859.0" y="1156.1" font-family="Liberation Sans" font-size="16.5" fill="#ffffff" stroke="#ffffff" stroke-width="0.6">A3</text>
<text transform="scale(0.8,1)" x="929.2 941.1" y="1156.1" font-family="Liberation Sans" font-size="16.5" fill="#ffffff" stroke="#ffffff" stroke-width="0.6">A4</text>
<text transform="scale(0.8,1)" x="1011.3 1023.2" y="1156.1" font-family="Liberation Sans" font-size="16.5" fill="#ffffff" stroke="#ffffff" stroke-width="0.6">A5</text>
<text transform="scale(0.8,1)" x="1093.4 1105.3" y="1156.1" font-family="Liberation Sans" font-size="16.5" fill="#ffffff" stroke="#ffffff" stroke-width="0.6">A6</text>
<text transform="scale(0.8,1)" x="1175.6 1187.5" y="1156.1" font-family="Liberation Sans" font-size="16.5" fill="#ffffff" stroke="#ffffff" stroke-width="0.6">A7</text>
<text transform="scale(0.8,1)" x="46.9 58.4 70.3 81.3 92.3 102.4 113.4 125.3" y="1182.0" font-family="Liberation Sans" font-size="16.5" fill="#ffffff" stroke="#ffffff" stroke-width="0.45">RB080AS–</text>
<text transform="scale(0.8,1)" x="74.6 87.4 97.0" y="1204.0" font-family="Liberation Sans" font-size="16.5" fill="#ffffff" stroke="#ffffff" stroke-width="0.45">G4U</text>
<text transform="scale(0.8,1)" x="46.9 58.4 70.3 81.3 92.3 102.4 113.4 125.3" y="1227.0" font-family="Liberation Sans" font-size="16.5" fill="#ffffff" stroke="#ffffff" stroke-width="0.45">RB110AS–</text>
<text transform="scale(0.8,1)" x="74.6 87.4 97.0" y="1248.0" font-family="Liberation Sans" font-size="16.5" fill="#ffffff" stroke="#ffffff" stroke-width="0.45">G4U</text>
<text transform="scale(0.8,1)" x="175.1 186.2 199.8 208.4 219.6" y="1193.2" font-family="Liberation Sans" font-size="18" fill="#1e1e1e" stroke="#1e1e1e" stroke-width="0.35">28/36</text>
<text transform="scale(0.8,1)" x="273.9 285.0" y="1193.2" font-family="Liberation Sans" font-size="18" fill="#1e1e1e" stroke="#1e1e1e" stroke-width="0.35">45</text>
<text transform="scale(0.8,1)" x="191.7 202.9" y="1237.0" font-family="Liberation Sans" font-size="18" fill="#1e1e1e" stroke="#1e1e1e" stroke-width="0.35">40</text>
<text transform="scale(0.8,1)" x="273.9 285.0" y="1237.0" font-family="Liberation Sans" font-size="18" fill="#1e1e1e" stroke="#1e1e1e" stroke-width="0.35">65</text>
<text x="359.4" y="1215.5" text-anchor="middle" font-family="Liberation Sans" font-size="18" font-weight="normal" fill="#1e1e1e" stroke="#1e1e1e" stroke-width="0.4" textLength="141.8" lengthAdjust="spacingAndGlyphs">依螺桿之尺寸而定</text>
<text transform="scale(0.8,1)" x="593.8 604.9 618.6 627.2" y="1193.2" font-family="Liberation Sans" font-size="18" fill="#1e1e1e" stroke="#1e1e1e" stroke-width="0.35">61.5</text>
<text transform="scale(0.8,1)" x="573.9 585.0 598.6 607.2 620.9 629.5 640.6" y="1237.0" font-family="Liberation Sans" font-size="18" fill="#1e1e1e" stroke="#1e1e1e" stroke-width="0.35">61.5/65</text>
<text transform="scale(0.8,1)" x="677.0 688.1 699.2" y="1193.2" font-family="Liberation Sans" font-size="18" fill="#1e1e1e" stroke="#1e1e1e" stroke-width="0.35">110</text>
<text transform="scale(0.8,1)" x="677.9 689.0 700.1" y="1237.0" font-family="Liberation Sans" font-size="18" fill="#1e1e1e" stroke="#1e1e1e" stroke-width="0.35">142</text>
<text x="653.7" y="1205.5" text-anchor="middle" font-family="Liberation Sans" font-size="18" font-weight="normal" fill="#1e1e1e" stroke="#1e1e1e" stroke-width="0.4" textLength="87.5" lengthAdjust="spacingAndGlyphs">依螺姆尺寸</text>
<text x="655.0" y="1226.0" text-anchor="middle" font-family="Liberation Sans" font-size="18" font-weight="normal" fill="#1e1e1e" stroke="#1e1e1e" stroke-width="0.4" textLength="35.0" lengthAdjust="spacingAndGlyphs">而定</text>
<text transform="scale(0.8,1)" x="923.9 935.0 946.1" y="1193.2" font-family="Liberation Sans" font-size="18" fill="#1e1e1e" stroke="#1e1e1e" stroke-width="0.35">130</text>
<text transform="scale(0.8,1)" x="923.9 935.0 946.1" y="1237.0" font-family="Liberation Sans" font-size="18" fill="#1e1e1e" stroke="#1e1e1e" stroke-width="0.35">170</text>
<text transform="scale(0.8,1)" x="986.0 997.1 1013.0 1030.5 1044.1 1052.7" y="1193.2" font-family="Liberation Sans" font-size="18" fill="#1e1e1e" stroke="#1e1e1e" stroke-width="0.35">4–φ8.5</text>
<text transform="scale(0.8,1)" x="986.0 997.1 1013.0 1030.5 1044.1 1052.7" y="1237.0" font-family="Liberation Sans" font-size="18" fill="#1e1e1e" stroke="#1e1e1e" stroke-width="0.35">4–φ8.5</text>
<text x="868" y="1210" font-family="Liberation Sans" font-weight="bold" font-size="22" fill="#1e1e1e">*</text>
<text x="927.5" y="1205.5" text-anchor="middle" font-family="Liberation Sans" font-size="18" font-weight="normal" fill="#1e1e1e" stroke="#1e1e1e" stroke-width="0.4" textLength="86.0" lengthAdjust="spacingAndGlyphs">依螺桿跨距</text>
<text x="917.5" y="1226.0" text-anchor="middle" font-family="Liberation Sans" font-size="18" font-weight="normal" fill="#1e1e1e" stroke="#1e1e1e" stroke-width="0.4" textLength="35.0" lengthAdjust="spacingAndGlyphs">而定</text>
<text x="49.0" y="1294.5" text-anchor="start" font-family="Liberation Sans" font-size="16.5" font-weight="normal" fill="#ffffff" stroke="#ffffff" stroke-width="0.5" textLength="16.5" lengthAdjust="spacingAndGlyphs">規</text>
<text x="85.0" y="1294.5" text-anchor="start" font-family="Liberation Sans" font-size="16.5" font-weight="normal" fill="#ffffff" stroke="#ffffff" stroke-width="0.5" textLength="16.5" lengthAdjust="spacingAndGlyphs">格</text>
<text transform="scale(0.8,1)" x="190.1 202.0" y="1295.0" font-family="Liberation Sans" font-size="16.5" fill="#ffffff" stroke="#ffffff" stroke-width="0.6">A8</text>
<text transform="scale(0.8,1)" x="272.2 284.1" y="1295.0" font-family="Liberation Sans" font-size="16.5" fill="#ffffff" stroke="#ffffff" stroke-width="0.6">A9</text>
<text transform="scale(0.8,1)" x="348.8 360.7 371.7" y="1295.0" font-family="Liberation Sans" font-size="16.5" fill="#ffffff" stroke="#ffffff" stroke-width="0.6">A10</text>
<text transform="scale(0.8,1)" x="430.9 442.8 453.8" y="1295.0" font-family="Liberation Sans" font-size="16.5" fill="#ffffff" stroke="#ffffff" stroke-width="0.6">A11</text>
<text transform="scale(0.8,1)" x="513.1 525.0 536.0" y="1295.0" font-family="Liberation Sans" font-size="16.5" fill="#ffffff" stroke="#ffffff" stroke-width="0.6">A12</text>
<text transform="scale(0.8,1)" x="595.2 607.1 618.1" y="1295.0" font-family="Liberation Sans" font-size="16.5" fill="#ffffff" stroke="#ffffff" stroke-width="0.6">A13</text>
<text transform="scale(0.8,1)" x="677.3 689.2 700.2" y="1295.0" font-family="Liberation Sans" font-size="16.5" fill="#ffffff" stroke="#ffffff" stroke-width="0.6">A14</text>
<text transform="scale(0.8,1)" x="46.5 58.0 69.9 80.9 91.9 102.0 113.0 124.9" y="1320.0" font-family="Liberation Sans" font-size="16.5" fill="#ffffff" stroke="#ffffff" stroke-width="0.45">RB080AS–</text>
<text transform="scale(0.8,1)" x="74.5 87.3 96.9" y="1341.6" font-family="Liberation Sans" font-size="16.5" fill="#ffffff" stroke="#ffffff" stroke-width="0.45">G4U</text>
<text transform="scale(0.8,1)" x="46.5 58.0 69.9 80.9 91.9 102.0 113.0 124.9" y="1363.5" font-family="Liberation Sans" font-size="16.5" fill="#ffffff" stroke="#ffffff" stroke-width="0.45">RB110AS–</text>
<text transform="scale(0.8,1)" x="74.5 87.3 96.9" y="1384.5" font-family="Liberation Sans" font-size="16.5" fill="#ffffff" stroke="#ffffff" stroke-width="0.45">G4U</text>
<text x="192" y="1357.5" font-family="Liberation Sans" font-weight="bold" font-size="22" fill="#1e1e1e">*</text>
<text x="270.0" y="1353.0" text-anchor="middle" font-family="Liberation Sans" font-size="18" font-weight="normal" fill="#1e1e1e" stroke="#1e1e1e" stroke-width="0.4" textLength="120.0" lengthAdjust="spacingAndGlyphs">依螺桿跨距而定</text>
<text transform="scale(0.8,1)" x="513.5 524.6 535.7" y="1331.4" font-family="Liberation Sans" font-size="18" fill="#1e1e1e" stroke="#1e1e1e" stroke-width="0.35">120</text>
<text transform="scale(0.8,1)" x="595.5 606.6 617.7" y="1331.4" font-family="Liberation Sans" font-size="18" fill="#1e1e1e" stroke="#1e1e1e" stroke-width="0.35">145</text>
<text transform="scale(0.8,1)" x="657.2 668.4 684.2 701.7 715.4 724.0" y="1331.4" font-family="Liberation Sans" font-size="18" fill="#1e1e1e" stroke="#1e1e1e" stroke-width="0.35">4–φ8.5</text>
<text transform="scale(0.8,1)" x="513.5 524.6 535.7" y="1375.5" font-family="Liberation Sans" font-size="18" fill="#1e1e1e" stroke="#1e1e1e" stroke-width="0.35">142</text>
<text transform="scale(0.8,1)" x="595.5 606.6 617.7" y="1375.5" font-family="Liberation Sans" font-size="18" fill="#1e1e1e" stroke="#1e1e1e" stroke-width="0.35">170</text>
<text transform="scale(0.8,1)" x="657.2 668.4 684.2 701.7 715.4 724.0" y="1375.5" font-family="Liberation Sans" font-size="18" fill="#1e1e1e" stroke="#1e1e1e" stroke-width="0.35">4–φ8.5</text>

</svg>
</body></html>
